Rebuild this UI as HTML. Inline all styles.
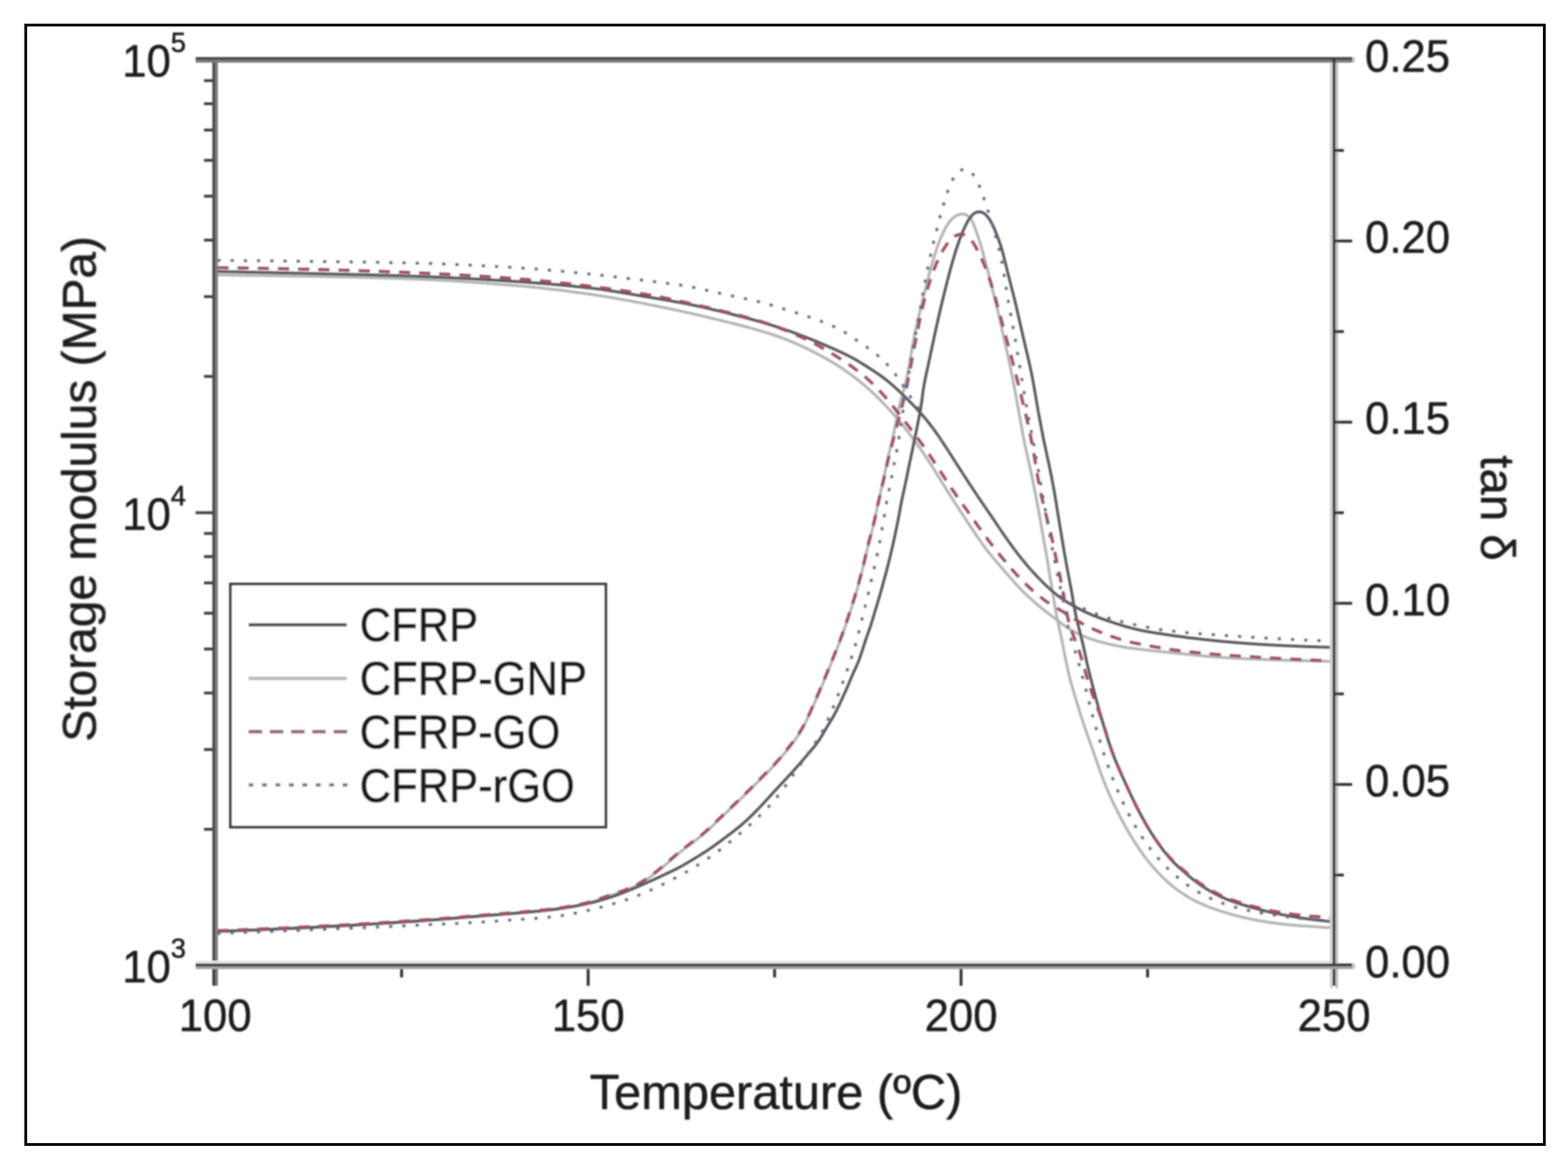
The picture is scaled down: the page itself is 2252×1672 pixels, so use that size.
<!DOCTYPE html>
<html><head><meta charset="utf-8"><title>DMA plot</title>
<style>html,body{margin:0;padding:0;background:#fff;overflow:hidden}svg{display:block}</style>
</head><body>
<svg width="2252" height="1672" viewBox="0 0 2252 1672">
<rect width="100%" height="100%" fill="#fff"/>
<rect x="37" y="36" width="2181" height="1608" fill="none" stroke="#000" stroke-width="4"/>
<defs><filter id="soft" x="0" y="0" width="100%" height="100%" filterUnits="userSpaceOnUse"><feGaussianBlur stdDeviation="0.8"/></filter></defs>
<g filter="url(#soft)">
<g fill="none" stroke-linejoin="round">
<path stroke="#b2b4b2" stroke-width="4" d="M312.2,395.0 L313.3,395.0 L314.6,395.0 L316.0,395.1 L317.7,395.1 L319.4,395.1 L321.2,395.1 L323.1,395.1 L325.1,395.1 L327.0,395.2 L329.0,395.2 L331.0,395.2 L333.0,395.2 L335.0,395.3 L337.0,395.3 L339.0,395.3 L341.0,395.3 L343.0,395.3 L345.0,395.4 L347.0,395.4 L349.0,395.4 L351.0,395.4 L353.0,395.5 L355.0,395.5 L357.0,395.5 L359.0,395.5 L361.0,395.6 L363.0,395.6 L365.0,395.6 L367.0,395.6 L369.0,395.7 L371.0,395.7 L373.0,395.7 L375.0,395.8 L377.0,395.8 L379.0,395.8 L381.0,395.8 L383.0,395.9 L385.0,395.9 L387.0,395.9 L389.0,396.0 L391.0,396.0 L393.0,396.0 L395.0,396.1 L397.0,396.1 L399.0,396.1 L401.0,396.2 L403.0,396.2 L405.0,396.2 L407.0,396.2 L409.0,396.3 L411.0,396.3 L413.0,396.3 L415.0,396.4 L417.0,396.4 L419.0,396.4 L421.0,396.5 L423.0,396.5 L425.0,396.6 L427.0,396.6 L429.0,396.6 L431.0,396.7 L433.0,396.7 L435.0,396.7 L437.0,396.8 L439.0,396.8 L441.0,396.8 L443.0,396.9 L445.0,396.9 L447.0,396.9 L449.0,397.0 L451.0,397.0 L453.0,397.1 L455.0,397.1 L457.0,397.1 L459.0,397.2 L461.0,397.2 L463.0,397.2 L465.0,397.3 L467.0,397.3 L469.0,397.4 L471.0,397.4 L473.0,397.4 L475.0,397.5 L477.0,397.5 L479.0,397.6 L481.0,397.6 L483.0,397.7 L485.0,397.7 L487.0,397.7 L489.0,397.8 L491.0,397.8 L493.0,397.9 L495.0,397.9 L497.0,398.0 L499.0,398.0 L501.0,398.0 L503.0,398.1 L505.0,398.1 L507.0,398.2 L509.0,398.2 L511.0,398.3 L513.0,398.3 L515.0,398.4 L517.0,398.4 L519.0,398.5 L521.0,398.5 L523.0,398.6 L525.0,398.6 L527.0,398.7 L529.0,398.7 L531.0,398.8 L533.0,398.8 L535.0,398.9 L537.0,399.0 L539.0,399.0 L541.0,399.1 L543.0,399.1 L545.0,399.2 L547.0,399.2 L549.0,399.3 L551.0,399.4 L553.0,399.4 L555.0,399.5 L557.0,399.5 L559.0,399.6 L561.0,399.7 L563.0,399.7 L565.0,399.8 L566.9,399.8 L568.9,399.9 L570.9,400.0 L572.9,400.0 L574.9,400.1 L576.9,400.2 L578.9,400.2 L580.9,400.3 L582.9,400.4 L584.9,400.5 L586.9,400.5 L588.9,400.6 L590.9,400.7 L592.9,400.7 L594.9,400.8 L596.9,400.9 L598.9,401.0 L600.9,401.0 L602.9,401.1 L604.9,401.2 L606.9,401.3 L608.9,401.4 L610.9,401.5 L612.9,401.5 L614.9,401.6 L616.9,401.7 L618.9,401.8 L620.9,401.9 L622.9,402.0 L624.9,402.1 L626.9,402.2 L628.9,402.3 L630.9,402.4 L632.9,402.5 L634.9,402.6 L636.9,402.7 L638.9,402.8 L640.9,403.0 L642.9,403.1 L644.9,403.2 L646.9,403.3 L648.9,403.4 L650.9,403.5 L652.9,403.7 L654.9,403.8 L656.9,403.9 L658.9,404.0 L660.8,404.1 L662.8,404.3 L664.8,404.4 L666.8,404.5 L668.8,404.7 L670.8,404.8 L672.8,404.9 L674.8,405.1 L676.8,405.2 L678.8,405.3 L680.8,405.5 L682.8,405.6 L684.8,405.8 L686.8,405.9 L688.8,406.1 L690.8,406.2 L692.8,406.4 L694.8,406.5 L696.8,406.7 L698.8,406.8 L700.7,407.0 L702.7,407.1 L704.7,407.3 L706.7,407.4 L708.7,407.6 L710.7,407.7 L712.7,407.9 L714.7,408.0 L716.7,408.2 L718.7,408.4 L720.7,408.5 L722.7,408.7 L724.7,408.9 L726.7,409.0 L728.7,409.2 L730.7,409.4 L732.6,409.5 L734.6,409.7 L736.6,409.9 L738.6,410.0 L740.6,410.2 L742.6,410.4 L744.6,410.5 L746.6,410.7 L748.6,410.9 L750.6,411.1 L752.6,411.2 L754.6,411.4 L756.6,411.6 L758.5,411.8 L760.5,412.0 L762.5,412.2 L764.5,412.4 L766.5,412.6 L768.5,412.8 L770.5,413.0 L772.5,413.2 L774.5,413.4 L776.5,413.6 L778.4,413.8 L780.4,414.0 L782.4,414.3 L784.4,414.5 L786.4,414.7 L788.4,414.9 L790.4,415.2 L792.4,415.4 L794.3,415.6 L796.3,415.9 L798.3,416.1 L800.3,416.3 L802.3,416.6 L804.3,416.8 L806.2,417.1 L808.2,417.3 L810.2,417.6 L812.2,417.8 L814.2,418.1 L816.2,418.4 L818.2,418.6 L820.1,418.9 L822.1,419.1 L824.1,419.4 L826.1,419.7 L828.1,419.9 L830.0,420.2 L832.0,420.5 L834.0,420.8 L836.0,421.0 L838.0,421.3 L839.9,421.6 L841.9,421.9 L843.9,422.1 L845.9,422.4 L847.9,422.7 L849.8,423.0 L851.8,423.3 L853.8,423.6 L855.8,423.9 L857.8,424.2 L859.7,424.5 L861.7,424.8 L863.7,425.1 L865.7,425.4 L867.6,425.7 L869.6,426.0 L871.6,426.4 L873.6,426.7 L875.5,427.0 L877.5,427.3 L879.5,427.7 L881.5,428.0 L883.4,428.4 L885.4,428.7 L887.4,429.0 L889.3,429.4 L891.3,429.7 L893.3,430.1 L895.2,430.5 L897.2,430.8 L899.2,431.2 L901.1,431.5 L903.1,431.9 L905.1,432.3 L907.0,432.6 L909.0,433.0 L911.0,433.4 L912.9,433.7 L914.9,434.1 L916.9,434.5 L918.8,434.9 L920.8,435.3 L922.8,435.6 L924.7,436.0 L926.7,436.4 L928.6,436.8 L930.6,437.2 L932.6,437.5 L934.5,437.9 L936.5,438.3 L938.5,438.7 L940.4,439.1 L942.4,439.5 L944.3,439.9 L946.3,440.3 L948.3,440.7 L950.2,441.1 L952.2,441.5 L954.1,441.9 L956.1,442.3 L958.1,442.7 L960.0,443.1 L962.0,443.5 L963.9,443.9 L965.9,444.3 L967.8,444.7 L969.8,445.1 L971.8,445.6 L973.7,446.0 L975.7,446.4 L977.6,446.8 L979.6,447.3 L981.5,447.7 L983.5,448.1 L985.4,448.6 L987.4,449.0 L989.3,449.4 L991.3,449.9 L993.2,450.3 L995.2,450.7 L997.1,451.2 L999.1,451.6 L1001.0,452.1 L1003.0,452.5 L1004.9,453.0 L1006.9,453.4 L1008.8,453.9 L1010.8,454.4 L1012.7,454.8 L1014.7,455.3 L1016.6,455.8 L1018.6,456.2 L1020.5,456.7 L1022.4,457.2 L1024.4,457.6 L1026.3,458.1 L1028.3,458.6 L1030.2,459.1 L1032.2,459.5 L1034.1,460.0 L1036.0,460.5 L1038.0,461.0 L1039.9,461.5 L1041.9,461.9 L1043.8,462.4 L1045.8,462.9 L1047.7,463.4 L1049.6,463.9 L1051.6,464.3 L1053.5,464.8 L1055.5,465.3 L1057.4,465.8 L1059.3,466.3 L1061.3,466.8 L1063.2,467.3 L1065.1,467.8 L1067.1,468.3 L1069.0,468.8 L1070.9,469.3 L1072.9,469.8 L1074.8,470.3 L1076.7,470.9 L1078.7,471.4 L1080.6,471.9 L1082.5,472.5 L1084.5,473.0 L1086.4,473.5 L1088.3,474.1 L1090.2,474.7 L1092.1,475.2 L1094.1,475.8 L1096.0,476.4 L1097.9,476.9 L1099.8,477.5 L1101.7,478.1 L1103.6,478.7 L1105.5,479.3 L1107.4,479.9 L1109.3,480.6 L1111.2,481.2 L1113.1,481.8 L1115.0,482.5 L1116.9,483.1 L1118.8,483.8 L1120.7,484.5 L1122.5,485.2 L1124.4,485.9 L1126.3,486.6 L1128.2,487.3 L1130.0,488.0 L1131.9,488.7 L1133.7,489.5 L1135.6,490.2 L1137.4,491.0 L1139.3,491.8 L1141.1,492.6 L1142.9,493.4 L1144.8,494.2 L1146.6,495.0 L1148.4,495.8 L1150.2,496.6 L1152.1,497.5 L1153.9,498.3 L1155.7,499.2 L1157.5,500.1 L1159.3,500.9 L1161.1,501.8 L1162.9,502.7 L1164.6,503.6 L1166.4,504.5 L1168.2,505.4 L1170.0,506.3 L1171.8,507.2 L1173.5,508.2 L1175.3,509.1 L1177.1,510.0 L1178.8,511.0 L1180.6,511.9 L1182.3,512.9 L1184.1,513.9 L1185.8,514.8 L1187.6,515.8 L1189.3,516.8 L1191.1,517.8 L1192.8,518.8 L1194.5,519.8 L1196.2,520.8 L1197.9,521.9 L1199.7,522.9 L1201.3,524.0 L1203.0,525.0 L1204.7,526.1 L1206.4,527.2 L1208.1,528.3 L1209.7,529.4 L1211.4,530.5 L1213.0,531.7 L1214.7,532.8 L1216.3,534.0 L1217.9,535.1 L1219.6,536.3 L1221.2,537.5 L1222.8,538.7 L1224.4,539.9 L1226.0,541.1 L1227.6,542.3 L1229.2,543.5 L1230.8,544.7 L1232.3,545.9 L1233.9,547.2 L1235.4,548.4 L1237.0,549.7 L1238.5,551.0 L1240.1,552.3 L1241.6,553.5 L1243.1,554.8 L1244.6,556.2 L1246.1,557.5 L1247.6,558.8 L1249.1,560.1 L1250.6,561.5 L1252.1,562.8 L1253.5,564.2 L1255.0,565.6 L1256.5,566.9 L1257.9,568.3 L1259.3,569.7 L1260.8,571.1 L1262.2,572.5 L1263.6,573.9 L1265.0,575.3 L1266.4,576.8 L1267.8,578.2 L1269.2,579.6 L1270.6,581.1 L1271.9,582.5 L1273.3,584.0 L1274.7,585.5 L1276.0,586.9 L1277.4,588.4 L1278.7,589.9 L1280.0,591.4 L1281.3,592.9 L1282.7,594.4 L1284.0,595.9 L1285.3,597.4 L1286.6,598.9 L1287.9,600.5 L1289.2,602.0 L1290.5,603.5 L1291.8,605.0 L1293.0,606.6 L1294.3,608.1 L1295.6,609.7 L1296.9,611.2 L1298.1,612.8 L1299.4,614.3 L1300.6,615.9 L1301.8,617.5 L1303.1,619.0 L1304.3,620.6 L1305.5,622.2 L1306.7,623.8 L1308.0,625.4 L1309.2,627.0 L1310.4,628.6 L1311.5,630.2 L1312.7,631.8 L1313.9,633.4 L1315.1,635.0 L1316.3,636.6 L1317.4,638.3 L1318.6,639.9 L1319.7,641.5 L1320.9,643.2 L1322.0,644.8 L1323.2,646.5 L1324.3,648.1 L1325.4,649.8 L1326.5,651.4 L1327.7,653.1 L1328.8,654.7 L1329.9,656.4 L1331.0,658.1 L1332.1,659.7 L1333.2,661.4 L1334.3,663.1 L1335.4,664.8 L1336.5,666.4 L1337.5,668.1 L1338.6,669.8 L1339.7,671.5 L1340.7,673.2 L1341.8,674.9 L1342.9,676.6 L1343.9,678.3 L1345.0,680.0 L1346.0,681.7 L1347.1,683.4 L1348.1,685.1 L1349.2,686.8 L1350.2,688.5 L1351.3,690.2 L1352.3,691.9 L1353.4,693.6 L1354.4,695.3 L1355.5,697.0 L1356.6,698.7 L1357.6,700.4 L1358.7,702.1 L1359.8,703.8 L1360.8,705.4 L1361.9,707.1 L1363.0,708.8 L1364.1,710.5 L1365.1,712.2 L1366.2,713.9 L1367.3,715.6 L1368.4,717.2 L1369.5,718.9 L1370.5,720.6 L1371.6,722.3 L1372.7,724.0 L1373.8,725.7 L1374.9,727.3 L1376.0,729.0 L1377.0,730.7 L1378.1,732.4 L1379.2,734.1 L1380.3,735.7 L1381.4,737.4 L1382.5,739.1 L1383.6,740.8 L1384.7,742.4 L1385.8,744.1 L1386.8,745.8 L1387.9,747.5 L1389.0,749.1 L1390.1,750.8 L1391.3,752.5 L1392.4,754.1 L1393.5,755.8 L1394.6,757.5 L1395.7,759.1 L1396.8,760.8 L1397.9,762.4 L1399.1,764.1 L1400.2,765.7 L1401.3,767.4 L1402.4,769.1 L1403.6,770.7 L1404.7,772.4 L1405.8,774.0 L1407.0,775.6 L1408.1,777.3 L1409.3,778.9 L1410.4,780.6 L1411.6,782.2 L1412.7,783.8 L1413.9,785.4 L1415.1,787.0 L1416.3,788.6 L1417.5,790.2 L1418.7,791.8 L1420.0,793.4 L1421.2,794.9 L1422.5,796.5 L1423.7,798.1 L1425.0,799.6 L1426.2,801.2 L1427.5,802.7 L1428.8,804.2 L1430.1,805.8 L1431.4,807.3 L1432.7,808.8 L1434.0,810.3 L1435.3,811.8 L1436.6,813.3 L1437.9,814.8 L1439.2,816.4 L1440.6,817.9 L1441.9,819.4 L1443.2,820.9 L1444.5,822.4 L1445.8,823.9 L1447.1,825.4 L1448.4,826.9 L1449.8,828.4 L1451.1,829.9 L1452.4,831.4 L1453.7,832.9 L1455.0,834.4 L1456.4,835.9 L1457.7,837.4 L1459.0,838.9 L1460.4,840.4 L1461.8,841.8 L1463.1,843.3 L1464.5,844.7 L1465.9,846.2 L1467.3,847.6 L1468.7,849.0 L1470.1,850.4 L1471.5,851.8 L1473.0,853.2 L1474.4,854.6 L1475.9,856.0 L1477.3,857.3 L1478.8,858.7 L1480.3,860.0 L1481.8,861.4 L1483.3,862.7 L1484.8,864.0 L1486.3,865.4 L1487.8,866.7 L1489.3,868.0 L1490.8,869.3 L1492.4,870.5 L1493.9,871.8 L1495.4,873.1 L1497.0,874.3 L1498.6,875.6 L1500.1,876.8 L1501.7,878.1 L1503.3,879.3 L1504.9,880.5 L1506.5,881.7 L1508.1,882.9 L1509.6,884.1 L1511.2,885.3 L1512.8,886.5 L1514.4,887.8 L1516.0,889.0 L1517.6,890.2 L1519.2,891.4 L1520.8,892.6 L1522.4,893.8 L1523.9,895.1 L1525.5,896.3 L1527.1,897.5 L1528.7,898.6 L1530.4,899.8 L1532.0,900.9 L1533.7,902.1 L1535.3,903.1 L1537.0,904.2 L1538.8,905.2 L1540.5,906.2 L1542.2,907.2 L1544.0,908.1 L1545.8,909.0 L1547.6,909.9 L1549.4,910.7 L1551.2,911.6 L1553.0,912.4 L1554.8,913.2 L1556.7,914.0 L1558.5,914.7 L1560.4,915.4 L1562.3,916.1 L1564.1,916.8 L1566.0,917.5 L1567.9,918.1 L1569.8,918.8 L1571.7,919.4 L1573.6,920.0 L1575.5,920.6 L1577.5,921.1 L1579.4,921.7 L1581.3,922.2 L1583.2,922.7 L1585.2,923.2 L1587.1,923.7 L1589.0,924.2 L1591.0,924.7 L1592.9,925.1 L1594.9,925.6 L1596.8,926.0 L1598.8,926.5 L1600.7,926.9 L1602.7,927.3 L1604.7,927.7 L1606.6,928.1 L1608.6,928.5 L1610.5,928.8 L1612.5,929.2 L1614.5,929.5 L1616.5,929.8 L1618.4,930.2 L1620.4,930.5 L1622.4,930.8 L1624.4,931.0 L1626.3,931.3 L1628.3,931.6 L1630.3,931.8 L1632.3,932.1 L1634.3,932.4 L1636.3,932.6 L1638.3,932.8 L1640.2,933.1 L1642.2,933.3 L1644.2,933.5 L1646.2,933.7 L1648.2,933.9 L1650.2,934.2 L1652.2,934.4 L1654.2,934.6 L1656.1,934.8 L1658.1,935.0 L1660.1,935.2 L1662.1,935.4 L1664.1,935.6 L1666.1,935.8 L1668.1,936.0 L1670.1,936.2 L1672.1,936.4 L1674.1,936.6 L1676.0,936.8 L1678.0,937.0 L1680.0,937.2 L1682.0,937.4 L1684.0,937.6 L1686.0,937.8 L1688.0,938.1 L1690.0,938.3 L1692.0,938.5 L1693.9,938.7 L1695.9,938.9 L1697.9,939.1 L1699.9,939.3 L1701.9,939.5 L1703.9,939.7 L1705.9,940.0 L1707.9,940.2 L1709.9,940.4 L1711.8,940.6 L1713.8,940.8 L1715.8,941.0 L1717.8,941.2 L1719.8,941.4 L1721.8,941.6 L1723.8,941.8 L1725.8,942.0 L1727.8,942.2 L1729.8,942.3 L1731.7,942.5 L1733.7,942.7 L1735.7,942.9 L1737.7,943.0 L1739.7,943.2 L1741.7,943.4 L1743.7,943.5 L1745.7,943.7 L1747.7,943.8 L1749.7,944.0 L1751.7,944.1 L1753.7,944.3 L1755.7,944.4 L1757.7,944.5 L1759.7,944.6 L1761.7,944.8 L1763.7,944.9 L1765.7,945.0 L1767.7,945.1 L1769.6,945.2 L1771.6,945.3 L1773.6,945.4 L1775.6,945.5 L1777.6,945.6 L1779.6,945.7 L1781.6,945.8 L1783.6,945.9 L1785.6,946.0 L1787.6,946.1 L1789.6,946.2 L1791.6,946.3 L1793.6,946.4 L1795.6,946.5 L1797.6,946.6 L1799.6,946.7 L1801.6,946.7 L1803.6,946.8 L1805.6,946.9 L1807.6,947.0 L1809.6,947.1 L1811.6,947.1 L1813.6,947.2 L1815.6,947.3 L1817.6,947.4 L1819.6,947.4 L1821.6,947.5 L1823.6,947.6 L1825.6,947.6 L1827.6,947.7 L1829.6,947.8 L1831.6,947.8 L1833.6,947.9 L1835.6,948.0 L1837.6,948.0 L1839.6,948.1 L1841.6,948.2 L1843.6,948.2 L1845.6,948.3 L1847.6,948.4 L1849.6,948.4 L1851.6,948.5 L1853.6,948.5 L1855.6,948.6 L1857.6,948.7 L1859.6,948.7 L1861.6,948.8 L1863.6,948.8 L1865.6,948.9 L1867.6,948.9 L1869.6,949.0 L1871.6,949.0 L1873.6,949.1 L1875.6,949.1 L1877.6,949.2 L1879.6,949.3 L1881.6,949.3 L1883.6,949.3 L1885.6,949.4 L1887.6,949.4 L1889.6,949.5 L1891.6,949.5 L1893.6,949.6 L1895.6,949.6 L1897.5,949.7 L1899.5,949.7 L1901.4,949.7 L1903.3,949.8 L1905.2,949.8 L1906.9,949.8 L1908.5,949.9 L1910.0,949.9 L1911.3,949.9 L1912.4,949.9"/>
<path stroke="#b2b4b2" stroke-width="4" d="M312.2,1337.9 L313.3,1337.9 L314.6,1337.8 L316.0,1337.8 L317.7,1337.7 L319.4,1337.6 L321.2,1337.6 L323.1,1337.5 L325.1,1337.4 L327.0,1337.4 L329.0,1337.3 L331.0,1337.2 L333.0,1337.1 L335.0,1337.1 L337.0,1337.0 L339.0,1336.9 L341.0,1336.8 L343.0,1336.8 L345.0,1336.7 L347.0,1336.6 L349.0,1336.5 L351.0,1336.4 L353.0,1336.4 L355.0,1336.3 L357.0,1336.2 L359.0,1336.1 L361.0,1336.0 L363.0,1336.0 L365.0,1335.9 L367.0,1335.8 L369.0,1335.7 L371.0,1335.6 L373.0,1335.5 L375.0,1335.5 L376.9,1335.4 L378.9,1335.3 L380.9,1335.2 L382.9,1335.1 L384.9,1335.0 L386.9,1334.9 L388.9,1334.9 L390.9,1334.8 L392.9,1334.7 L394.9,1334.6 L396.9,1334.5 L398.9,1334.4 L400.9,1334.3 L402.9,1334.2 L404.9,1334.1 L406.9,1334.1 L408.9,1334.0 L410.9,1333.9 L412.9,1333.8 L414.9,1333.7 L416.9,1333.6 L418.9,1333.5 L420.9,1333.4 L422.9,1333.3 L424.9,1333.2 L426.9,1333.1 L428.9,1333.0 L430.9,1332.9 L432.9,1332.8 L434.9,1332.7 L436.9,1332.6 L438.9,1332.5 L440.9,1332.4 L442.9,1332.3 L444.9,1332.3 L446.9,1332.2 L448.9,1332.1 L450.9,1332.0 L452.9,1331.9 L454.9,1331.8 L456.9,1331.7 L458.9,1331.5 L460.9,1331.4 L462.9,1331.3 L464.9,1331.2 L466.8,1331.1 L468.8,1331.0 L470.8,1330.9 L472.8,1330.8 L474.8,1330.7 L476.8,1330.6 L478.8,1330.5 L480.8,1330.4 L482.8,1330.3 L484.8,1330.2 L486.8,1330.1 L488.8,1330.0 L490.8,1329.8 L492.8,1329.7 L494.8,1329.6 L496.8,1329.5 L498.8,1329.4 L500.8,1329.3 L502.8,1329.2 L504.8,1329.1 L506.8,1328.9 L508.8,1328.8 L510.8,1328.7 L512.8,1328.6 L514.8,1328.5 L516.8,1328.4 L518.8,1328.2 L520.8,1328.1 L522.8,1328.0 L524.8,1327.9 L526.8,1327.8 L528.7,1327.6 L530.7,1327.5 L532.7,1327.4 L534.7,1327.3 L536.7,1327.1 L538.7,1327.0 L540.7,1326.9 L542.7,1326.8 L544.7,1326.6 L546.7,1326.5 L548.7,1326.4 L550.7,1326.3 L552.7,1326.1 L554.7,1326.0 L556.7,1325.9 L558.7,1325.8 L560.7,1325.6 L562.7,1325.5 L564.7,1325.4 L566.7,1325.2 L568.7,1325.1 L570.7,1325.0 L572.7,1324.8 L574.7,1324.7 L576.7,1324.6 L578.6,1324.4 L580.6,1324.3 L582.6,1324.2 L584.6,1324.0 L586.6,1323.9 L588.6,1323.8 L590.6,1323.6 L592.6,1323.5 L594.6,1323.4 L596.6,1323.2 L598.6,1323.1 L600.6,1323.0 L602.6,1322.8 L604.6,1322.7 L606.6,1322.5 L608.6,1322.4 L610.6,1322.2 L612.6,1322.1 L614.6,1321.9 L616.6,1321.8 L618.5,1321.6 L620.5,1321.5 L622.5,1321.3 L624.5,1321.2 L626.5,1321.0 L628.5,1320.9 L630.5,1320.7 L632.5,1320.6 L634.5,1320.4 L636.5,1320.3 L638.5,1320.1 L640.5,1319.9 L642.5,1319.8 L644.5,1319.6 L646.5,1319.5 L648.5,1319.3 L650.5,1319.1 L652.4,1319.0 L654.4,1318.8 L656.4,1318.6 L658.4,1318.5 L660.4,1318.3 L662.4,1318.1 L664.4,1318.0 L666.4,1317.8 L668.4,1317.6 L670.4,1317.5 L672.4,1317.3 L674.4,1317.1 L676.4,1317.0 L678.4,1316.8 L680.3,1316.6 L682.3,1316.5 L684.3,1316.3 L686.3,1316.1 L688.3,1316.0 L690.3,1315.8 L692.3,1315.6 L694.3,1315.5 L696.3,1315.3 L698.3,1315.1 L700.3,1315.0 L702.3,1314.8 L704.3,1314.7 L706.3,1314.5 L708.3,1314.3 L710.2,1314.2 L712.2,1314.0 L714.2,1313.9 L716.2,1313.7 L718.2,1313.5 L720.2,1313.4 L722.2,1313.2 L724.2,1313.1 L726.2,1312.9 L728.2,1312.7 L730.2,1312.6 L732.2,1312.4 L734.2,1312.3 L736.2,1312.1 L738.2,1311.9 L740.1,1311.8 L742.1,1311.6 L744.1,1311.4 L746.1,1311.3 L748.1,1311.1 L750.1,1310.9 L752.1,1310.8 L754.1,1310.6 L756.1,1310.4 L758.1,1310.2 L760.1,1310.1 L762.1,1309.9 L764.1,1309.7 L766.0,1309.5 L768.0,1309.3 L770.0,1309.1 L772.0,1308.9 L774.0,1308.7 L776.0,1308.5 L778.0,1308.3 L780.0,1308.1 L782.0,1307.9 L784.0,1307.6 L785.9,1307.4 L787.9,1307.2 L789.9,1306.9 L791.9,1306.7 L793.9,1306.5 L795.9,1306.2 L797.8,1305.9 L799.8,1305.7 L801.8,1305.4 L803.8,1305.1 L805.8,1304.8 L807.8,1304.6 L809.7,1304.3 L811.7,1304.0 L813.7,1303.6 L815.7,1303.3 L817.6,1303.0 L819.6,1302.7 L821.6,1302.3 L823.5,1302.0 L825.5,1301.6 L827.5,1301.2 L829.4,1300.8 L831.4,1300.4 L833.3,1300.0 L835.3,1299.5 L837.2,1299.1 L839.2,1298.6 L841.1,1298.2 L843.1,1297.7 L845.0,1297.1 L846.9,1296.6 L848.8,1296.1 L850.7,1295.5 L852.7,1294.9 L854.6,1294.3 L856.5,1293.7 L858.3,1293.0 L860.2,1292.4 L862.1,1291.7 L864.0,1291.0 L865.9,1290.3 L867.8,1289.7 L869.6,1289.0 L871.5,1288.3 L873.4,1287.7 L875.3,1287.0 L877.2,1286.4 L879.1,1285.7 L881.0,1285.1 L882.9,1284.5 L884.8,1283.9 L886.7,1283.2 L888.6,1282.6 L890.5,1282.0 L892.4,1281.3 L894.3,1280.7 L896.2,1280.0 L898.0,1279.3 L899.9,1278.6 L901.7,1277.8 L903.6,1277.1 L905.4,1276.2 L907.2,1275.4 L909.0,1274.6 L910.8,1273.7 L912.6,1272.8 L914.4,1271.8 L916.1,1270.9 L917.9,1269.9 L919.6,1268.9 L921.3,1267.9 L923.0,1266.8 L924.7,1265.8 L926.4,1264.7 L928.0,1263.6 L929.7,1262.5 L931.3,1261.3 L933.0,1260.2 L934.6,1259.0 L936.2,1257.8 L937.8,1256.6 L939.4,1255.4 L941.0,1254.2 L942.6,1253.0 L944.1,1251.7 L945.7,1250.5 L947.2,1249.2 L948.8,1248.0 L950.3,1246.7 L951.9,1245.4 L953.4,1244.1 L954.9,1242.8 L956.4,1241.5 L957.9,1240.2 L959.4,1238.9 L961.0,1237.6 L962.5,1236.3 L964.0,1235.0 L965.5,1233.7 L967.0,1232.3 L968.5,1231.0 L970.0,1229.7 L971.6,1228.4 L973.1,1227.1 L974.6,1225.9 L976.1,1224.6 L977.7,1223.3 L979.2,1222.0 L980.8,1220.8 L982.4,1219.5 L983.9,1218.3 L985.5,1217.1 L987.1,1215.9 L988.7,1214.7 L990.3,1213.5 L991.9,1212.3 L993.5,1211.1 L995.1,1209.9 L996.7,1208.7 L998.4,1207.5 L1000.0,1206.3 L1001.5,1205.1 L1003.1,1203.9 L1004.7,1202.7 L1006.3,1201.5 L1007.8,1200.2 L1009.4,1198.9 L1010.9,1197.6 L1012.4,1196.3 L1013.9,1195.0 L1015.4,1193.7 L1016.9,1192.3 L1018.4,1191.0 L1019.8,1189.6 L1021.3,1188.3 L1022.7,1186.9 L1024.2,1185.5 L1025.6,1184.1 L1027.1,1182.7 L1028.5,1181.3 L1029.9,1179.9 L1031.4,1178.5 L1032.8,1177.1 L1034.2,1175.8 L1035.7,1174.4 L1037.1,1173.0 L1038.5,1171.6 L1040.0,1170.2 L1041.4,1168.8 L1042.9,1167.5 L1044.3,1166.1 L1045.8,1164.7 L1047.3,1163.3 L1048.7,1162.0 L1050.2,1160.6 L1051.6,1159.2 L1053.1,1157.8 L1054.5,1156.5 L1056.0,1155.1 L1057.4,1153.7 L1058.9,1152.3 L1060.3,1151.0 L1061.8,1149.6 L1063.2,1148.2 L1064.7,1146.8 L1066.1,1145.4 L1067.5,1144.0 L1069.0,1142.6 L1070.4,1141.2 L1071.8,1139.8 L1073.2,1138.4 L1074.6,1137.0 L1076.1,1135.6 L1077.5,1134.2 L1078.9,1132.8 L1080.3,1131.3 L1081.7,1129.9 L1083.1,1128.5 L1084.5,1127.1 L1085.9,1125.7 L1087.3,1124.2 L1088.8,1122.8 L1090.2,1121.4 L1091.6,1120.0 L1093.0,1118.6 L1094.4,1117.2 L1095.8,1115.7 L1097.2,1114.3 L1098.6,1112.9 L1100.1,1111.5 L1101.5,1110.1 L1102.9,1108.7 L1104.3,1107.3 L1105.7,1105.8 L1107.1,1104.4 L1108.5,1103.0 L1109.9,1101.5 L1111.2,1100.1 L1112.6,1098.6 L1113.9,1097.1 L1115.3,1095.6 L1116.6,1094.1 L1117.9,1092.6 L1119.2,1091.1 L1120.5,1089.6 L1121.8,1088.0 L1123.1,1086.5 L1124.3,1085.0 L1125.6,1083.4 L1126.9,1081.9 L1128.1,1080.3 L1129.4,1078.8 L1130.6,1077.2 L1131.9,1075.6 L1133.1,1074.1 L1134.4,1072.5 L1135.6,1070.9 L1136.8,1069.4 L1138.1,1067.8 L1139.3,1066.2 L1140.5,1064.6 L1141.7,1063.0 L1142.8,1061.4 L1144.0,1059.7 L1145.1,1058.1 L1146.3,1056.4 L1147.4,1054.8 L1148.4,1053.1 L1149.5,1051.4 L1150.5,1049.7 L1151.5,1048.0 L1152.5,1046.2 L1153.5,1044.5 L1154.4,1042.7 L1155.4,1041.0 L1156.3,1039.2 L1157.2,1037.4 L1158.1,1035.6 L1158.9,1033.8 L1159.8,1032.0 L1160.7,1030.2 L1161.5,1028.4 L1162.3,1026.6 L1163.2,1024.7 L1164.0,1022.9 L1164.8,1021.1 L1165.6,1019.3 L1166.4,1017.4 L1167.2,1015.6 L1168.0,1013.8 L1168.9,1011.9 L1169.7,1010.1 L1170.5,1008.3 L1171.3,1006.5 L1172.1,1004.6 L1172.9,1002.8 L1173.7,1001.0 L1174.5,999.1 L1175.3,997.3 L1176.1,995.5 L1176.9,993.6 L1177.6,991.8 L1178.4,989.9 L1179.2,988.1 L1180.0,986.3 L1180.8,984.4 L1181.5,982.6 L1182.3,980.7 L1183.1,978.9 L1183.8,977.0 L1184.6,975.2 L1185.3,973.3 L1186.1,971.5 L1186.9,969.6 L1187.6,967.8 L1188.4,965.9 L1189.1,964.1 L1189.9,962.2 L1190.6,960.4 L1191.4,958.5 L1192.1,956.7 L1192.9,954.8 L1193.6,952.9 L1194.4,951.1 L1195.2,949.2 L1195.9,947.4 L1196.7,945.5 L1197.4,943.7 L1198.2,941.8 L1198.9,940.0 L1199.6,938.1 L1200.4,936.3 L1201.1,934.4 L1201.9,932.5 L1202.6,930.7 L1203.3,928.8 L1204.0,926.9 L1204.8,925.1 L1205.5,923.2 L1206.2,921.3 L1206.9,919.5 L1207.6,917.6 L1208.3,915.7 L1209.0,913.8 L1209.7,912.0 L1210.3,910.1 L1211.0,908.2 L1211.7,906.3 L1212.3,904.4 L1213.0,902.5 L1213.7,900.7 L1214.3,898.8 L1215.0,896.9 L1215.6,895.0 L1216.3,893.1 L1216.9,891.2 L1217.5,889.3 L1218.2,887.4 L1218.8,885.5 L1219.4,883.6 L1220.1,881.7 L1220.7,879.8 L1221.3,877.9 L1222.0,876.0 L1222.6,874.1 L1223.2,872.2 L1223.8,870.3 L1224.4,868.4 L1225.0,866.5 L1225.6,864.6 L1226.2,862.7 L1226.8,860.8 L1227.4,858.9 L1228.0,857.0 L1228.6,855.0 L1229.1,853.1 L1229.7,851.2 L1230.3,849.3 L1230.8,847.4 L1231.4,845.4 L1231.9,843.5 L1232.5,841.6 L1233.0,839.7 L1233.5,837.7 L1234.1,835.8 L1234.6,833.9 L1235.1,831.9 L1235.6,830.0 L1236.1,828.1 L1236.6,826.1 L1237.1,824.2 L1237.6,822.3 L1238.1,820.3 L1238.6,818.4 L1239.1,816.5 L1239.6,814.5 L1240.1,812.6 L1240.5,810.6 L1241.0,808.7 L1241.5,806.7 L1241.9,804.8 L1242.4,802.8 L1242.8,800.9 L1243.3,798.9 L1243.7,797.0 L1244.2,795.1 L1244.6,793.1 L1245.1,791.2 L1245.6,789.2 L1246.0,787.3 L1246.5,785.3 L1246.9,783.4 L1247.4,781.4 L1247.9,779.5 L1248.4,777.5 L1248.9,775.6 L1249.4,773.7 L1249.9,771.7 L1250.4,769.8 L1250.9,767.9 L1251.4,765.9 L1251.9,764.0 L1252.4,762.1 L1252.9,760.1 L1253.4,758.2 L1253.9,756.3 L1254.4,754.3 L1254.9,752.4 L1255.3,750.4 L1255.8,748.5 L1256.2,746.5 L1256.6,744.6 L1257.1,742.6 L1257.5,740.7 L1257.9,738.7 L1258.3,736.7 L1258.7,734.8 L1259.1,732.8 L1259.5,730.9 L1259.9,728.9 L1260.3,727.0 L1260.7,725.0 L1261.2,723.0 L1261.6,721.1 L1262.0,719.1 L1262.4,717.2 L1262.9,715.2 L1263.3,713.3 L1263.7,711.3 L1264.2,709.4 L1264.6,707.4 L1265.1,705.5 L1265.5,703.5 L1265.9,701.6 L1266.4,699.6 L1266.8,697.7 L1267.2,695.7 L1267.7,693.8 L1268.1,691.8 L1268.5,689.9 L1269.0,687.9 L1269.4,686.0 L1269.8,684.0 L1270.3,682.0 L1270.7,680.1 L1271.1,678.1 L1271.5,676.2 L1272.0,674.2 L1272.4,672.3 L1272.8,670.3 L1273.2,668.4 L1273.6,666.4 L1274.1,664.4 L1274.5,662.5 L1274.9,660.5 L1275.3,658.6 L1275.8,656.6 L1276.2,654.7 L1276.6,652.7 L1277.1,650.8 L1277.5,648.8 L1278.0,646.9 L1278.5,644.9 L1278.9,643.0 L1279.4,641.1 L1279.9,639.1 L1280.4,637.2 L1280.8,635.2 L1281.3,633.3 L1281.7,631.3 L1282.2,629.4 L1282.6,627.4 L1283.0,625.5 L1283.4,623.5 L1283.8,621.6 L1284.2,619.6 L1284.6,617.6 L1285.0,615.7 L1285.4,613.7 L1285.8,611.7 L1286.1,609.8 L1286.5,607.8 L1286.9,605.9 L1287.3,603.9 L1287.7,601.9 L1288.0,600.0 L1288.4,598.0 L1288.8,596.0 L1289.2,594.1 L1289.7,592.1 L1290.1,590.2 L1290.5,588.2 L1291.0,586.3 L1291.5,584.3 L1292.0,582.4 L1292.4,580.5 L1293.0,578.5 L1293.5,576.6 L1294.0,574.7 L1294.5,572.7 L1295.0,570.8 L1295.6,568.9 L1296.1,566.9 L1296.6,565.0 L1297.1,563.1 L1297.7,561.2 L1298.2,559.2 L1298.7,557.3 L1299.2,555.4 L1299.7,553.4 L1300.2,551.5 L1300.7,549.5 L1301.1,547.6 L1301.6,545.7 L1302.0,543.7 L1302.5,541.8 L1302.9,539.8 L1303.3,537.8 L1303.7,535.9 L1304.1,533.9 L1304.4,532.0 L1304.8,530.0 L1305.1,528.0 L1305.5,526.0 L1305.8,524.1 L1306.2,522.1 L1306.5,520.1 L1306.8,518.2 L1307.2,516.2 L1307.5,514.2 L1307.9,512.3 L1308.2,510.3 L1308.6,508.3 L1308.9,506.3 L1309.3,504.4 L1309.6,502.4 L1310.0,500.4 L1310.3,498.5 L1310.7,496.5 L1311.0,494.5 L1311.4,492.6 L1311.8,490.6 L1312.1,488.6 L1312.5,486.7 L1312.9,484.7 L1313.2,482.7 L1313.6,480.8 L1314.0,478.8 L1314.4,476.9 L1314.8,474.9 L1315.2,472.9 L1315.6,471.0 L1316.1,469.0 L1316.5,467.1 L1316.9,465.1 L1317.4,463.2 L1317.8,461.2 L1318.3,459.3 L1318.8,457.3 L1319.2,455.4 L1319.7,453.4 L1320.2,451.5 L1320.6,449.6 L1321.1,447.6 L1321.6,445.7 L1322.1,443.7 L1322.5,441.8 L1323.0,439.8 L1323.5,437.9 L1324.0,436.0 L1324.5,434.0 L1324.9,432.1 L1325.4,430.1 L1325.9,428.2 L1326.4,426.3 L1326.9,424.3 L1327.3,422.4 L1327.8,420.4 L1328.3,418.5 L1328.8,416.6 L1329.3,414.6 L1329.8,412.7 L1330.2,410.7 L1330.7,408.8 L1331.2,406.9 L1331.7,404.9 L1332.2,403.0 L1332.7,401.0 L1333.2,399.1 L1333.7,397.2 L1334.2,395.2 L1334.7,393.3 L1335.3,391.4 L1335.8,389.4 L1336.3,387.5 L1336.8,385.6 L1337.4,383.7 L1337.9,381.7 L1338.5,379.8 L1339.0,377.9 L1339.6,376.0 L1340.1,374.0 L1340.7,372.1 L1341.2,370.2 L1341.8,368.3 L1342.4,366.4 L1343.0,364.5 L1343.6,362.6 L1344.2,360.6 L1344.8,358.7 L1345.4,356.9 L1346.1,355.0 L1346.8,353.1 L1347.4,351.2 L1348.1,349.3 L1348.8,347.5 L1349.6,345.6 L1350.3,343.7 L1351.1,341.9 L1351.9,340.1 L1352.7,338.2 L1353.5,336.4 L1354.3,334.6 L1355.2,332.8 L1356.1,331.0 L1357.0,329.2 L1358.0,327.5 L1358.9,325.7 L1360.0,324.0 L1361.0,322.4 L1362.1,320.7 L1363.3,319.1 L1364.5,317.6 L1365.8,316.1 L1367.1,314.7 L1368.5,313.3 L1370.0,312.1 L1371.5,311.0 L1373.1,310.0 L1374.8,309.1 L1376.5,308.4 L1378.3,307.9 L1380.0,307.6 L1381.8,307.5 L1383.6,307.6 L1385.3,307.9 L1387.0,308.4 L1388.6,309.2 L1390.1,310.1 L1391.5,311.2 L1392.8,312.5 L1393.9,313.9 L1395.0,315.4 L1395.9,317.1 L1396.8,318.8 L1397.6,320.6 L1398.4,322.4 L1399.1,324.3 L1399.8,326.1 L1400.5,328.0 L1401.2,329.9 L1401.9,331.7 L1402.6,333.6 L1403.2,335.5 L1403.9,337.4 L1404.5,339.3 L1405.2,341.2 L1405.8,343.1 L1406.4,345.0 L1407.0,346.9 L1407.6,348.8 L1408.2,350.7 L1408.7,352.6 L1409.3,354.5 L1409.8,356.5 L1410.4,358.4 L1410.9,360.3 L1411.5,362.2 L1412.0,364.2 L1412.5,366.1 L1413.1,368.0 L1413.6,370.0 L1414.1,371.9 L1414.7,373.8 L1415.2,375.7 L1415.7,377.7 L1416.2,379.6 L1416.7,381.5 L1417.2,383.5 L1417.8,385.4 L1418.3,387.3 L1418.8,389.3 L1419.3,391.2 L1419.8,393.1 L1420.3,395.1 L1420.8,397.0 L1421.3,399.0 L1421.8,400.9 L1422.2,402.8 L1422.7,404.8 L1423.2,406.7 L1423.7,408.7 L1424.2,410.6 L1424.7,412.5 L1425.2,414.5 L1425.6,416.4 L1426.1,418.4 L1426.6,420.3 L1427.1,422.2 L1427.6,424.2 L1428.0,426.1 L1428.5,428.1 L1429.0,430.0 L1429.5,431.9 L1430.0,433.9 L1430.5,435.8 L1431.0,437.8 L1431.4,439.7 L1431.9,441.6 L1432.4,443.6 L1432.9,445.5 L1433.3,447.5 L1433.8,449.4 L1434.3,451.4 L1434.7,453.3 L1435.2,455.3 L1435.6,457.2 L1436.0,459.2 L1436.5,461.1 L1436.9,463.1 L1437.3,465.0 L1437.8,467.0 L1438.2,468.9 L1438.6,470.9 L1439.0,472.8 L1439.4,474.8 L1439.9,476.8 L1440.3,478.7 L1440.7,480.7 L1441.1,482.6 L1441.6,484.6 L1442.0,486.5 L1442.4,488.5 L1442.9,490.4 L1443.3,492.4 L1443.7,494.3 L1444.2,496.3 L1444.6,498.2 L1445.1,500.2 L1445.5,502.1 L1446.0,504.1 L1446.4,506.0 L1446.9,508.0 L1447.3,509.9 L1447.7,511.9 L1448.2,513.8 L1448.6,515.8 L1449.0,517.7 L1449.5,519.7 L1449.9,521.6 L1450.3,523.6 L1450.7,525.6 L1451.1,527.5 L1451.5,529.5 L1451.9,531.4 L1452.3,533.4 L1452.7,535.4 L1453.1,537.3 L1453.5,539.3 L1453.9,541.2 L1454.3,543.2 L1454.7,545.2 L1455.0,547.1 L1455.4,549.1 L1455.8,551.1 L1456.2,553.0 L1456.6,555.0 L1456.9,557.0 L1457.3,558.9 L1457.7,560.9 L1458.0,562.8 L1458.4,564.8 L1458.8,566.8 L1459.1,568.7 L1459.5,570.7 L1459.8,572.7 L1460.2,574.7 L1460.6,576.6 L1460.9,578.6 L1461.3,580.6 L1461.6,582.5 L1462.0,584.5 L1462.4,586.5 L1462.7,588.4 L1463.1,590.4 L1463.4,592.4 L1463.8,594.3 L1464.1,596.3 L1464.5,598.3 L1464.8,600.2 L1465.2,602.2 L1465.5,604.2 L1465.9,606.1 L1466.2,608.1 L1466.6,610.1 L1466.9,612.0 L1467.3,614.0 L1467.7,616.0 L1468.0,618.0 L1468.4,619.9 L1468.7,621.9 L1469.1,623.9 L1469.5,625.8 L1469.8,627.8 L1470.2,629.7 L1470.6,631.7 L1471.0,633.7 L1471.4,635.6 L1471.8,637.6 L1472.2,639.5 L1472.6,641.5 L1473.0,643.5 L1473.5,645.4 L1473.9,647.4 L1474.3,649.3 L1474.8,651.3 L1475.2,653.2 L1475.7,655.2 L1476.1,657.1 L1476.6,659.1 L1477.0,661.0 L1477.4,663.0 L1477.9,664.9 L1478.3,666.9 L1478.8,668.8 L1479.2,670.8 L1479.6,672.7 L1480.0,674.7 L1480.4,676.6 L1480.9,678.6 L1481.3,680.6 L1481.7,682.5 L1482.1,684.5 L1482.5,686.4 L1482.9,688.4 L1483.3,690.4 L1483.7,692.3 L1484.1,694.3 L1484.5,696.2 L1484.8,698.2 L1485.2,700.2 L1485.6,702.1 L1486.0,704.1 L1486.4,706.0 L1486.8,708.0 L1487.2,710.0 L1487.6,711.9 L1488.0,713.9 L1488.3,715.9 L1488.7,717.8 L1489.1,719.8 L1489.5,721.7 L1489.9,723.7 L1490.2,725.7 L1490.6,727.6 L1491.0,729.6 L1491.3,731.6 L1491.7,733.5 L1492.1,735.5 L1492.4,737.5 L1492.8,739.4 L1493.1,741.4 L1493.5,743.4 L1493.8,745.4 L1494.1,747.3 L1494.5,749.3 L1494.8,751.3 L1495.1,753.2 L1495.5,755.2 L1495.8,757.2 L1496.2,759.1 L1496.5,761.1 L1496.8,763.1 L1497.2,765.1 L1497.5,767.0 L1497.9,769.0 L1498.2,771.0 L1498.6,772.9 L1498.9,774.9 L1499.3,776.9 L1499.7,778.8 L1500.0,780.8 L1500.4,782.8 L1500.7,784.7 L1501.1,786.7 L1501.4,788.7 L1501.8,790.7 L1502.1,792.6 L1502.5,794.6 L1502.8,796.6 L1503.2,798.5 L1503.5,800.5 L1503.8,802.5 L1504.2,804.4 L1504.5,806.4 L1504.8,808.4 L1505.1,810.4 L1505.4,812.3 L1505.8,814.3 L1506.1,816.3 L1506.4,818.3 L1506.7,820.2 L1507.0,822.2 L1507.4,824.2 L1507.7,826.2 L1508.0,828.1 L1508.3,830.1 L1508.6,832.1 L1509.0,834.1 L1509.3,836.0 L1509.6,838.0 L1510.0,840.0 L1510.3,841.9 L1510.6,843.9 L1511.0,845.9 L1511.3,847.9 L1511.6,849.8 L1512.0,851.8 L1512.3,853.8 L1512.6,855.8 L1512.9,857.7 L1513.3,859.7 L1513.6,861.7 L1513.9,863.6 L1514.3,865.6 L1514.6,867.6 L1514.9,869.6 L1515.3,871.5 L1515.6,873.5 L1516.0,875.5 L1516.3,877.4 L1516.7,879.4 L1517.0,881.4 L1517.4,883.3 L1517.8,885.3 L1518.2,887.3 L1518.6,889.2 L1519.0,891.2 L1519.4,893.1 L1519.8,895.1 L1520.2,897.1 L1520.7,899.0 L1521.1,901.0 L1521.5,902.9 L1521.9,904.9 L1522.4,906.8 L1522.8,908.8 L1523.2,910.7 L1523.6,912.7 L1524.0,914.6 L1524.4,916.6 L1524.8,918.6 L1525.2,920.5 L1525.6,922.5 L1526.0,924.4 L1526.4,926.4 L1526.8,928.4 L1527.2,930.3 L1527.5,932.3 L1527.9,934.3 L1528.3,936.2 L1528.7,938.2 L1529.1,940.1 L1529.5,942.1 L1529.9,944.1 L1530.3,946.0 L1530.7,948.0 L1531.1,949.9 L1531.5,951.9 L1531.9,953.9 L1532.3,955.8 L1532.7,957.8 L1533.1,959.7 L1533.5,961.7 L1534.0,963.6 L1534.4,965.6 L1534.9,967.5 L1535.3,969.5 L1535.8,971.4 L1536.3,973.4 L1536.8,975.3 L1537.3,977.2 L1537.8,979.2 L1538.4,981.1 L1538.9,983.0 L1539.5,984.9 L1540.0,986.9 L1540.6,988.8 L1541.1,990.7 L1541.7,992.6 L1542.3,994.5 L1542.8,996.5 L1543.4,998.4 L1544.0,1000.3 L1544.5,1002.2 L1545.1,1004.1 L1545.7,1006.0 L1546.3,1008.0 L1546.8,1009.9 L1547.4,1011.8 L1548.0,1013.7 L1548.6,1015.6 L1549.2,1017.5 L1549.8,1019.4 L1550.3,1021.3 L1550.9,1023.3 L1551.5,1025.2 L1552.1,1027.1 L1552.8,1029.0 L1553.4,1030.9 L1554.0,1032.8 L1554.6,1034.7 L1555.2,1036.6 L1555.9,1038.5 L1556.5,1040.4 L1557.1,1042.3 L1557.8,1044.2 L1558.4,1046.1 L1559.1,1047.9 L1559.7,1049.8 L1560.4,1051.7 L1561.0,1053.6 L1561.7,1055.5 L1562.4,1057.4 L1563.0,1059.3 L1563.7,1061.2 L1564.4,1063.0 L1565.0,1064.9 L1565.7,1066.8 L1566.4,1068.7 L1567.1,1070.6 L1567.7,1072.5 L1568.4,1074.3 L1569.1,1076.2 L1569.7,1078.1 L1570.4,1080.0 L1571.0,1081.9 L1571.7,1083.8 L1572.4,1085.7 L1573.0,1087.6 L1573.7,1089.5 L1574.3,1091.3 L1575.0,1093.2 L1575.6,1095.1 L1576.3,1097.0 L1576.9,1098.9 L1577.6,1100.8 L1578.3,1102.7 L1578.9,1104.6 L1579.6,1106.5 L1580.2,1108.3 L1580.9,1110.2 L1581.6,1112.1 L1582.3,1114.0 L1583.0,1115.9 L1583.7,1117.7 L1584.4,1119.6 L1585.1,1121.5 L1585.8,1123.3 L1586.6,1125.2 L1587.3,1127.0 L1588.1,1128.9 L1588.8,1130.7 L1589.6,1132.6 L1590.4,1134.4 L1591.2,1136.3 L1592.0,1138.1 L1592.8,1139.9 L1593.6,1141.8 L1594.4,1143.6 L1595.2,1145.4 L1596.1,1147.2 L1596.9,1149.0 L1597.8,1150.8 L1598.6,1152.7 L1599.5,1154.5 L1600.3,1156.3 L1601.2,1158.1 L1602.1,1159.9 L1603.0,1161.7 L1603.9,1163.4 L1604.8,1165.2 L1605.7,1167.0 L1606.6,1168.8 L1607.5,1170.6 L1608.4,1172.4 L1609.3,1174.1 L1610.2,1175.9 L1611.2,1177.7 L1612.1,1179.4 L1613.1,1181.2 L1614.0,1183.0 L1615.0,1184.7 L1615.9,1186.5 L1616.9,1188.2 L1617.9,1190.0 L1618.9,1191.7 L1619.9,1193.4 L1620.9,1195.2 L1621.9,1196.9 L1622.9,1198.6 L1623.9,1200.3 L1625.0,1202.0 L1626.0,1203.7 L1627.1,1205.4 L1628.1,1207.1 L1629.2,1208.8 L1630.3,1210.5 L1631.4,1212.2 L1632.5,1213.9 L1633.6,1215.5 L1634.7,1217.2 L1635.8,1218.9 L1636.9,1220.5 L1638.0,1222.2 L1639.2,1223.8 L1640.3,1225.4 L1641.5,1227.1 L1642.7,1228.7 L1643.8,1230.3 L1645.0,1231.9 L1646.3,1233.5 L1647.5,1235.1 L1648.7,1236.6 L1650.0,1238.2 L1651.2,1239.7 L1652.5,1241.3 L1653.8,1242.8 L1655.1,1244.3 L1656.4,1245.8 L1657.7,1247.3 L1659.1,1248.8 L1660.4,1250.3 L1661.8,1251.8 L1663.1,1253.2 L1664.5,1254.7 L1665.9,1256.1 L1667.3,1257.5 L1668.7,1259.0 L1670.1,1260.4 L1671.6,1261.8 L1673.0,1263.1 L1674.5,1264.5 L1675.9,1265.9 L1677.4,1267.2 L1678.9,1268.5 L1680.4,1269.8 L1682.0,1271.1 L1683.5,1272.4 L1685.1,1273.6 L1686.6,1274.8 L1688.2,1276.1 L1689.8,1277.3 L1691.4,1278.5 L1693.0,1279.6 L1694.7,1280.8 L1696.3,1281.9 L1698.0,1283.1 L1699.6,1284.2 L1701.3,1285.3 L1703.0,1286.3 L1704.7,1287.4 L1706.4,1288.4 L1708.1,1289.4 L1709.8,1290.4 L1711.6,1291.4 L1713.3,1292.4 L1715.1,1293.3 L1716.9,1294.2 L1718.7,1295.1 L1720.5,1296.0 L1722.3,1296.9 L1724.1,1297.7 L1725.9,1298.5 L1727.7,1299.3 L1729.6,1300.1 L1731.4,1300.9 L1733.3,1301.6 L1735.1,1302.3 L1737.0,1303.1 L1738.9,1303.8 L1740.7,1304.5 L1742.6,1305.1 L1744.5,1305.8 L1746.4,1306.5 L1748.3,1307.1 L1750.2,1307.7 L1752.1,1308.4 L1754.0,1309.0 L1755.9,1309.6 L1757.8,1310.2 L1759.7,1310.8 L1761.6,1311.3 L1763.5,1311.9 L1765.5,1312.5 L1767.4,1313.0 L1769.3,1313.6 L1771.2,1314.1 L1773.2,1314.6 L1775.1,1315.1 L1777.0,1315.6 L1779.0,1316.1 L1780.9,1316.6 L1782.9,1317.1 L1784.8,1317.6 L1786.7,1318.0 L1788.7,1318.5 L1790.6,1318.9 L1792.6,1319.3 L1794.6,1319.7 L1796.5,1320.2 L1798.5,1320.6 L1800.4,1320.9 L1802.4,1321.3 L1804.4,1321.7 L1806.3,1322.1 L1808.3,1322.4 L1810.3,1322.8 L1812.2,1323.1 L1814.2,1323.4 L1816.2,1323.7 L1818.2,1324.1 L1820.1,1324.4 L1822.1,1324.7 L1824.1,1325.0 L1826.1,1325.3 L1828.0,1325.5 L1830.0,1325.8 L1832.0,1326.1 L1834.0,1326.4 L1836.0,1326.6 L1838.0,1326.9 L1839.9,1327.1 L1841.9,1327.4 L1843.9,1327.6 L1845.9,1327.8 L1847.9,1328.0 L1849.9,1328.2 L1851.9,1328.4 L1853.9,1328.6 L1855.8,1328.8 L1857.8,1329.0 L1859.8,1329.2 L1861.8,1329.3 L1863.8,1329.5 L1865.8,1329.6 L1867.8,1329.8 L1869.8,1329.9 L1871.8,1330.1 L1873.8,1330.2 L1875.8,1330.3 L1877.8,1330.5 L1879.8,1330.6 L1881.8,1330.7 L1883.8,1330.9 L1885.8,1331.0 L1887.8,1331.1 L1889.8,1331.3 L1891.8,1331.4 L1893.7,1331.5 L1895.7,1331.7 L1897.7,1331.8 L1899.7,1331.9 L1901.6,1332.1 L1903.5,1332.2 L1905.3,1332.3 L1907.1,1332.4 L1908.7,1332.5 L1910.1,1332.6 L1911.4,1332.7 L1912.5,1332.8"/>
<path stroke="#56565c" stroke-width="4" d="M312.2,390.1 L313.3,390.1 L314.6,390.1 L316.0,390.1 L317.7,390.2 L319.4,390.2 L321.2,390.2 L323.1,390.3 L325.1,390.3 L327.0,390.3 L329.0,390.4 L331.0,390.4 L333.0,390.5 L335.0,390.5 L337.0,390.5 L339.0,390.6 L341.0,390.6 L343.0,390.7 L345.0,390.7 L347.0,390.7 L349.0,390.8 L351.0,390.8 L353.0,390.9 L355.0,390.9 L357.0,390.9 L359.0,391.0 L361.0,391.0 L363.0,391.1 L365.0,391.1 L367.0,391.1 L369.0,391.2 L371.0,391.2 L373.0,391.3 L375.0,391.3 L377.0,391.4 L379.0,391.4 L381.0,391.4 L383.0,391.5 L385.0,391.5 L387.0,391.6 L389.0,391.6 L391.0,391.7 L393.0,391.7 L395.0,391.7 L397.0,391.8 L399.0,391.8 L401.0,391.9 L403.0,391.9 L405.0,392.0 L407.0,392.0 L409.0,392.1 L411.0,392.1 L413.0,392.1 L415.0,392.2 L417.0,392.2 L419.0,392.3 L421.0,392.3 L423.0,392.4 L425.0,392.4 L427.0,392.5 L429.0,392.5 L431.0,392.6 L433.0,392.6 L435.0,392.6 L437.0,392.7 L439.0,392.7 L441.0,392.8 L443.0,392.8 L445.0,392.9 L447.0,392.9 L449.0,393.0 L451.0,393.0 L453.0,393.1 L455.0,393.1 L457.0,393.2 L459.0,393.2 L461.0,393.3 L463.0,393.3 L465.0,393.3 L467.0,393.4 L469.0,393.4 L471.0,393.5 L473.0,393.5 L475.0,393.6 L477.0,393.6 L479.0,393.7 L481.0,393.7 L483.0,393.8 L485.0,393.8 L487.0,393.9 L489.0,393.9 L491.0,394.0 L493.0,394.0 L495.0,394.0 L497.0,394.1 L499.0,394.1 L501.0,394.2 L503.0,394.2 L505.0,394.3 L507.0,394.3 L509.0,394.4 L511.0,394.4 L513.0,394.5 L514.9,394.5 L516.9,394.6 L518.9,394.6 L520.9,394.7 L522.9,394.7 L524.9,394.8 L526.9,394.8 L528.9,394.9 L530.9,394.9 L532.9,395.0 L534.9,395.0 L536.9,395.1 L538.9,395.1 L540.9,395.2 L542.9,395.2 L544.9,395.3 L546.9,395.4 L548.9,395.4 L550.9,395.5 L552.9,395.5 L554.9,395.6 L556.9,395.6 L558.9,395.7 L560.9,395.7 L562.9,395.8 L564.9,395.9 L566.9,395.9 L568.9,396.0 L570.9,396.0 L572.9,396.1 L574.9,396.2 L576.9,396.2 L578.9,396.3 L580.9,396.4 L582.9,396.4 L584.9,396.5 L586.9,396.6 L588.9,396.6 L590.9,396.7 L592.9,396.8 L594.9,396.8 L596.9,396.9 L598.9,397.0 L600.9,397.0 L602.9,397.1 L604.9,397.2 L606.9,397.3 L608.9,397.3 L610.9,397.4 L612.9,397.5 L614.9,397.6 L616.9,397.6 L618.9,397.7 L620.9,397.8 L622.9,397.9 L624.9,398.0 L626.9,398.1 L628.9,398.1 L630.9,398.2 L632.9,398.3 L634.9,398.4 L636.9,398.5 L638.9,398.6 L640.9,398.7 L642.9,398.8 L644.9,398.9 L646.9,399.0 L648.9,399.1 L650.9,399.2 L652.9,399.3 L654.9,399.4 L656.9,399.5 L658.9,399.6 L660.9,399.7 L662.9,399.8 L664.8,399.9 L666.8,400.0 L668.8,400.1 L670.8,400.2 L672.8,400.3 L674.8,400.4 L676.8,400.5 L678.8,400.6 L680.8,400.7 L682.8,400.8 L684.8,400.9 L686.8,401.0 L688.8,401.2 L690.8,401.3 L692.8,401.4 L694.8,401.5 L696.8,401.6 L698.8,401.7 L700.8,401.9 L702.8,402.0 L704.8,402.1 L706.8,402.2 L708.8,402.3 L710.8,402.5 L712.8,402.6 L714.8,402.7 L716.8,402.8 L718.8,403.0 L720.8,403.1 L722.8,403.2 L724.7,403.3 L726.7,403.5 L728.7,403.6 L730.7,403.7 L732.7,403.9 L734.7,404.0 L736.7,404.1 L738.7,404.2 L740.7,404.4 L742.7,404.5 L744.7,404.6 L746.7,404.8 L748.7,404.9 L750.7,405.1 L752.7,405.2 L754.7,405.3 L756.7,405.5 L758.7,405.6 L760.7,405.8 L762.7,405.9 L764.7,406.1 L766.7,406.2 L768.6,406.3 L770.6,406.5 L772.6,406.7 L774.6,406.8 L776.6,407.0 L778.6,407.1 L780.6,407.3 L782.6,407.4 L784.6,407.6 L786.6,407.8 L788.6,407.9 L790.6,408.1 L792.6,408.3 L794.6,408.4 L796.6,408.6 L798.5,408.8 L800.5,409.0 L802.5,409.2 L804.5,409.3 L806.5,409.5 L808.5,409.7 L810.5,409.9 L812.5,410.1 L814.5,410.3 L816.5,410.5 L818.5,410.7 L820.4,410.8 L822.4,411.0 L824.4,411.2 L826.4,411.5 L828.4,411.7 L830.4,411.9 L832.4,412.1 L834.4,412.3 L836.4,412.5 L838.4,412.7 L840.3,412.9 L842.3,413.2 L844.3,413.4 L846.3,413.6 L848.3,413.8 L850.3,414.1 L852.3,414.3 L854.2,414.6 L856.2,414.8 L858.2,415.1 L860.2,415.3 L862.2,415.6 L864.2,415.8 L866.1,416.1 L868.1,416.4 L870.1,416.7 L872.1,417.0 L874.1,417.3 L876.0,417.6 L878.0,417.9 L880.0,418.2 L882.0,418.5 L883.9,418.8 L885.9,419.1 L887.9,419.4 L889.9,419.7 L891.8,420.1 L893.8,420.4 L895.8,420.7 L897.8,421.1 L899.7,421.4 L901.7,421.7 L903.7,422.0 L905.6,422.4 L907.6,422.7 L909.6,423.0 L911.6,423.4 L913.5,423.7 L915.5,424.1 L917.5,424.4 L919.4,424.7 L921.4,425.1 L923.4,425.4 L925.4,425.7 L927.3,426.1 L929.3,426.4 L931.3,426.7 L933.3,427.0 L935.2,427.4 L937.2,427.7 L939.2,428.0 L941.1,428.4 L943.1,428.7 L945.1,429.0 L947.1,429.4 L949.0,429.7 L951.0,430.1 L953.0,430.4 L954.9,430.7 L956.9,431.1 L958.9,431.4 L960.9,431.8 L962.8,432.1 L964.8,432.5 L966.8,432.8 L968.7,433.2 L970.7,433.5 L972.7,433.9 L974.6,434.3 L976.6,434.6 L978.6,435.0 L980.5,435.4 L982.5,435.8 L984.5,436.1 L986.4,436.5 L988.4,436.9 L990.3,437.3 L992.3,437.7 L994.3,438.1 L996.2,438.5 L998.2,438.9 L1000.1,439.3 L1002.1,439.7 L1004.0,440.1 L1006.0,440.6 L1008.0,441.0 L1009.9,441.4 L1011.9,441.9 L1013.8,442.3 L1015.8,442.7 L1017.7,443.2 L1019.7,443.6 L1021.6,444.1 L1023.6,444.6 L1025.5,445.0 L1027.4,445.5 L1029.4,445.9 L1031.3,446.4 L1033.3,446.9 L1035.2,447.4 L1037.2,447.8 L1039.1,448.3 L1041.0,448.8 L1043.0,449.3 L1044.9,449.7 L1046.9,450.2 L1048.8,450.7 L1050.8,451.2 L1052.7,451.7 L1054.6,452.2 L1056.6,452.7 L1058.5,453.2 L1060.4,453.7 L1062.4,454.2 L1064.3,454.7 L1066.3,455.2 L1068.2,455.7 L1070.1,456.2 L1072.1,456.7 L1074.0,457.2 L1075.9,457.7 L1077.8,458.2 L1079.8,458.8 L1081.7,459.3 L1083.6,459.8 L1085.6,460.4 L1087.5,460.9 L1089.4,461.5 L1091.3,462.0 L1093.3,462.6 L1095.2,463.1 L1097.1,463.7 L1099.0,464.2 L1100.9,464.8 L1102.8,465.4 L1104.8,466.0 L1106.7,466.6 L1108.6,467.2 L1110.5,467.8 L1112.4,468.4 L1114.3,469.0 L1116.2,469.6 L1118.1,470.2 L1120.0,470.8 L1121.9,471.5 L1123.8,472.1 L1125.7,472.8 L1127.6,473.4 L1129.5,474.1 L1131.3,474.7 L1133.2,475.4 L1135.1,476.1 L1137.0,476.7 L1138.9,477.4 L1140.8,478.1 L1142.6,478.8 L1144.5,479.5 L1146.4,480.2 L1148.3,480.9 L1150.1,481.6 L1152.0,482.3 L1153.9,483.0 L1155.7,483.7 L1157.6,484.5 L1159.5,485.2 L1161.3,485.9 L1163.2,486.7 L1165.0,487.4 L1166.9,488.2 L1168.7,488.9 L1170.6,489.7 L1172.4,490.4 L1174.3,491.2 L1176.1,492.0 L1178.0,492.7 L1179.8,493.5 L1181.7,494.3 L1183.5,495.1 L1185.3,495.9 L1187.2,496.7 L1189.0,497.5 L1190.8,498.3 L1192.7,499.1 L1194.5,499.9 L1196.3,500.7 L1198.2,501.5 L1200.0,502.3 L1201.8,503.1 L1203.6,504.0 L1205.4,504.8 L1207.3,505.6 L1209.1,506.5 L1210.9,507.3 L1212.7,508.2 L1214.5,509.1 L1216.3,510.0 L1218.1,510.9 L1219.8,511.8 L1221.6,512.7 L1223.4,513.6 L1225.1,514.6 L1226.9,515.6 L1228.6,516.5 L1230.4,517.5 L1232.1,518.5 L1233.8,519.6 L1235.5,520.6 L1237.2,521.6 L1238.9,522.7 L1240.6,523.7 L1242.3,524.8 L1244.0,525.9 L1245.7,527.0 L1247.4,528.0 L1249.1,529.1 L1250.7,530.2 L1252.4,531.3 L1254.1,532.4 L1255.8,533.5 L1257.4,534.6 L1259.1,535.7 L1260.7,536.9 L1262.4,538.0 L1264.0,539.1 L1265.6,540.3 L1267.2,541.5 L1268.9,542.7 L1270.5,543.9 L1272.0,545.1 L1273.6,546.3 L1275.2,547.6 L1276.7,548.8 L1278.2,550.1 L1279.8,551.4 L1281.3,552.7 L1282.8,554.0 L1284.3,555.4 L1285.8,556.7 L1287.2,558.1 L1288.7,559.4 L1290.2,560.8 L1291.6,562.1 L1293.1,563.5 L1294.5,564.9 L1296.0,566.3 L1297.4,567.7 L1298.8,569.1 L1300.3,570.5 L1301.7,571.9 L1303.1,573.3 L1304.5,574.7 L1305.9,576.1 L1307.3,577.6 L1308.7,579.0 L1310.1,580.4 L1311.5,581.9 L1312.9,583.3 L1314.2,584.8 L1315.6,586.2 L1317.0,587.7 L1318.3,589.2 L1319.7,590.6 L1321.0,592.1 L1322.3,593.6 L1323.7,595.1 L1325.0,596.6 L1326.3,598.1 L1327.6,599.7 L1328.9,601.2 L1330.2,602.7 L1331.4,604.3 L1332.7,605.8 L1333.9,607.4 L1335.2,608.9 L1336.4,610.5 L1337.6,612.1 L1338.8,613.7 L1340.0,615.3 L1341.2,616.9 L1342.4,618.5 L1343.6,620.1 L1344.7,621.8 L1345.9,623.4 L1347.0,625.1 L1348.1,626.7 L1349.3,628.4 L1350.4,630.0 L1351.5,631.7 L1352.6,633.3 L1353.7,635.0 L1354.8,636.7 L1355.9,638.4 L1357.0,640.0 L1358.1,641.7 L1359.2,643.4 L1360.3,645.1 L1361.4,646.7 L1362.4,648.4 L1363.5,650.1 L1364.6,651.8 L1365.7,653.5 L1366.8,655.2 L1367.8,656.8 L1368.9,658.5 L1370.0,660.2 L1371.1,661.9 L1372.1,663.6 L1373.2,665.3 L1374.3,667.0 L1375.4,668.6 L1376.5,670.3 L1377.5,672.0 L1378.6,673.7 L1379.7,675.4 L1380.8,677.0 L1381.9,678.7 L1383.0,680.4 L1384.0,682.1 L1385.1,683.8 L1386.2,685.4 L1387.3,687.1 L1388.4,688.8 L1389.5,690.5 L1390.6,692.1 L1391.7,693.8 L1392.8,695.5 L1393.9,697.2 L1395.0,698.8 L1396.1,700.5 L1397.2,702.2 L1398.3,703.8 L1399.4,705.5 L1400.5,707.2 L1401.6,708.8 L1402.7,710.5 L1403.8,712.2 L1404.9,713.8 L1406.1,715.5 L1407.2,717.1 L1408.3,718.8 L1409.4,720.4 L1410.6,722.1 L1411.7,723.7 L1412.8,725.4 L1413.9,727.0 L1415.1,728.7 L1416.2,730.3 L1417.3,732.0 L1418.5,733.6 L1419.6,735.3 L1420.7,736.9 L1421.9,738.6 L1423.0,740.2 L1424.1,741.9 L1425.2,743.6 L1426.3,745.2 L1427.5,746.9 L1428.6,748.5 L1429.7,750.2 L1430.8,751.8 L1431.9,753.5 L1433.0,755.2 L1434.2,756.8 L1435.3,758.5 L1436.4,760.1 L1437.5,761.8 L1438.6,763.5 L1439.8,765.1 L1440.9,766.8 L1442.0,768.4 L1443.2,770.1 L1444.3,771.7 L1445.5,773.3 L1446.6,775.0 L1447.8,776.6 L1448.9,778.2 L1450.1,779.8 L1451.3,781.5 L1452.5,783.1 L1453.6,784.7 L1454.8,786.3 L1456.0,787.9 L1457.2,789.5 L1458.4,791.1 L1459.6,792.7 L1460.8,794.3 L1462.0,795.9 L1463.3,797.5 L1464.5,799.1 L1465.7,800.6 L1467.0,802.2 L1468.2,803.7 L1469.5,805.3 L1470.8,806.8 L1472.0,808.4 L1473.3,809.9 L1474.6,811.4 L1475.9,813.0 L1477.2,814.5 L1478.5,816.0 L1479.8,817.5 L1481.2,819.0 L1482.5,820.5 L1483.8,822.0 L1485.2,823.4 L1486.6,824.9 L1487.9,826.4 L1489.3,827.8 L1490.7,829.3 L1492.1,830.7 L1493.5,832.1 L1494.9,833.6 L1496.3,835.0 L1497.7,836.4 L1499.1,837.8 L1500.5,839.2 L1502.0,840.6 L1503.4,842.0 L1504.9,843.4 L1506.3,844.7 L1507.8,846.1 L1509.3,847.4 L1510.8,848.7 L1512.3,850.0 L1513.8,851.3 L1515.3,852.6 L1516.9,853.8 L1518.5,855.1 L1520.1,856.3 L1521.7,857.5 L1523.3,858.6 L1525.0,859.8 L1526.6,860.9 L1528.3,862.0 L1529.9,863.1 L1531.6,864.1 L1533.3,865.2 L1535.0,866.2 L1536.8,867.3 L1538.5,868.3 L1540.2,869.3 L1541.9,870.3 L1543.7,871.2 L1545.4,872.2 L1547.2,873.2 L1549.0,874.1 L1550.7,875.0 L1552.5,876.0 L1554.3,876.9 L1556.1,877.7 L1557.9,878.6 L1559.7,879.5 L1561.5,880.3 L1563.3,881.1 L1565.1,881.9 L1567.0,882.7 L1568.8,883.5 L1570.7,884.3 L1572.5,885.0 L1574.4,885.7 L1576.3,886.4 L1578.1,887.1 L1580.0,887.8 L1581.9,888.5 L1583.8,889.2 L1585.7,889.8 L1587.6,890.5 L1589.4,891.1 L1591.3,891.8 L1593.2,892.4 L1595.1,893.1 L1597.0,893.7 L1598.9,894.4 L1600.8,895.0 L1602.7,895.6 L1604.6,896.2 L1606.5,896.8 L1608.4,897.4 L1610.3,898.0 L1612.3,898.6 L1614.2,899.2 L1616.1,899.7 L1618.0,900.3 L1619.9,900.8 L1621.9,901.3 L1623.8,901.9 L1625.7,902.4 L1627.7,902.9 L1629.6,903.4 L1631.6,903.8 L1633.5,904.3 L1635.4,904.7 L1637.4,905.1 L1639.4,905.6 L1641.3,906.0 L1643.3,906.4 L1645.2,906.7 L1647.2,907.1 L1649.2,907.4 L1651.1,907.8 L1653.1,908.1 L1655.1,908.5 L1657.1,908.8 L1659.0,909.1 L1661.0,909.4 L1663.0,909.7 L1665.0,910.0 L1666.9,910.3 L1668.9,910.6 L1670.9,910.9 L1672.9,911.2 L1674.8,911.5 L1676.8,911.8 L1678.8,912.1 L1680.8,912.4 L1682.8,912.7 L1684.7,913.0 L1686.7,913.2 L1688.7,913.5 L1690.7,913.8 L1692.7,914.1 L1694.6,914.3 L1696.6,914.6 L1698.6,914.9 L1700.6,915.1 L1702.6,915.4 L1704.6,915.7 L1706.5,915.9 L1708.5,916.2 L1710.5,916.4 L1712.5,916.6 L1714.5,916.9 L1716.5,917.1 L1718.5,917.3 L1720.4,917.6 L1722.4,917.8 L1724.4,918.0 L1726.4,918.3 L1728.4,918.5 L1730.4,918.7 L1732.4,918.9 L1734.4,919.1 L1736.3,919.3 L1738.3,919.6 L1740.3,919.8 L1742.3,920.0 L1744.3,920.2 L1746.3,920.4 L1748.3,920.6 L1750.3,920.8 L1752.3,921.0 L1754.3,921.2 L1756.2,921.4 L1758.2,921.6 L1760.2,921.7 L1762.2,921.9 L1764.2,922.1 L1766.2,922.3 L1768.2,922.5 L1770.2,922.6 L1772.2,922.8 L1774.2,923.0 L1776.2,923.1 L1778.2,923.3 L1780.2,923.4 L1782.2,923.6 L1784.1,923.7 L1786.1,923.9 L1788.1,924.0 L1790.1,924.2 L1792.1,924.3 L1794.1,924.5 L1796.1,924.6 L1798.1,924.7 L1800.1,924.9 L1802.1,925.0 L1804.1,925.1 L1806.1,925.3 L1808.1,925.4 L1810.1,925.5 L1812.1,925.7 L1814.1,925.8 L1816.1,925.9 L1818.1,926.0 L1820.1,926.1 L1822.1,926.3 L1824.1,926.4 L1826.1,926.5 L1828.1,926.6 L1830.0,926.7 L1832.0,926.8 L1834.0,926.9 L1836.0,927.0 L1838.0,927.1 L1840.0,927.2 L1842.0,927.3 L1844.0,927.4 L1846.0,927.5 L1848.0,927.6 L1850.0,927.7 L1852.0,927.7 L1854.0,927.8 L1856.0,927.9 L1858.0,928.0 L1860.0,928.1 L1862.0,928.2 L1864.0,928.3 L1866.0,928.3 L1868.0,928.4 L1870.0,928.5 L1872.0,928.6 L1874.0,928.7 L1876.0,928.7 L1878.0,928.8 L1880.0,928.9 L1882.0,929.0 L1884.0,929.0 L1886.0,929.1 L1888.0,929.2 L1890.0,929.3 L1892.0,929.3 L1894.0,929.4 L1896.0,929.4 L1898.0,929.5 L1899.9,929.6 L1901.9,929.6 L1903.8,929.7 L1905.6,929.7 L1907.3,929.8 L1908.9,929.8 L1910.4,929.9 L1911.7,929.9 L1912.8,929.9"/>
<path stroke="#56565c" stroke-width="4" d="M312.2,1337.9 L313.3,1337.9 L314.6,1337.8 L316.0,1337.8 L317.7,1337.7 L319.4,1337.6 L321.2,1337.6 L323.1,1337.5 L325.1,1337.4 L327.0,1337.4 L329.0,1337.3 L331.0,1337.2 L333.0,1337.1 L335.0,1337.1 L337.0,1337.0 L339.0,1336.9 L341.0,1336.8 L343.0,1336.8 L345.0,1336.7 L347.0,1336.6 L349.0,1336.5 L351.0,1336.4 L353.0,1336.4 L355.0,1336.3 L357.0,1336.2 L359.0,1336.1 L361.0,1336.0 L363.0,1336.0 L365.0,1335.9 L367.0,1335.8 L369.0,1335.7 L371.0,1335.6 L373.0,1335.5 L375.0,1335.5 L376.9,1335.4 L378.9,1335.3 L380.9,1335.2 L382.9,1335.1 L384.9,1335.0 L386.9,1334.9 L388.9,1334.9 L390.9,1334.8 L392.9,1334.7 L394.9,1334.6 L396.9,1334.5 L398.9,1334.4 L400.9,1334.3 L402.9,1334.2 L404.9,1334.1 L406.9,1334.1 L408.9,1334.0 L410.9,1333.9 L412.9,1333.8 L414.9,1333.7 L416.9,1333.6 L418.9,1333.5 L420.9,1333.4 L422.9,1333.3 L424.9,1333.2 L426.9,1333.1 L428.9,1333.0 L430.9,1332.9 L432.9,1332.8 L434.9,1332.7 L436.9,1332.6 L438.9,1332.5 L440.9,1332.4 L442.9,1332.3 L444.9,1332.3 L446.9,1332.2 L448.9,1332.1 L450.9,1332.0 L452.9,1331.9 L454.9,1331.8 L456.9,1331.7 L458.9,1331.5 L460.9,1331.4 L462.9,1331.3 L464.9,1331.2 L466.8,1331.1 L468.8,1331.0 L470.8,1330.9 L472.8,1330.8 L474.8,1330.7 L476.8,1330.6 L478.8,1330.5 L480.8,1330.4 L482.8,1330.3 L484.8,1330.2 L486.8,1330.1 L488.8,1330.0 L490.8,1329.8 L492.8,1329.7 L494.8,1329.6 L496.8,1329.5 L498.8,1329.4 L500.8,1329.3 L502.8,1329.2 L504.8,1329.1 L506.8,1328.9 L508.8,1328.8 L510.8,1328.7 L512.8,1328.6 L514.8,1328.5 L516.8,1328.4 L518.8,1328.2 L520.8,1328.1 L522.8,1328.0 L524.8,1327.9 L526.8,1327.8 L528.7,1327.6 L530.7,1327.5 L532.7,1327.4 L534.7,1327.3 L536.7,1327.1 L538.7,1327.0 L540.7,1326.9 L542.7,1326.8 L544.7,1326.6 L546.7,1326.5 L548.7,1326.4 L550.7,1326.3 L552.7,1326.1 L554.7,1326.0 L556.7,1325.9 L558.7,1325.8 L560.7,1325.6 L562.7,1325.5 L564.7,1325.4 L566.7,1325.2 L568.7,1325.1 L570.7,1325.0 L572.7,1324.8 L574.7,1324.7 L576.7,1324.6 L578.6,1324.4 L580.6,1324.3 L582.6,1324.2 L584.6,1324.0 L586.6,1323.9 L588.6,1323.8 L590.6,1323.6 L592.6,1323.5 L594.6,1323.4 L596.6,1323.2 L598.6,1323.1 L600.6,1323.0 L602.6,1322.8 L604.6,1322.7 L606.6,1322.5 L608.6,1322.4 L610.6,1322.2 L612.6,1322.1 L614.6,1321.9 L616.6,1321.8 L618.5,1321.6 L620.5,1321.5 L622.5,1321.3 L624.5,1321.2 L626.5,1321.0 L628.5,1320.9 L630.5,1320.7 L632.5,1320.6 L634.5,1320.4 L636.5,1320.3 L638.5,1320.1 L640.5,1319.9 L642.5,1319.8 L644.5,1319.6 L646.5,1319.5 L648.5,1319.3 L650.5,1319.1 L652.4,1319.0 L654.4,1318.8 L656.4,1318.6 L658.4,1318.5 L660.4,1318.3 L662.4,1318.1 L664.4,1318.0 L666.4,1317.8 L668.4,1317.6 L670.4,1317.5 L672.4,1317.3 L674.4,1317.1 L676.4,1317.0 L678.4,1316.8 L680.3,1316.6 L682.3,1316.5 L684.3,1316.3 L686.3,1316.1 L688.3,1316.0 L690.3,1315.8 L692.3,1315.6 L694.3,1315.5 L696.3,1315.3 L698.3,1315.1 L700.3,1315.0 L702.3,1314.8 L704.3,1314.7 L706.3,1314.5 L708.3,1314.3 L710.2,1314.2 L712.2,1314.0 L714.2,1313.9 L716.2,1313.7 L718.2,1313.5 L720.2,1313.4 L722.2,1313.2 L724.2,1313.1 L726.2,1312.9 L728.2,1312.7 L730.2,1312.6 L732.2,1312.4 L734.2,1312.3 L736.2,1312.1 L738.2,1311.9 L740.1,1311.8 L742.1,1311.6 L744.1,1311.4 L746.1,1311.3 L748.1,1311.1 L750.1,1310.9 L752.1,1310.8 L754.1,1310.6 L756.1,1310.4 L758.1,1310.2 L760.1,1310.1 L762.1,1309.9 L764.1,1309.7 L766.0,1309.5 L768.0,1309.3 L770.0,1309.1 L772.0,1308.9 L774.0,1308.7 L776.0,1308.5 L778.0,1308.3 L780.0,1308.1 L782.0,1307.9 L784.0,1307.6 L785.9,1307.4 L787.9,1307.2 L789.9,1306.9 L791.9,1306.7 L793.9,1306.4 L795.9,1306.2 L797.8,1305.9 L799.8,1305.7 L801.8,1305.4 L803.8,1305.1 L805.8,1304.8 L807.7,1304.5 L809.7,1304.2 L811.7,1303.9 L813.7,1303.6 L815.7,1303.3 L817.6,1303.0 L819.6,1302.7 L821.6,1302.3 L823.5,1302.0 L825.5,1301.6 L827.5,1301.3 L829.4,1300.9 L831.4,1300.5 L833.4,1300.1 L835.3,1299.7 L837.3,1299.3 L839.2,1298.9 L841.2,1298.5 L843.1,1298.0 L845.1,1297.6 L847.0,1297.1 L849.0,1296.7 L850.9,1296.2 L852.9,1295.7 L854.8,1295.2 L856.7,1294.7 L858.7,1294.2 L860.6,1293.7 L862.5,1293.1 L864.5,1292.6 L866.4,1292.0 L868.3,1291.5 L870.2,1290.9 L872.1,1290.3 L874.0,1289.7 L875.9,1289.1 L877.8,1288.5 L879.7,1287.8 L881.6,1287.2 L883.5,1286.5 L885.4,1285.8 L887.3,1285.1 L889.1,1284.5 L891.0,1283.7 L892.9,1283.0 L894.7,1282.3 L896.6,1281.6 L898.5,1280.9 L900.3,1280.1 L902.2,1279.4 L904.0,1278.6 L905.9,1277.9 L907.7,1277.1 L909.6,1276.3 L911.4,1275.5 L913.2,1274.8 L915.1,1274.0 L916.9,1273.2 L918.8,1272.4 L920.6,1271.6 L922.4,1270.8 L924.3,1270.0 L926.1,1269.2 L927.9,1268.4 L929.7,1267.6 L931.6,1266.8 L933.4,1265.9 L935.2,1265.1 L937.0,1264.3 L938.9,1263.5 L940.7,1262.6 L942.5,1261.8 L944.3,1261.0 L946.1,1260.1 L947.9,1259.3 L949.8,1258.4 L951.6,1257.6 L953.4,1256.7 L955.2,1255.9 L957.0,1255.1 L958.8,1254.2 L960.6,1253.4 L962.4,1252.5 L964.2,1251.6 L966.0,1250.8 L967.8,1249.9 L969.6,1249.0 L971.4,1248.1 L973.2,1247.2 L975.0,1246.3 L976.7,1245.3 L978.5,1244.4 L980.2,1243.4 L982.0,1242.4 L983.7,1241.4 L985.4,1240.4 L987.2,1239.4 L988.9,1238.4 L990.6,1237.4 L992.3,1236.3 L994.0,1235.3 L995.7,1234.3 L997.4,1233.2 L999.1,1232.2 L1000.8,1231.1 L1002.5,1230.1 L1004.2,1229.0 L1005.9,1227.9 L1007.6,1226.9 L1009.3,1225.8 L1011.0,1224.7 L1012.7,1223.7 L1014.4,1222.6 L1016.0,1221.5 L1017.7,1220.4 L1019.4,1219.2 L1021.0,1218.1 L1022.6,1217.0 L1024.3,1215.8 L1025.9,1214.6 L1027.5,1213.5 L1029.1,1212.3 L1030.8,1211.1 L1032.4,1209.9 L1034.0,1208.8 L1035.6,1207.6 L1037.2,1206.4 L1038.8,1205.2 L1040.4,1204.0 L1042.0,1202.8 L1043.6,1201.6 L1045.2,1200.4 L1046.8,1199.2 L1048.4,1198.0 L1050.0,1196.7 L1051.6,1195.5 L1053.1,1194.3 L1054.7,1193.1 L1056.3,1191.9 L1057.9,1190.6 L1059.4,1189.4 L1061.0,1188.1 L1062.5,1186.8 L1064.1,1185.6 L1065.6,1184.3 L1067.1,1183.0 L1068.6,1181.6 L1070.1,1180.3 L1071.6,1179.0 L1073.0,1177.6 L1074.5,1176.2 L1075.9,1174.8 L1077.4,1173.5 L1078.8,1172.1 L1080.2,1170.7 L1081.7,1169.3 L1083.1,1167.9 L1084.5,1166.4 L1085.9,1165.0 L1087.3,1163.6 L1088.7,1162.2 L1090.1,1160.7 L1091.5,1159.3 L1092.8,1157.8 L1094.2,1156.4 L1095.6,1154.9 L1096.9,1153.4 L1098.3,1152.0 L1099.6,1150.5 L1101.0,1149.0 L1102.3,1147.5 L1103.7,1146.0 L1105.0,1144.6 L1106.4,1143.1 L1107.7,1141.6 L1109.0,1140.1 L1110.4,1138.7 L1111.8,1137.2 L1113.1,1135.7 L1114.5,1134.2 L1115.8,1132.8 L1117.2,1131.3 L1118.5,1129.8 L1119.9,1128.4 L1121.3,1126.9 L1122.6,1125.4 L1124.0,1124.0 L1125.4,1122.5 L1126.7,1121.1 L1128.1,1119.6 L1129.4,1118.1 L1130.8,1116.7 L1132.2,1115.2 L1133.5,1113.7 L1134.9,1112.2 L1136.2,1110.8 L1137.6,1109.3 L1138.9,1107.8 L1140.3,1106.3 L1141.6,1104.9 L1142.9,1103.4 L1144.3,1101.9 L1145.6,1100.4 L1146.9,1098.9 L1148.2,1097.4 L1149.6,1095.9 L1150.9,1094.4 L1152.2,1092.9 L1153.5,1091.3 L1154.8,1089.8 L1156.1,1088.3 L1157.4,1086.8 L1158.7,1085.2 L1160.0,1083.7 L1161.3,1082.2 L1162.5,1080.7 L1163.8,1079.1 L1165.1,1077.6 L1166.4,1076.1 L1167.7,1074.6 L1169.0,1073.0 L1170.3,1071.5 L1171.5,1069.9 L1172.7,1068.3 L1173.9,1066.7 L1175.0,1065.1 L1176.1,1063.4 L1177.2,1061.8 L1178.3,1060.1 L1179.3,1058.4 L1180.3,1056.7 L1181.4,1055.0 L1182.4,1053.2 L1183.4,1051.5 L1184.4,1049.8 L1185.4,1048.1 L1186.5,1046.3 L1187.5,1044.6 L1188.5,1042.9 L1189.6,1041.2 L1190.6,1039.5 L1191.6,1037.8 L1192.7,1036.1 L1193.7,1034.4 L1194.8,1032.7 L1195.8,1031.0 L1196.8,1029.2 L1197.8,1027.5 L1198.7,1025.7 L1199.6,1024.0 L1200.6,1022.2 L1201.5,1020.4 L1202.4,1018.6 L1203.2,1016.8 L1204.1,1015.0 L1205.0,1013.2 L1205.8,1011.4 L1206.7,1009.6 L1207.5,1007.8 L1208.4,1006.0 L1209.2,1004.2 L1210.0,1002.4 L1210.9,1000.5 L1211.7,998.7 L1212.5,996.9 L1213.4,995.1 L1214.2,993.3 L1215.0,991.4 L1215.8,989.6 L1216.6,987.8 L1217.4,985.9 L1218.2,984.1 L1219.0,982.2 L1219.7,980.4 L1220.5,978.6 L1221.3,976.7 L1222.0,974.9 L1222.8,973.0 L1223.6,971.2 L1224.4,969.3 L1225.2,967.5 L1226.0,965.7 L1226.8,963.9 L1227.7,962.1 L1228.5,960.3 L1229.4,958.5 L1230.2,956.7 L1231.0,954.8 L1231.8,953.0 L1232.5,951.1 L1233.3,949.3 L1234.0,947.4 L1234.6,945.5 L1235.3,943.7 L1236.0,941.8 L1236.6,939.9 L1237.2,938.0 L1237.8,936.1 L1238.5,934.2 L1239.1,932.3 L1239.7,930.4 L1240.3,928.5 L1240.9,926.5 L1241.5,924.6 L1242.1,922.7 L1242.8,920.8 L1243.4,918.9 L1244.0,917.1 L1244.7,915.2 L1245.3,913.3 L1246.0,911.4 L1246.7,909.5 L1247.3,907.6 L1248.0,905.7 L1248.7,903.8 L1249.3,902.0 L1250.0,900.1 L1250.6,898.2 L1251.2,896.3 L1251.8,894.4 L1252.4,892.5 L1253.0,890.5 L1253.6,888.6 L1254.2,886.7 L1254.7,884.8 L1255.3,882.9 L1255.9,881.0 L1256.4,879.0 L1257.0,877.1 L1257.6,875.2 L1258.2,873.3 L1258.7,871.4 L1259.3,869.5 L1259.9,867.5 L1260.5,865.6 L1261.0,863.7 L1261.6,861.8 L1262.2,859.9 L1262.7,858.0 L1263.3,856.1 L1263.9,854.1 L1264.4,852.2 L1265.0,850.3 L1265.5,848.4 L1266.1,846.4 L1266.6,844.5 L1267.1,842.6 L1267.7,840.7 L1268.2,838.7 L1268.7,836.8 L1269.2,834.9 L1269.8,832.9 L1270.3,831.0 L1270.8,829.1 L1271.3,827.1 L1271.9,825.2 L1272.4,823.3 L1272.9,821.4 L1273.4,819.4 L1273.9,817.5 L1274.4,815.5 L1274.9,813.6 L1275.4,811.7 L1275.9,809.7 L1276.4,807.8 L1276.9,805.9 L1277.3,803.9 L1277.8,802.0 L1278.3,800.0 L1278.7,798.1 L1279.2,796.1 L1279.7,794.2 L1280.1,792.2 L1280.6,790.3 L1281.0,788.3 L1281.5,786.4 L1281.9,784.4 L1282.4,782.5 L1282.8,780.5 L1283.3,778.6 L1283.7,776.6 L1284.1,774.7 L1284.5,772.7 L1285.0,770.8 L1285.4,768.8 L1285.8,766.9 L1286.2,764.9 L1286.6,762.9 L1287.0,761.0 L1287.4,759.0 L1287.8,757.1 L1288.2,755.1 L1288.6,753.1 L1289.0,751.2 L1289.4,749.2 L1289.8,747.3 L1290.1,745.3 L1290.5,743.3 L1290.9,741.4 L1291.3,739.4 L1291.6,737.4 L1292.0,735.5 L1292.3,733.5 L1292.7,731.5 L1293.1,729.6 L1293.4,727.6 L1293.8,725.6 L1294.2,723.7 L1294.6,721.7 L1294.9,719.7 L1295.3,717.8 L1295.7,715.8 L1296.2,713.9 L1296.6,711.9 L1297.0,710.0 L1297.4,708.0 L1297.9,706.1 L1298.3,704.1 L1298.7,702.2 L1299.1,700.2 L1299.6,698.2 L1300.0,696.3 L1300.4,694.3 L1300.8,692.4 L1301.2,690.4 L1301.6,688.5 L1302.0,686.5 L1302.5,684.5 L1302.9,682.6 L1303.3,680.6 L1303.7,678.7 L1304.1,676.7 L1304.4,674.7 L1304.8,672.8 L1305.2,670.8 L1305.6,668.9 L1306.0,666.9 L1306.4,664.9 L1306.8,663.0 L1307.3,661.0 L1307.7,659.1 L1308.1,657.1 L1308.5,655.2 L1308.9,653.2 L1309.3,651.2 L1309.8,649.3 L1310.2,647.3 L1310.6,645.4 L1311.0,643.4 L1311.4,641.5 L1311.8,639.5 L1312.2,637.6 L1312.6,635.6 L1313.0,633.6 L1313.4,631.7 L1313.8,629.7 L1314.2,627.8 L1314.6,625.8 L1315.0,623.8 L1315.4,621.9 L1315.8,619.9 L1316.2,618.0 L1316.6,616.0 L1317.0,614.0 L1317.4,612.1 L1317.8,610.1 L1318.2,608.1 L1318.6,606.2 L1319.0,604.2 L1319.4,602.3 L1319.7,600.3 L1320.1,598.3 L1320.5,596.4 L1320.9,594.4 L1321.2,592.4 L1321.6,590.5 L1322.0,588.5 L1322.3,586.5 L1322.6,584.6 L1322.9,582.6 L1323.2,580.6 L1323.5,578.6 L1323.8,576.7 L1324.0,574.7 L1324.3,572.7 L1324.6,570.7 L1324.8,568.7 L1325.1,566.7 L1325.4,564.8 L1325.6,562.8 L1325.9,560.8 L1326.2,558.8 L1326.5,556.9 L1326.9,554.9 L1327.2,552.9 L1327.5,550.9 L1327.9,549.0 L1328.3,547.0 L1328.7,545.1 L1329.1,543.1 L1329.5,541.1 L1329.9,539.2 L1330.3,537.2 L1330.7,535.3 L1331.2,533.3 L1331.6,531.4 L1332.0,529.4 L1332.4,527.5 L1332.9,525.5 L1333.3,523.5 L1333.7,521.6 L1334.1,519.6 L1334.5,517.7 L1335.0,515.7 L1335.4,513.8 L1335.8,511.8 L1336.2,509.8 L1336.6,507.9 L1337.0,505.9 L1337.4,504.0 L1337.9,502.0 L1338.3,500.1 L1338.7,498.1 L1339.1,496.2 L1339.5,494.2 L1340.0,492.2 L1340.4,490.3 L1340.8,488.3 L1341.2,486.4 L1341.6,484.4 L1342.1,482.5 L1342.5,480.5 L1342.9,478.6 L1343.3,476.6 L1343.8,474.7 L1344.2,472.7 L1344.6,470.7 L1345.1,468.8 L1345.5,466.8 L1345.9,464.9 L1346.4,462.9 L1346.8,461.0 L1347.2,459.0 L1347.7,457.1 L1348.1,455.1 L1348.6,453.2 L1349.0,451.2 L1349.5,449.3 L1349.9,447.3 L1350.4,445.4 L1350.8,443.4 L1351.3,441.5 L1351.7,439.5 L1352.2,437.6 L1352.7,435.7 L1353.1,433.7 L1353.6,431.8 L1354.1,429.8 L1354.5,427.9 L1355.0,425.9 L1355.5,424.0 L1356.0,422.0 L1356.4,420.1 L1356.9,418.2 L1357.4,416.2 L1357.9,414.3 L1358.4,412.3 L1358.9,410.4 L1359.4,408.5 L1359.9,406.5 L1360.3,404.6 L1360.8,402.7 L1361.4,400.7 L1361.9,398.8 L1362.4,396.8 L1362.9,394.9 L1363.4,393.0 L1363.9,391.0 L1364.4,389.1 L1364.9,387.2 L1365.5,385.3 L1366.0,383.3 L1366.5,381.4 L1367.1,379.5 L1367.6,377.5 L1368.1,375.6 L1368.7,373.7 L1369.3,371.8 L1369.8,369.9 L1370.4,367.9 L1371.0,366.0 L1371.5,364.1 L1372.1,362.2 L1372.7,360.3 L1373.3,358.4 L1373.9,356.5 L1374.6,354.6 L1375.2,352.7 L1375.8,350.8 L1376.5,348.9 L1377.2,347.0 L1377.8,345.1 L1378.5,343.3 L1379.2,341.4 L1379.9,339.5 L1380.7,337.7 L1381.4,335.8 L1382.2,334.0 L1383.0,332.1 L1383.8,330.3 L1384.6,328.5 L1385.4,326.7 L1386.3,324.9 L1387.2,323.1 L1388.1,321.3 L1389.0,319.5 L1390.0,317.8 L1391.0,316.1 L1392.1,314.5 L1393.2,312.8 L1394.4,311.3 L1395.6,309.8 L1396.9,308.5 L1398.3,307.3 L1399.7,306.2 L1401.3,305.4 L1402.8,304.8 L1404.5,304.4 L1406.1,304.2 L1407.8,304.4 L1409.4,304.7 L1411.1,305.3 L1412.6,306.1 L1414.1,307.1 L1415.5,308.3 L1416.9,309.6 L1418.1,311.0 L1419.3,312.5 L1420.5,314.1 L1421.5,315.8 L1422.6,317.5 L1423.5,319.2 L1424.5,321.0 L1425.4,322.7 L1426.2,324.5 L1427.1,326.3 L1427.9,328.2 L1428.7,330.0 L1429.5,331.8 L1430.2,333.7 L1431.0,335.5 L1431.7,337.4 L1432.4,339.3 L1433.1,341.1 L1433.8,343.0 L1434.5,344.9 L1435.2,346.8 L1435.8,348.7 L1436.4,350.6 L1437.1,352.5 L1437.7,354.4 L1438.3,356.3 L1438.8,358.2 L1439.4,360.1 L1439.9,362.0 L1440.4,364.0 L1441.0,365.9 L1441.5,367.8 L1441.9,369.8 L1442.4,371.7 L1442.9,373.7 L1443.4,375.6 L1443.9,377.5 L1444.4,379.5 L1444.8,381.4 L1445.3,383.4 L1445.8,385.3 L1446.3,387.3 L1446.7,389.2 L1447.2,391.1 L1447.7,393.1 L1448.2,395.0 L1448.7,397.0 L1449.2,398.9 L1449.7,400.8 L1450.2,402.8 L1450.7,404.7 L1451.2,406.6 L1451.7,408.6 L1452.2,410.5 L1452.7,412.4 L1453.2,414.4 L1453.7,416.3 L1454.2,418.3 L1454.7,420.2 L1455.2,422.1 L1455.7,424.1 L1456.1,426.0 L1456.6,428.0 L1457.1,429.9 L1457.6,431.8 L1458.0,433.8 L1458.5,435.7 L1458.9,437.7 L1459.4,439.6 L1459.9,441.6 L1460.3,443.5 L1460.8,445.5 L1461.2,447.4 L1461.7,449.4 L1462.1,451.3 L1462.6,453.3 L1463.0,455.2 L1463.5,457.2 L1463.9,459.1 L1464.3,461.1 L1464.8,463.0 L1465.2,465.0 L1465.7,466.9 L1466.1,468.9 L1466.6,470.8 L1467.0,472.8 L1467.4,474.7 L1467.9,476.7 L1468.3,478.6 L1468.8,480.6 L1469.2,482.5 L1469.7,484.5 L1470.1,486.4 L1470.6,488.4 L1471.0,490.3 L1471.5,492.3 L1471.9,494.2 L1472.4,496.2 L1472.8,498.1 L1473.3,500.1 L1473.8,502.0 L1474.2,503.9 L1474.7,505.9 L1475.1,507.8 L1475.6,509.8 L1476.1,511.7 L1476.5,513.7 L1477.0,515.6 L1477.4,517.6 L1477.9,519.5 L1478.3,521.5 L1478.7,523.4 L1479.2,525.4 L1479.6,527.3 L1480.0,529.3 L1480.4,531.2 L1480.9,533.2 L1481.3,535.2 L1481.7,537.1 L1482.1,539.1 L1482.4,541.0 L1482.8,543.0 L1483.2,545.0 L1483.6,546.9 L1483.9,548.9 L1484.3,550.9 L1484.6,552.8 L1485.0,554.8 L1485.3,556.8 L1485.7,558.7 L1486.0,560.7 L1486.3,562.7 L1486.7,564.7 L1487.0,566.6 L1487.3,568.6 L1487.7,570.6 L1488.0,572.6 L1488.3,574.5 L1488.7,576.5 L1489.0,578.5 L1489.3,580.4 L1489.7,582.4 L1490.0,584.4 L1490.4,586.3 L1490.7,588.3 L1491.1,590.3 L1491.4,592.3 L1491.8,594.2 L1492.1,596.2 L1492.5,598.2 L1492.9,600.1 L1493.2,602.1 L1493.6,604.1 L1494.0,606.0 L1494.3,608.0 L1494.7,610.0 L1495.1,611.9 L1495.5,613.9 L1495.8,615.8 L1496.2,617.8 L1496.6,619.8 L1497.0,621.7 L1497.4,623.7 L1497.7,625.7 L1498.1,627.6 L1498.5,629.6 L1498.9,631.5 L1499.3,633.5 L1499.7,635.5 L1500.1,637.4 L1500.5,639.4 L1500.9,641.3 L1501.4,643.3 L1501.8,645.3 L1502.2,647.2 L1502.6,649.2 L1503.0,651.1 L1503.5,653.1 L1503.9,655.0 L1504.3,657.0 L1504.8,658.9 L1505.2,660.9 L1505.6,662.8 L1506.0,664.8 L1506.5,666.7 L1506.9,668.7 L1507.3,670.7 L1507.7,672.6 L1508.1,674.6 L1508.5,676.5 L1508.9,678.5 L1509.3,680.5 L1509.7,682.4 L1510.1,684.4 L1510.5,686.3 L1510.8,688.3 L1511.2,690.3 L1511.6,692.2 L1512.0,694.2 L1512.3,696.2 L1512.7,698.1 L1513.1,700.1 L1513.4,702.1 L1513.8,704.0 L1514.1,706.0 L1514.5,708.0 L1514.8,709.9 L1515.1,711.9 L1515.5,713.9 L1515.8,715.9 L1516.1,717.8 L1516.5,719.8 L1516.8,721.8 L1517.1,723.8 L1517.4,725.7 L1517.7,727.7 L1518.0,729.7 L1518.4,731.7 L1518.7,733.6 L1519.0,735.6 L1519.3,737.6 L1519.6,739.5 L1520.0,741.5 L1520.3,743.5 L1520.6,745.5 L1520.9,747.4 L1521.3,749.4 L1521.6,751.4 L1521.9,753.4 L1522.2,755.3 L1522.6,757.3 L1522.9,759.3 L1523.2,761.3 L1523.5,763.2 L1523.9,765.2 L1524.2,767.2 L1524.5,769.2 L1524.8,771.1 L1525.2,773.1 L1525.5,775.1 L1525.8,777.0 L1526.1,779.0 L1526.5,781.0 L1526.8,783.0 L1527.1,784.9 L1527.5,786.9 L1527.8,788.9 L1528.1,790.9 L1528.5,792.8 L1528.8,794.8 L1529.2,796.8 L1529.5,798.7 L1529.9,800.7 L1530.2,802.7 L1530.6,804.6 L1530.9,806.6 L1531.3,808.6 L1531.7,810.5 L1532.0,812.5 L1532.4,814.5 L1532.7,816.4 L1533.1,818.4 L1533.5,820.4 L1533.9,822.3 L1534.2,824.3 L1534.6,826.3 L1535.0,828.2 L1535.4,830.2 L1535.7,832.2 L1536.1,834.1 L1536.5,836.1 L1536.8,838.1 L1537.2,840.0 L1537.6,842.0 L1537.9,844.0 L1538.3,845.9 L1538.7,847.9 L1539.0,849.9 L1539.4,851.8 L1539.7,853.8 L1540.1,855.8 L1540.4,857.7 L1540.7,859.7 L1541.1,861.7 L1541.4,863.6 L1541.8,865.6 L1542.1,867.6 L1542.5,869.6 L1542.8,871.5 L1543.2,873.5 L1543.6,875.5 L1543.9,877.4 L1544.3,879.4 L1544.7,881.3 L1545.1,883.3 L1545.5,885.3 L1545.9,887.2 L1546.4,889.2 L1546.8,891.1 L1547.3,893.1 L1547.7,895.0 L1548.2,896.9 L1548.7,898.9 L1549.2,900.8 L1549.7,902.8 L1550.2,904.7 L1550.7,906.6 L1551.2,908.6 L1551.7,910.5 L1552.1,912.5 L1552.6,914.4 L1553.1,916.3 L1553.6,918.3 L1554.1,920.2 L1554.6,922.2 L1555.1,924.1 L1555.5,926.0 L1556.0,928.0 L1556.4,929.9 L1556.8,931.9 L1557.2,933.8 L1557.7,935.8 L1558.1,937.8 L1558.5,939.7 L1558.9,941.7 L1559.3,943.6 L1559.7,945.6 L1560.1,947.6 L1560.5,949.5 L1560.9,951.5 L1561.4,953.4 L1561.8,955.4 L1562.3,957.3 L1562.8,959.3 L1563.2,961.2 L1563.7,963.1 L1564.2,965.1 L1564.7,967.0 L1565.2,969.0 L1565.7,970.9 L1566.2,972.8 L1566.6,974.8 L1567.1,976.7 L1567.6,978.6 L1568.1,980.6 L1568.6,982.5 L1569.1,984.5 L1569.6,986.4 L1570.1,988.3 L1570.6,990.3 L1571.1,992.2 L1571.7,994.1 L1572.2,996.1 L1572.7,998.0 L1573.2,999.9 L1573.7,1001.9 L1574.2,1003.8 L1574.7,1005.7 L1575.3,1007.7 L1575.8,1009.6 L1576.3,1011.5 L1576.8,1013.4 L1577.4,1015.4 L1577.9,1017.3 L1578.4,1019.2 L1579.0,1021.2 L1579.5,1023.1 L1580.1,1025.0 L1580.6,1026.9 L1581.2,1028.8 L1581.7,1030.8 L1582.3,1032.7 L1582.9,1034.6 L1583.4,1036.5 L1584.0,1038.4 L1584.6,1040.4 L1585.1,1042.3 L1585.7,1044.2 L1586.3,1046.1 L1586.9,1048.0 L1587.5,1049.9 L1588.0,1051.8 L1588.6,1053.8 L1589.2,1055.7 L1589.8,1057.6 L1590.4,1059.5 L1591.0,1061.4 L1591.6,1063.3 L1592.3,1065.2 L1592.9,1067.1 L1593.5,1069.0 L1594.2,1070.9 L1594.8,1072.8 L1595.5,1074.7 L1596.1,1076.6 L1596.8,1078.4 L1597.5,1080.3 L1598.2,1082.2 L1598.9,1084.1 L1599.6,1085.9 L1600.3,1087.8 L1601.0,1089.7 L1601.8,1091.5 L1602.5,1093.4 L1603.3,1095.2 L1604.1,1097.1 L1604.8,1098.9 L1605.6,1100.8 L1606.4,1102.6 L1607.2,1104.4 L1608.0,1106.3 L1608.8,1108.1 L1609.6,1109.9 L1610.4,1111.7 L1611.2,1113.6 L1612.1,1115.4 L1612.9,1117.2 L1613.7,1119.0 L1614.5,1120.9 L1615.4,1122.7 L1616.2,1124.5 L1617.0,1126.3 L1617.8,1128.1 L1618.7,1130.0 L1619.5,1131.8 L1620.3,1133.6 L1621.2,1135.4 L1622.0,1137.2 L1622.8,1139.0 L1623.7,1140.9 L1624.5,1142.7 L1625.4,1144.5 L1626.3,1146.3 L1627.1,1148.1 L1628.0,1149.9 L1628.9,1151.7 L1629.7,1153.5 L1630.6,1155.3 L1631.5,1157.1 L1632.4,1158.9 L1633.3,1160.6 L1634.2,1162.4 L1635.2,1164.2 L1636.1,1166.0 L1637.0,1167.7 L1638.0,1169.5 L1638.9,1171.2 L1639.9,1173.0 L1640.8,1174.8 L1641.8,1176.5 L1642.8,1178.3 L1643.8,1180.0 L1644.7,1181.7 L1645.7,1183.5 L1646.7,1185.2 L1647.7,1186.9 L1648.8,1188.7 L1649.8,1190.4 L1650.8,1192.1 L1651.9,1193.8 L1652.9,1195.5 L1654.0,1197.2 L1655.1,1198.9 L1656.2,1200.5 L1657.2,1202.2 L1658.3,1203.9 L1659.5,1205.5 L1660.6,1207.2 L1661.7,1208.9 L1662.8,1210.5 L1664.0,1212.1 L1665.2,1213.8 L1666.3,1215.4 L1667.5,1217.0 L1668.7,1218.6 L1669.9,1220.2 L1671.1,1221.8 L1672.3,1223.4 L1673.6,1225.0 L1674.8,1226.5 L1676.1,1228.0 L1677.4,1229.6 L1678.7,1231.1 L1680.0,1232.6 L1681.3,1234.1 L1682.7,1235.5 L1684.1,1237.0 L1685.5,1238.4 L1686.9,1239.8 L1688.3,1241.2 L1689.7,1242.6 L1691.2,1244.0 L1692.6,1245.4 L1694.1,1246.7 L1695.6,1248.1 L1697.1,1249.4 L1698.6,1250.7 L1700.1,1252.0 L1701.6,1253.3 L1703.1,1254.6 L1704.6,1255.9 L1706.2,1257.2 L1707.7,1258.5 L1709.2,1259.8 L1710.8,1261.1 L1712.3,1262.3 L1713.9,1263.6 L1715.5,1264.8 L1717.0,1266.0 L1718.6,1267.2 L1720.2,1268.4 L1721.9,1269.6 L1723.5,1270.8 L1725.1,1271.9 L1726.8,1273.0 L1728.5,1274.1 L1730.1,1275.2 L1731.8,1276.3 L1733.5,1277.3 L1735.2,1278.3 L1737.0,1279.4 L1738.7,1280.4 L1740.4,1281.3 L1742.2,1282.3 L1743.9,1283.3 L1745.7,1284.2 L1747.5,1285.1 L1749.3,1286.0 L1751.0,1286.9 L1752.8,1287.8 L1754.7,1288.6 L1756.5,1289.4 L1758.3,1290.2 L1760.2,1291.0 L1762.0,1291.8 L1763.9,1292.5 L1765.7,1293.2 L1767.6,1293.9 L1769.5,1294.6 L1771.4,1295.3 L1773.3,1295.9 L1775.1,1296.5 L1777.1,1297.2 L1779.0,1297.8 L1780.9,1298.4 L1782.8,1299.0 L1784.7,1299.6 L1786.6,1300.1 L1788.5,1300.7 L1790.4,1301.3 L1792.3,1301.8 L1794.3,1302.4 L1796.2,1303.0 L1798.1,1303.5 L1800.0,1304.0 L1802.0,1304.6 L1803.9,1305.1 L1805.8,1305.6 L1807.8,1306.1 L1809.7,1306.7 L1811.6,1307.2 L1813.6,1307.7 L1815.5,1308.2 L1817.4,1308.6 L1819.4,1309.1 L1821.3,1309.6 L1823.3,1310.0 L1825.2,1310.5 L1827.2,1310.9 L1829.1,1311.3 L1831.1,1311.7 L1833.0,1312.1 L1835.0,1312.5 L1837.0,1312.9 L1838.9,1313.3 L1840.9,1313.7 L1842.9,1314.0 L1844.8,1314.4 L1846.8,1314.8 L1848.8,1315.1 L1850.7,1315.5 L1852.7,1315.8 L1854.7,1316.2 L1856.6,1316.5 L1858.6,1316.9 L1860.6,1317.2 L1862.6,1317.5 L1864.5,1317.9 L1866.5,1318.2 L1868.5,1318.5 L1870.5,1318.8 L1872.4,1319.1 L1874.4,1319.4 L1876.4,1319.6 L1878.4,1319.9 L1880.4,1320.2 L1882.3,1320.4 L1884.3,1320.7 L1886.3,1320.9 L1888.3,1321.2 L1890.3,1321.4 L1892.3,1321.6 L1894.2,1321.9 L1896.2,1322.1 L1898.2,1322.3 L1900.1,1322.5 L1902.0,1322.7 L1903.9,1322.9 L1905.7,1323.1 L1907.3,1323.2 L1908.9,1323.4 L1910.3,1323.5 L1911.5,1323.6"/>
<path stroke="#9e5060" stroke-width="4.4" stroke-dasharray="16 13" d="M312.2,384.5 L313.3,384.5 L314.6,384.6 L316.0,384.6 L317.7,384.6 L319.4,384.6 L321.2,384.6 L323.1,384.7 L325.1,384.7 L327.0,384.7 L329.0,384.7 L331.0,384.8 L333.0,384.8 L335.0,384.8 L337.0,384.8 L339.0,384.9 L341.0,384.9 L343.0,384.9 L345.0,385.0 L347.0,385.0 L349.0,385.0 L351.0,385.0 L353.0,385.1 L355.0,385.1 L357.0,385.1 L359.0,385.2 L361.0,385.2 L363.0,385.2 L365.0,385.3 L367.0,385.3 L369.0,385.3 L371.0,385.4 L373.0,385.4 L375.0,385.4 L377.0,385.5 L379.0,385.5 L381.0,385.6 L383.0,385.6 L385.0,385.6 L387.0,385.7 L389.0,385.7 L391.0,385.7 L393.0,385.8 L395.0,385.8 L397.0,385.9 L399.0,385.9 L401.0,385.9 L403.0,386.0 L405.0,386.0 L407.0,386.1 L409.0,386.1 L411.0,386.1 L413.0,386.2 L415.0,386.2 L417.0,386.3 L419.0,386.3 L421.0,386.4 L423.0,386.4 L425.0,386.4 L427.0,386.5 L429.0,386.5 L431.0,386.6 L433.0,386.6 L435.0,386.7 L437.0,386.7 L439.0,386.8 L441.0,386.8 L443.0,386.8 L445.0,386.9 L447.0,386.9 L449.0,387.0 L451.0,387.0 L453.0,387.1 L455.0,387.1 L457.0,387.2 L459.0,387.2 L461.0,387.3 L463.0,387.3 L465.0,387.4 L467.0,387.4 L469.0,387.5 L471.0,387.5 L473.0,387.6 L475.0,387.6 L477.0,387.7 L479.0,387.7 L481.0,387.8 L483.0,387.8 L485.0,387.9 L487.0,388.0 L489.0,388.0 L491.0,388.1 L493.0,388.1 L495.0,388.2 L497.0,388.2 L499.0,388.3 L501.0,388.4 L503.0,388.4 L505.0,388.5 L507.0,388.6 L509.0,388.6 L511.0,388.7 L513.0,388.7 L515.0,388.8 L517.0,388.9 L518.9,388.9 L520.9,389.0 L522.9,389.1 L524.9,389.1 L526.9,389.2 L528.9,389.3 L530.9,389.3 L532.9,389.4 L534.9,389.5 L536.9,389.5 L538.9,389.6 L540.9,389.7 L542.9,389.8 L544.9,389.8 L546.9,389.9 L548.9,390.0 L550.9,390.0 L552.9,390.1 L554.9,390.2 L556.9,390.3 L558.9,390.3 L560.9,390.4 L562.9,390.5 L564.9,390.6 L566.9,390.7 L568.9,390.7 L570.9,390.8 L572.9,390.9 L574.9,391.0 L576.9,391.0 L578.9,391.1 L580.9,391.2 L582.9,391.3 L584.9,391.4 L586.9,391.5 L588.9,391.5 L590.9,391.6 L592.9,391.7 L594.9,391.8 L596.9,391.9 L598.9,392.0 L600.9,392.0 L602.9,392.1 L604.9,392.2 L606.9,392.3 L608.9,392.4 L610.9,392.5 L612.9,392.6 L614.9,392.7 L616.9,392.8 L618.9,392.9 L620.9,392.9 L622.9,393.0 L624.9,393.1 L626.9,393.2 L628.9,393.3 L630.9,393.4 L632.9,393.5 L634.9,393.6 L636.9,393.7 L638.8,393.8 L640.8,393.9 L642.8,394.0 L644.8,394.1 L646.8,394.3 L648.8,394.4 L650.8,394.5 L652.8,394.6 L654.8,394.7 L656.8,394.8 L658.8,394.9 L660.8,395.0 L662.8,395.1 L664.8,395.2 L666.8,395.4 L668.8,395.5 L670.8,395.6 L672.8,395.7 L674.8,395.8 L676.8,395.9 L678.8,396.1 L680.8,396.2 L682.8,396.3 L684.8,396.4 L686.8,396.6 L688.8,396.7 L690.8,396.8 L692.8,396.9 L694.8,397.1 L696.7,397.2 L698.7,397.3 L700.7,397.5 L702.7,397.6 L704.7,397.7 L706.7,397.9 L708.7,398.0 L710.7,398.1 L712.7,398.3 L714.7,398.4 L716.7,398.5 L718.7,398.7 L720.7,398.8 L722.7,399.0 L724.7,399.1 L726.7,399.3 L728.7,399.4 L730.7,399.5 L732.7,399.7 L734.7,399.8 L736.7,400.0 L738.6,400.1 L740.6,400.3 L742.6,400.4 L744.6,400.6 L746.6,400.7 L748.6,400.9 L750.6,401.1 L752.6,401.2 L754.6,401.4 L756.6,401.5 L758.6,401.7 L760.6,401.9 L762.6,402.1 L764.6,402.2 L766.6,402.4 L768.5,402.6 L770.5,402.8 L772.5,402.9 L774.5,403.1 L776.5,403.3 L778.5,403.5 L780.5,403.7 L782.5,403.9 L784.5,404.1 L786.5,404.3 L788.5,404.5 L790.4,404.7 L792.4,404.9 L794.4,405.1 L796.4,405.3 L798.4,405.5 L800.4,405.7 L802.4,405.9 L804.4,406.1 L806.4,406.4 L808.3,406.6 L810.3,406.8 L812.3,407.0 L814.3,407.2 L816.3,407.5 L818.3,407.7 L820.3,407.9 L822.3,408.1 L824.2,408.4 L826.2,408.6 L828.2,408.8 L830.2,409.1 L832.2,409.3 L834.2,409.6 L836.2,409.8 L838.1,410.0 L840.1,410.3 L842.1,410.5 L844.1,410.8 L846.1,411.0 L848.1,411.3 L850.1,411.5 L852.0,411.8 L854.0,412.0 L856.0,412.3 L858.0,412.5 L860.0,412.8 L862.0,413.0 L863.9,413.3 L865.9,413.6 L867.9,413.8 L869.9,414.1 L871.9,414.3 L873.9,414.6 L875.8,414.9 L877.8,415.1 L879.8,415.4 L881.8,415.7 L883.8,415.9 L885.7,416.2 L887.7,416.5 L889.7,416.8 L891.7,417.1 L893.7,417.4 L895.6,417.7 L897.6,417.9 L899.6,418.2 L901.6,418.5 L903.5,418.9 L905.5,419.2 L907.5,419.5 L909.5,419.8 L911.5,420.1 L913.4,420.4 L915.4,420.7 L917.4,421.1 L919.3,421.4 L921.3,421.7 L923.3,422.1 L925.3,422.4 L927.2,422.7 L929.2,423.1 L931.2,423.4 L933.1,423.8 L935.1,424.1 L937.1,424.5 L939.0,424.9 L941.0,425.2 L943.0,425.6 L944.9,426.0 L946.9,426.3 L948.9,426.7 L950.8,427.1 L952.8,427.5 L954.8,427.9 L956.7,428.3 L958.7,428.7 L960.6,429.1 L962.6,429.5 L964.5,429.9 L966.5,430.3 L968.5,430.8 L970.4,431.2 L972.4,431.6 L974.3,432.0 L976.3,432.5 L978.2,432.9 L980.2,433.4 L982.1,433.8 L984.1,434.2 L986.0,434.7 L988.0,435.1 L989.9,435.6 L991.9,436.0 L993.8,436.5 L995.8,436.9 L997.7,437.4 L999.7,437.8 L1001.6,438.3 L1003.6,438.8 L1005.5,439.2 L1007.4,439.7 L1009.4,440.1 L1011.3,440.6 L1013.3,441.0 L1015.2,441.5 L1017.2,442.0 L1019.1,442.4 L1021.1,442.9 L1023.0,443.4 L1025.0,443.8 L1026.9,444.3 L1028.9,444.7 L1030.8,445.2 L1032.7,445.7 L1034.7,446.2 L1036.6,446.6 L1038.6,447.1 L1040.5,447.6 L1042.5,448.1 L1044.4,448.5 L1046.3,449.0 L1048.3,449.5 L1050.2,450.0 L1052.2,450.5 L1054.1,451.0 L1056.0,451.5 L1058.0,452.0 L1059.9,452.5 L1061.8,453.0 L1063.8,453.5 L1065.7,454.0 L1067.6,454.6 L1069.6,455.1 L1071.5,455.6 L1073.4,456.2 L1075.3,456.7 L1077.3,457.3 L1079.2,457.8 L1081.1,458.4 L1083.0,458.9 L1084.9,459.5 L1086.9,460.1 L1088.8,460.7 L1090.7,461.2 L1092.6,461.8 L1094.5,462.4 L1096.4,463.1 L1098.3,463.7 L1100.2,464.3 L1102.1,464.9 L1104.0,465.6 L1105.9,466.2 L1107.8,466.9 L1109.7,467.5 L1111.5,468.2 L1113.4,468.9 L1115.3,469.6 L1117.2,470.3 L1119.1,471.0 L1120.9,471.7 L1122.8,472.4 L1124.7,473.1 L1126.5,473.8 L1128.4,474.6 L1130.2,475.3 L1132.1,476.1 L1133.9,476.9 L1135.8,477.6 L1137.6,478.4 L1139.4,479.2 L1141.3,480.0 L1143.1,480.8 L1144.9,481.6 L1146.8,482.4 L1148.6,483.2 L1150.4,484.1 L1152.2,484.9 L1154.0,485.7 L1155.9,486.6 L1157.7,487.4 L1159.5,488.3 L1161.3,489.2 L1163.1,490.1 L1164.8,491.0 L1166.6,491.9 L1168.4,492.8 L1170.2,493.7 L1171.9,494.7 L1173.7,495.6 L1175.5,496.6 L1177.2,497.5 L1178.9,498.5 L1180.7,499.5 L1182.4,500.5 L1184.2,501.5 L1185.9,502.5 L1187.6,503.5 L1189.3,504.5 L1191.0,505.6 L1192.8,506.6 L1194.5,507.6 L1196.2,508.7 L1197.9,509.7 L1199.6,510.8 L1201.3,511.9 L1202.9,512.9 L1204.6,514.0 L1206.3,515.1 L1208.0,516.2 L1209.7,517.2 L1211.4,518.3 L1213.0,519.4 L1214.7,520.5 L1216.4,521.7 L1218.0,522.8 L1219.7,523.9 L1221.3,525.0 L1222.9,526.2 L1224.6,527.3 L1226.2,528.5 L1227.8,529.7 L1229.4,530.9 L1231.0,532.1 L1232.6,533.3 L1234.2,534.5 L1235.8,535.7 L1237.3,537.0 L1238.9,538.3 L1240.4,539.5 L1241.9,540.8 L1243.4,542.1 L1245.0,543.4 L1246.4,544.8 L1247.9,546.1 L1249.4,547.5 L1250.9,548.8 L1252.3,550.2 L1253.7,551.6 L1255.2,553.0 L1256.6,554.4 L1258.0,555.8 L1259.4,557.3 L1260.8,558.7 L1262.2,560.1 L1263.5,561.6 L1264.9,563.1 L1266.3,564.5 L1267.6,566.0 L1268.9,567.5 L1270.3,569.0 L1271.6,570.5 L1272.9,572.0 L1274.2,573.5 L1275.5,575.1 L1276.7,576.6 L1278.0,578.1 L1279.3,579.7 L1280.5,581.2 L1281.8,582.8 L1283.1,584.4 L1284.3,585.9 L1285.6,587.5 L1286.8,589.0 L1288.1,590.6 L1289.3,592.2 L1290.6,593.7 L1291.8,595.3 L1293.0,596.9 L1294.3,598.4 L1295.5,600.0 L1296.7,601.6 L1297.9,603.2 L1299.2,604.8 L1300.4,606.4 L1301.6,607.9 L1302.8,609.5 L1304.0,611.1 L1305.2,612.7 L1306.4,614.3 L1307.7,615.9 L1308.9,617.5 L1310.1,619.1 L1311.3,620.7 L1312.5,622.3 L1313.7,623.9 L1314.9,625.5 L1316.1,627.1 L1317.3,628.7 L1318.5,630.3 L1319.7,631.9 L1320.9,633.5 L1322.1,635.1 L1323.2,636.7 L1324.4,638.3 L1325.6,639.9 L1326.8,641.6 L1327.9,643.2 L1329.1,644.8 L1330.2,646.5 L1331.4,648.1 L1332.5,649.7 L1333.6,651.4 L1334.8,653.1 L1335.9,654.7 L1337.0,656.4 L1338.1,658.0 L1339.2,659.7 L1340.3,661.4 L1341.4,663.1 L1342.5,664.7 L1343.6,666.4 L1344.7,668.1 L1345.8,669.8 L1346.9,671.4 L1348.0,673.1 L1349.0,674.8 L1350.1,676.4 L1351.2,678.1 L1352.3,679.8 L1353.4,681.5 L1354.5,683.1 L1355.6,684.8 L1356.7,686.5 L1357.8,688.2 L1358.9,689.8 L1360.0,691.5 L1361.1,693.2 L1362.2,694.8 L1363.3,696.5 L1364.4,698.2 L1365.5,699.8 L1366.6,701.5 L1367.8,703.2 L1368.9,704.8 L1370.0,706.5 L1371.1,708.1 L1372.3,709.8 L1373.4,711.4 L1374.5,713.1 L1375.7,714.7 L1376.8,716.3 L1378.0,718.0 L1379.1,719.6 L1380.3,721.2 L1381.5,722.9 L1382.6,724.5 L1383.8,726.1 L1384.9,727.7 L1386.1,729.4 L1387.3,731.0 L1388.4,732.6 L1389.6,734.3 L1390.8,735.9 L1391.9,737.5 L1393.1,739.1 L1394.2,740.8 L1395.4,742.4 L1396.5,744.0 L1397.7,745.7 L1398.8,747.3 L1400.0,749.0 L1401.1,750.6 L1402.3,752.2 L1403.4,753.9 L1404.6,755.5 L1405.8,757.1 L1406.9,758.8 L1408.1,760.4 L1409.2,762.0 L1410.4,763.6 L1411.6,765.3 L1412.8,766.9 L1413.9,768.5 L1415.1,770.1 L1416.3,771.7 L1417.5,773.3 L1418.7,774.9 L1419.9,776.5 L1421.1,778.1 L1422.3,779.7 L1423.6,781.3 L1424.8,782.8 L1426.0,784.4 L1427.2,786.0 L1428.5,787.6 L1429.7,789.2 L1430.9,790.7 L1432.2,792.3 L1433.4,793.9 L1434.7,795.4 L1435.9,797.0 L1437.2,798.5 L1438.5,800.1 L1439.7,801.6 L1441.0,803.2 L1442.3,804.7 L1443.6,806.2 L1444.8,807.8 L1446.1,809.3 L1447.4,810.8 L1448.7,812.4 L1450.0,813.9 L1451.3,815.4 L1452.6,816.9 L1453.9,818.4 L1455.2,819.9 L1456.6,821.4 L1457.9,822.9 L1459.2,824.4 L1460.6,825.9 L1462.0,827.3 L1463.3,828.8 L1464.7,830.2 L1466.1,831.7 L1467.5,833.1 L1468.9,834.5 L1470.3,836.0 L1471.7,837.4 L1473.1,838.8 L1474.6,840.2 L1476.0,841.6 L1477.5,842.9 L1478.9,844.3 L1480.4,845.7 L1481.9,847.0 L1483.3,848.3 L1484.8,849.7 L1486.3,851.0 L1487.9,852.3 L1489.4,853.6 L1490.9,854.8 L1492.5,856.1 L1494.1,857.4 L1495.6,858.6 L1497.2,859.8 L1498.8,861.0 L1500.4,862.2 L1502.0,863.4 L1503.7,864.5 L1505.3,865.7 L1507.0,866.8 L1508.6,867.9 L1510.3,869.0 L1512.0,870.0 L1513.7,871.1 L1515.4,872.1 L1517.1,873.2 L1518.8,874.2 L1520.6,875.2 L1522.3,876.2 L1524.0,877.2 L1525.7,878.2 L1527.5,879.2 L1529.2,880.3 L1530.9,881.3 L1532.6,882.3 L1534.3,883.4 L1536.0,884.5 L1537.7,885.5 L1539.3,886.6 L1541.0,887.7 L1542.7,888.7 L1544.4,889.8 L1546.1,890.9 L1547.8,891.9 L1549.5,892.9 L1551.3,894.0 L1553.0,894.9 L1554.7,895.9 L1556.5,896.9 L1558.3,897.8 L1560.0,898.7 L1561.8,899.6 L1563.6,900.5 L1565.4,901.4 L1567.2,902.3 L1569.0,903.1 L1570.8,903.9 L1572.7,904.7 L1574.5,905.5 L1576.3,906.3 L1578.2,907.1 L1580.0,907.9 L1581.9,908.6 L1583.7,909.4 L1585.6,910.1 L1587.5,910.8 L1589.3,911.5 L1591.2,912.2 L1593.1,912.9 L1595.0,913.6 L1596.8,914.3 L1598.7,914.9 L1600.6,915.6 L1602.5,916.2 L1604.4,916.8 L1606.3,917.4 L1608.2,918.0 L1610.1,918.6 L1612.1,919.2 L1614.0,919.7 L1615.9,920.3 L1617.8,920.8 L1619.8,921.3 L1621.7,921.8 L1623.6,922.3 L1625.6,922.7 L1627.5,923.2 L1629.5,923.6 L1631.4,924.0 L1633.4,924.4 L1635.4,924.8 L1637.3,925.2 L1639.3,925.6 L1641.3,926.0 L1643.2,926.3 L1645.2,926.7 L1647.2,927.1 L1649.1,927.4 L1651.1,927.8 L1653.1,928.1 L1655.0,928.5 L1657.0,928.8 L1659.0,929.2 L1660.9,929.5 L1662.9,929.9 L1664.9,930.2 L1666.8,930.6 L1668.8,930.9 L1670.8,931.3 L1672.8,931.6 L1674.7,931.9 L1676.7,932.2 L1678.7,932.6 L1680.7,932.9 L1682.6,933.2 L1684.6,933.5 L1686.6,933.7 L1688.6,934.0 L1690.6,934.3 L1692.5,934.5 L1694.5,934.8 L1696.5,935.0 L1698.5,935.3 L1700.5,935.5 L1702.5,935.7 L1704.4,935.9 L1706.4,936.2 L1708.4,936.4 L1710.4,936.6 L1712.4,936.8 L1714.4,937.0 L1716.4,937.2 L1718.4,937.4 L1720.4,937.6 L1722.4,937.8 L1724.3,938.0 L1726.3,938.2 L1728.3,938.4 L1730.3,938.6 L1732.3,938.7 L1734.3,938.9 L1736.3,939.1 L1738.3,939.3 L1740.3,939.4 L1742.3,939.6 L1744.3,939.8 L1746.3,939.9 L1748.3,940.1 L1750.2,940.2 L1752.2,940.4 L1754.2,940.6 L1756.2,940.7 L1758.2,940.9 L1760.2,941.0 L1762.2,941.2 L1764.2,941.3 L1766.2,941.4 L1768.2,941.6 L1770.2,941.7 L1772.2,941.9 L1774.2,942.0 L1776.2,942.1 L1778.2,942.3 L1780.2,942.4 L1782.2,942.5 L1784.2,942.7 L1786.2,942.8 L1788.2,942.9 L1790.1,943.0 L1792.1,943.2 L1794.1,943.3 L1796.1,943.4 L1798.1,943.5 L1800.1,943.6 L1802.1,943.8 L1804.1,943.9 L1806.1,944.0 L1808.1,944.1 L1810.1,944.2 L1812.1,944.4 L1814.1,944.5 L1816.1,944.6 L1818.1,944.7 L1820.1,944.8 L1822.1,944.9 L1824.1,945.0 L1826.1,945.1 L1828.1,945.3 L1830.1,945.4 L1832.1,945.5 L1834.1,945.6 L1836.1,945.7 L1838.1,945.8 L1840.1,945.9 L1842.1,946.0 L1844.1,946.1 L1846.1,946.2 L1848.1,946.3 L1850.1,946.5 L1852.0,946.6 L1854.0,946.7 L1856.0,946.8 L1858.0,946.9 L1860.0,947.0 L1862.0,947.1 L1864.0,947.2 L1866.0,947.3 L1868.0,947.4 L1870.0,947.5 L1872.0,947.6 L1874.0,947.7 L1876.0,947.8 L1878.0,947.9 L1880.0,947.9 L1882.0,948.0 L1884.0,948.1 L1886.0,948.2 L1888.0,948.3 L1890.0,948.4 L1892.0,948.5 L1894.0,948.6 L1896.0,948.7 L1898.0,948.8 L1899.9,948.8 L1901.9,948.9 L1903.8,949.0 L1905.6,949.1 L1907.3,949.2 L1908.9,949.2 L1910.4,949.3 L1911.7,949.3 L1912.8,949.4"/>
<path stroke="#9e5060" stroke-width="4.4" stroke-dasharray="16 13" d="M312.2,1336.9 L313.3,1336.9 L314.6,1336.8 L316.0,1336.8 L317.7,1336.7 L319.4,1336.6 L321.2,1336.6 L323.1,1336.5 L325.1,1336.4 L327.0,1336.4 L329.0,1336.3 L331.0,1336.2 L333.0,1336.1 L335.0,1336.1 L337.0,1336.0 L339.0,1335.9 L341.0,1335.8 L343.0,1335.8 L345.0,1335.7 L347.0,1335.6 L349.0,1335.5 L351.0,1335.4 L353.0,1335.4 L355.0,1335.3 L357.0,1335.2 L359.0,1335.1 L361.0,1335.0 L363.0,1335.0 L365.0,1334.9 L367.0,1334.8 L369.0,1334.7 L371.0,1334.6 L373.0,1334.5 L375.0,1334.5 L376.9,1334.4 L378.9,1334.3 L380.9,1334.2 L382.9,1334.1 L384.9,1334.0 L386.9,1333.9 L388.9,1333.9 L390.9,1333.8 L392.9,1333.7 L394.9,1333.6 L396.9,1333.5 L398.9,1333.4 L400.9,1333.3 L402.9,1333.2 L404.9,1333.1 L406.9,1333.1 L408.9,1333.0 L410.9,1332.9 L412.9,1332.8 L414.9,1332.7 L416.9,1332.6 L418.9,1332.5 L420.9,1332.4 L422.9,1332.3 L424.9,1332.2 L426.9,1332.1 L428.9,1332.0 L430.9,1331.9 L432.9,1331.8 L434.9,1331.7 L436.9,1331.6 L438.9,1331.5 L440.9,1331.4 L442.9,1331.3 L444.9,1331.3 L446.9,1331.2 L448.9,1331.1 L450.9,1331.0 L452.9,1330.9 L454.9,1330.8 L456.9,1330.7 L458.9,1330.5 L460.9,1330.4 L462.9,1330.3 L464.9,1330.2 L466.8,1330.1 L468.8,1330.0 L470.8,1329.9 L472.8,1329.8 L474.8,1329.7 L476.8,1329.6 L478.8,1329.5 L480.8,1329.4 L482.8,1329.3 L484.8,1329.2 L486.8,1329.1 L488.8,1329.0 L490.8,1328.8 L492.8,1328.7 L494.8,1328.6 L496.8,1328.5 L498.8,1328.4 L500.8,1328.3 L502.8,1328.2 L504.8,1328.1 L506.8,1327.9 L508.8,1327.8 L510.8,1327.7 L512.8,1327.6 L514.8,1327.5 L516.8,1327.4 L518.8,1327.2 L520.8,1327.1 L522.8,1327.0 L524.8,1326.9 L526.8,1326.8 L528.7,1326.6 L530.7,1326.5 L532.7,1326.4 L534.7,1326.3 L536.7,1326.1 L538.7,1326.0 L540.7,1325.9 L542.7,1325.8 L544.7,1325.6 L546.7,1325.5 L548.7,1325.4 L550.7,1325.3 L552.7,1325.1 L554.7,1325.0 L556.7,1324.9 L558.7,1324.8 L560.7,1324.6 L562.7,1324.5 L564.7,1324.4 L566.7,1324.2 L568.7,1324.1 L570.7,1324.0 L572.7,1323.8 L574.7,1323.7 L576.7,1323.6 L578.6,1323.4 L580.6,1323.3 L582.6,1323.2 L584.6,1323.0 L586.6,1322.9 L588.6,1322.8 L590.6,1322.6 L592.6,1322.5 L594.6,1322.4 L596.6,1322.2 L598.6,1322.1 L600.6,1322.0 L602.6,1321.8 L604.6,1321.7 L606.6,1321.5 L608.6,1321.4 L610.6,1321.2 L612.6,1321.1 L614.6,1320.9 L616.6,1320.8 L618.5,1320.6 L620.5,1320.5 L622.5,1320.3 L624.5,1320.2 L626.5,1320.0 L628.5,1319.9 L630.5,1319.7 L632.5,1319.6 L634.5,1319.4 L636.5,1319.3 L638.5,1319.1 L640.5,1318.9 L642.5,1318.8 L644.5,1318.6 L646.5,1318.5 L648.5,1318.3 L650.5,1318.1 L652.4,1318.0 L654.4,1317.8 L656.4,1317.6 L658.4,1317.5 L660.4,1317.3 L662.4,1317.1 L664.4,1317.0 L666.4,1316.8 L668.4,1316.6 L670.4,1316.5 L672.4,1316.3 L674.4,1316.1 L676.4,1316.0 L678.4,1315.8 L680.3,1315.6 L682.3,1315.5 L684.3,1315.3 L686.3,1315.1 L688.3,1315.0 L690.3,1314.8 L692.3,1314.6 L694.3,1314.5 L696.3,1314.3 L698.3,1314.1 L700.3,1314.0 L702.3,1313.8 L704.3,1313.7 L706.3,1313.5 L708.3,1313.3 L710.2,1313.2 L712.2,1313.0 L714.2,1312.9 L716.2,1312.7 L718.2,1312.5 L720.2,1312.4 L722.2,1312.2 L724.2,1312.1 L726.2,1311.9 L728.2,1311.7 L730.2,1311.6 L732.2,1311.4 L734.2,1311.3 L736.2,1311.1 L738.2,1310.9 L740.1,1310.8 L742.1,1310.6 L744.1,1310.4 L746.1,1310.3 L748.1,1310.1 L750.1,1309.9 L752.1,1309.8 L754.1,1309.6 L756.1,1309.4 L758.1,1309.2 L760.1,1309.1 L762.1,1308.9 L764.1,1308.7 L766.0,1308.5 L768.0,1308.3 L770.0,1308.1 L772.0,1307.9 L774.0,1307.7 L776.0,1307.5 L778.0,1307.3 L780.0,1307.1 L782.0,1306.9 L784.0,1306.6 L785.9,1306.4 L787.9,1306.2 L789.9,1305.9 L791.9,1305.7 L793.9,1305.5 L795.9,1305.2 L797.8,1304.9 L799.8,1304.7 L801.8,1304.4 L803.8,1304.1 L805.8,1303.8 L807.8,1303.6 L809.7,1303.3 L811.7,1303.0 L813.7,1302.6 L815.7,1302.3 L817.6,1302.0 L819.6,1301.7 L821.6,1301.3 L823.5,1301.0 L825.5,1300.6 L827.5,1300.2 L829.4,1299.8 L831.4,1299.4 L833.3,1299.0 L835.3,1298.5 L837.2,1298.1 L839.2,1297.6 L841.1,1297.2 L843.1,1296.7 L845.0,1296.1 L846.9,1295.6 L848.8,1295.1 L850.7,1294.5 L852.7,1293.9 L854.6,1293.3 L856.5,1292.7 L858.3,1292.0 L860.2,1291.4 L862.1,1290.7 L864.0,1290.0 L865.9,1289.3 L867.8,1288.7 L869.6,1288.0 L871.5,1287.3 L873.4,1286.7 L875.3,1286.0 L877.2,1285.4 L879.1,1284.7 L881.0,1284.1 L882.9,1283.5 L884.8,1282.9 L886.7,1282.2 L888.6,1281.6 L890.5,1281.0 L892.4,1280.3 L894.3,1279.7 L896.2,1279.0 L898.0,1278.3 L899.9,1277.6 L901.7,1276.8 L903.6,1276.1 L905.4,1275.2 L907.2,1274.4 L909.0,1273.6 L910.8,1272.7 L912.6,1271.8 L914.4,1270.8 L916.1,1269.9 L917.9,1268.9 L919.6,1267.9 L921.3,1266.9 L923.0,1265.8 L924.7,1264.8 L926.4,1263.7 L928.0,1262.6 L929.7,1261.5 L931.3,1260.3 L933.0,1259.2 L934.6,1258.0 L936.2,1256.8 L937.8,1255.6 L939.4,1254.4 L941.0,1253.2 L942.6,1252.0 L944.1,1250.7 L945.7,1249.5 L947.2,1248.2 L948.8,1247.0 L950.3,1245.7 L951.9,1244.4 L953.4,1243.1 L954.9,1241.8 L956.4,1240.5 L957.9,1239.2 L959.4,1237.9 L961.0,1236.6 L962.5,1235.3 L964.0,1234.0 L965.5,1232.7 L967.0,1231.3 L968.5,1230.0 L970.0,1228.7 L971.6,1227.4 L973.1,1226.1 L974.6,1224.9 L976.1,1223.6 L977.7,1222.3 L979.2,1221.0 L980.8,1219.8 L982.4,1218.5 L983.9,1217.3 L985.5,1216.1 L987.1,1214.9 L988.7,1213.7 L990.3,1212.5 L991.9,1211.3 L993.5,1210.1 L995.1,1208.9 L996.7,1207.7 L998.4,1206.5 L1000.0,1205.3 L1001.5,1204.1 L1003.1,1202.9 L1004.7,1201.7 L1006.3,1200.5 L1007.8,1199.2 L1009.4,1197.9 L1010.9,1196.6 L1012.4,1195.3 L1013.9,1194.0 L1015.4,1192.7 L1016.9,1191.3 L1018.4,1190.0 L1019.8,1188.6 L1021.3,1187.3 L1022.7,1185.9 L1024.2,1184.5 L1025.6,1183.1 L1027.1,1181.7 L1028.5,1180.3 L1029.9,1178.9 L1031.4,1177.5 L1032.8,1176.1 L1034.2,1174.8 L1035.7,1173.4 L1037.1,1172.0 L1038.5,1170.6 L1040.0,1169.2 L1041.4,1167.8 L1042.9,1166.5 L1044.3,1165.1 L1045.8,1163.7 L1047.3,1162.3 L1048.7,1161.0 L1050.2,1159.6 L1051.6,1158.2 L1053.1,1156.8 L1054.5,1155.5 L1056.0,1154.1 L1057.4,1152.7 L1058.9,1151.3 L1060.3,1150.0 L1061.8,1148.6 L1063.2,1147.2 L1064.7,1145.8 L1066.1,1144.4 L1067.5,1143.0 L1069.0,1141.6 L1070.4,1140.2 L1071.8,1138.8 L1073.2,1137.4 L1074.6,1136.0 L1076.1,1134.6 L1077.5,1133.2 L1078.9,1131.8 L1080.3,1130.3 L1081.7,1128.9 L1083.1,1127.5 L1084.5,1126.1 L1085.9,1124.7 L1087.3,1123.2 L1088.8,1121.8 L1090.2,1120.4 L1091.6,1119.0 L1093.0,1117.6 L1094.4,1116.2 L1095.8,1114.7 L1097.2,1113.3 L1098.6,1111.9 L1100.1,1110.5 L1101.5,1109.1 L1102.9,1107.7 L1104.3,1106.3 L1105.7,1104.8 L1107.1,1103.4 L1108.5,1102.0 L1109.9,1100.5 L1111.2,1099.1 L1112.6,1097.6 L1113.9,1096.1 L1115.3,1094.6 L1116.6,1093.1 L1117.9,1091.6 L1119.2,1090.1 L1120.5,1088.6 L1121.8,1087.0 L1123.1,1085.5 L1124.3,1084.0 L1125.6,1082.4 L1126.9,1080.9 L1128.1,1079.3 L1129.4,1077.8 L1130.6,1076.2 L1131.9,1074.6 L1133.1,1073.1 L1134.4,1071.5 L1135.6,1069.9 L1136.8,1068.4 L1138.1,1066.8 L1139.3,1065.2 L1140.5,1063.6 L1141.7,1062.0 L1142.8,1060.4 L1144.0,1058.7 L1145.1,1057.1 L1146.3,1055.4 L1147.4,1053.8 L1148.4,1052.1 L1149.5,1050.4 L1150.5,1048.7 L1151.5,1047.0 L1152.5,1045.2 L1153.5,1043.5 L1154.4,1041.7 L1155.4,1040.0 L1156.3,1038.2 L1157.2,1036.4 L1158.1,1034.6 L1158.9,1032.8 L1159.8,1031.0 L1160.7,1029.2 L1161.5,1027.4 L1162.3,1025.6 L1163.2,1023.7 L1164.0,1021.9 L1164.8,1020.1 L1165.6,1018.3 L1166.4,1016.4 L1167.2,1014.6 L1168.0,1012.8 L1168.9,1010.9 L1169.7,1009.1 L1170.5,1007.3 L1171.3,1005.5 L1172.1,1003.6 L1172.9,1001.8 L1173.7,1000.0 L1174.5,998.1 L1175.3,996.3 L1176.1,994.5 L1176.9,992.6 L1177.6,990.8 L1178.4,988.9 L1179.2,987.1 L1180.0,985.3 L1180.8,983.4 L1181.5,981.6 L1182.3,979.7 L1183.1,977.9 L1183.8,976.0 L1184.6,974.2 L1185.3,972.3 L1186.1,970.5 L1186.9,968.6 L1187.6,966.8 L1188.4,964.9 L1189.1,963.1 L1189.9,961.2 L1190.6,959.4 L1191.4,957.5 L1192.1,955.7 L1192.9,953.8 L1193.6,951.9 L1194.4,950.1 L1195.2,948.2 L1195.9,946.4 L1196.7,944.5 L1197.4,942.7 L1198.2,940.8 L1198.9,939.0 L1199.6,937.1 L1200.4,935.3 L1201.1,933.4 L1201.9,931.5 L1202.6,929.7 L1203.3,927.8 L1204.0,925.9 L1204.8,924.1 L1205.5,922.2 L1206.2,920.3 L1206.9,918.5 L1207.6,916.6 L1208.3,914.7 L1209.0,912.8 L1209.7,911.0 L1210.3,909.1 L1211.0,907.2 L1211.7,905.3 L1212.3,903.4 L1213.0,901.5 L1213.7,899.7 L1214.3,897.8 L1215.0,895.9 L1215.6,894.0 L1216.3,892.1 L1216.9,890.2 L1217.5,888.3 L1218.2,886.4 L1218.8,884.5 L1219.4,882.6 L1220.1,880.7 L1220.7,878.8 L1221.3,876.9 L1222.0,875.0 L1222.6,873.1 L1223.2,871.2 L1223.8,869.3 L1224.4,867.4 L1225.0,865.5 L1225.6,863.6 L1226.2,861.7 L1226.8,859.8 L1227.4,857.9 L1228.0,856.0 L1228.6,854.0 L1229.1,852.1 L1229.7,850.2 L1230.3,848.3 L1230.8,846.4 L1231.4,844.4 L1231.9,842.5 L1232.5,840.6 L1233.0,838.7 L1233.5,836.7 L1234.1,834.8 L1234.6,832.9 L1235.1,830.9 L1235.6,829.0 L1236.1,827.1 L1236.6,825.1 L1237.1,823.2 L1237.6,821.3 L1238.1,819.3 L1238.6,817.4 L1239.1,815.5 L1239.6,813.5 L1240.1,811.6 L1240.5,809.6 L1241.0,807.7 L1241.5,805.7 L1241.9,803.8 L1242.4,801.8 L1242.8,799.9 L1243.3,797.9 L1243.7,796.0 L1244.2,794.1 L1244.6,792.1 L1245.1,790.2 L1245.5,788.2 L1246.0,786.3 L1246.5,784.3 L1246.9,782.4 L1247.4,780.4 L1247.9,778.5 L1248.4,776.6 L1248.9,774.6 L1249.4,772.7 L1249.9,770.7 L1250.4,768.8 L1250.9,766.9 L1251.4,764.9 L1252.0,763.0 L1252.5,761.1 L1253.0,759.2 L1253.5,757.2 L1254.0,755.3 L1254.5,753.3 L1255.0,751.4 L1255.4,749.5 L1255.9,747.5 L1256.3,745.6 L1256.8,743.6 L1257.2,741.7 L1257.6,739.7 L1258.0,737.7 L1258.4,735.8 L1258.8,733.8 L1259.3,731.9 L1259.7,729.9 L1260.1,728.0 L1260.5,726.0 L1260.9,724.1 L1261.4,722.1 L1261.8,720.1 L1262.3,718.2 L1262.7,716.2 L1263.2,714.3 L1263.6,712.4 L1264.1,710.4 L1264.5,708.5 L1265.0,706.5 L1265.4,704.6 L1265.9,702.6 L1266.4,700.7 L1266.8,698.7 L1267.3,696.8 L1267.7,694.8 L1268.2,692.9 L1268.6,690.9 L1269.1,689.0 L1269.5,687.0 L1270.0,685.1 L1270.4,683.1 L1270.8,681.2 L1271.3,679.2 L1271.7,677.3 L1272.2,675.3 L1272.6,673.4 L1273.0,671.4 L1273.5,669.5 L1273.9,667.5 L1274.3,665.6 L1274.8,663.6 L1275.2,661.7 L1275.7,659.7 L1276.1,657.8 L1276.6,655.8 L1277.1,653.9 L1277.6,651.9 L1278.0,650.0 L1278.5,648.1 L1279.1,646.1 L1279.6,644.2 L1280.1,642.3 L1280.6,640.3 L1281.1,638.4 L1281.6,636.5 L1282.1,634.5 L1282.7,632.6 L1283.2,630.7 L1283.7,628.7 L1284.2,626.8 L1284.7,624.9 L1285.2,622.9 L1285.7,621.0 L1286.2,619.1 L1286.7,617.1 L1287.2,615.2 L1287.7,613.3 L1288.2,611.3 L1288.7,609.4 L1289.2,607.5 L1289.7,605.5 L1290.3,603.6 L1290.8,601.7 L1291.3,599.7 L1291.8,597.8 L1292.3,595.9 L1292.8,593.9 L1293.3,592.0 L1293.8,590.1 L1294.3,588.1 L1294.8,586.2 L1295.3,584.2 L1295.8,582.3 L1296.3,580.4 L1296.8,578.4 L1297.3,576.5 L1297.8,574.5 L1298.2,572.6 L1298.7,570.7 L1299.2,568.7 L1299.6,566.8 L1300.1,564.8 L1300.5,562.9 L1301.0,560.9 L1301.4,559.0 L1301.9,557.0 L1302.3,555.1 L1302.7,553.1 L1303.1,551.1 L1303.5,549.2 L1303.9,547.2 L1304.3,545.3 L1304.7,543.3 L1305.1,541.3 L1305.5,539.4 L1305.9,537.4 L1306.2,535.5 L1306.6,533.5 L1307.0,531.5 L1307.3,529.6 L1307.7,527.6 L1308.1,525.6 L1308.4,523.7 L1308.8,521.7 L1309.2,519.7 L1309.5,517.8 L1309.9,515.8 L1310.3,513.8 L1310.6,511.9 L1311.0,509.9 L1311.4,507.9 L1311.8,506.0 L1312.1,504.0 L1312.5,502.0 L1312.9,500.1 L1313.3,498.1 L1313.6,496.1 L1314.0,494.2 L1314.4,492.2 L1314.8,490.3 L1315.2,488.3 L1315.5,486.3 L1315.9,484.4 L1316.3,482.4 L1316.7,480.4 L1317.1,478.5 L1317.5,476.5 L1317.9,474.6 L1318.3,472.6 L1318.7,470.6 L1319.1,468.7 L1319.5,466.7 L1319.9,464.8 L1320.3,462.8 L1320.7,460.9 L1321.1,458.9 L1321.6,456.9 L1322.0,455.0 L1322.4,453.0 L1322.8,451.1 L1323.3,449.1 L1323.7,447.2 L1324.1,445.2 L1324.6,443.3 L1325.0,441.3 L1325.5,439.4 L1326.0,437.4 L1326.4,435.5 L1326.9,433.6 L1327.4,431.6 L1327.9,429.7 L1328.4,427.7 L1329.0,425.8 L1329.5,423.9 L1330.0,422.0 L1330.5,420.0 L1331.1,418.1 L1331.7,416.2 L1332.2,414.3 L1332.8,412.4 L1333.4,410.4 L1334.0,408.5 L1334.6,406.6 L1335.2,404.7 L1335.8,402.8 L1336.4,400.9 L1337.1,399.0 L1337.7,397.1 L1338.4,395.2 L1339.0,393.4 L1339.7,391.5 L1340.4,389.6 L1341.1,387.7 L1341.9,385.9 L1342.6,384.0 L1343.4,382.2 L1344.1,380.3 L1344.9,378.5 L1345.7,376.7 L1346.6,374.8 L1347.4,373.0 L1348.2,371.2 L1349.1,369.4 L1350.0,367.6 L1350.9,365.9 L1351.8,364.1 L1352.8,362.3 L1353.8,360.6 L1354.7,358.8 L1355.8,357.1 L1356.8,355.4 L1357.9,353.8 L1359.0,352.1 L1360.2,350.5 L1361.4,348.9 L1362.6,347.4 L1363.9,345.9 L1365.2,344.4 L1366.6,343.0 L1368.1,341.7 L1369.6,340.6 L1371.1,339.5 L1372.7,338.5 L1374.4,337.7 L1376.1,337.1 L1377.9,336.7 L1379.6,336.5 L1381.4,336.6 L1383.1,336.8 L1384.9,337.3 L1386.5,337.9 L1388.1,338.8 L1389.7,339.8 L1391.1,340.9 L1392.5,342.2 L1393.8,343.6 L1395.1,345.1 L1396.2,346.7 L1397.4,348.3 L1398.5,350.0 L1399.5,351.7 L1400.5,353.4 L1401.5,355.1 L1402.5,356.9 L1403.4,358.6 L1404.3,360.4 L1405.2,362.2 L1406.1,364.0 L1407.0,365.8 L1407.8,367.6 L1408.7,369.4 L1409.5,371.2 L1410.4,373.0 L1411.2,374.8 L1412.0,376.7 L1412.8,378.5 L1413.6,380.3 L1414.4,382.2 L1415.1,384.0 L1415.9,385.9 L1416.6,387.8 L1417.3,389.6 L1418.0,391.5 L1418.7,393.4 L1419.3,395.3 L1420.0,397.1 L1420.6,399.0 L1421.3,400.9 L1421.9,402.8 L1422.5,404.7 L1423.1,406.7 L1423.7,408.6 L1424.3,410.5 L1424.9,412.4 L1425.4,414.3 L1426.0,416.2 L1426.6,418.1 L1427.1,420.1 L1427.7,422.0 L1428.3,423.9 L1428.8,425.8 L1429.4,427.7 L1429.9,429.7 L1430.4,431.6 L1431.0,433.5 L1431.5,435.5 L1432.0,437.4 L1432.5,439.3 L1433.1,441.2 L1433.6,443.2 L1434.1,445.1 L1434.6,447.0 L1435.2,449.0 L1435.7,450.9 L1436.2,452.8 L1436.7,454.7 L1437.3,456.7 L1437.8,458.6 L1438.3,460.5 L1438.8,462.5 L1439.4,464.4 L1439.9,466.3 L1440.4,468.3 L1440.9,470.2 L1441.5,472.1 L1442.0,474.1 L1442.5,476.0 L1443.0,477.9 L1443.6,479.8 L1444.1,481.8 L1444.6,483.7 L1445.1,485.6 L1445.7,487.6 L1446.2,489.5 L1446.7,491.4 L1447.2,493.3 L1447.8,495.3 L1448.3,497.2 L1448.8,499.1 L1449.4,501.1 L1449.9,503.0 L1450.4,504.9 L1450.9,506.9 L1451.4,508.8 L1452.0,510.7 L1452.5,512.6 L1453.0,514.6 L1453.5,516.5 L1454.0,518.5 L1454.5,520.4 L1455.0,522.3 L1455.5,524.3 L1456.0,526.2 L1456.5,528.1 L1457.0,530.1 L1457.5,532.0 L1458.0,534.0 L1458.5,535.9 L1458.9,537.8 L1459.4,539.8 L1459.9,541.7 L1460.4,543.6 L1460.9,545.6 L1461.4,547.5 L1461.9,549.5 L1462.4,551.4 L1462.9,553.3 L1463.4,555.3 L1463.8,557.2 L1464.3,559.2 L1464.8,561.1 L1465.3,563.0 L1465.8,565.0 L1466.3,566.9 L1466.8,568.9 L1467.2,570.8 L1467.7,572.7 L1468.2,574.7 L1468.7,576.6 L1469.2,578.6 L1469.6,580.5 L1470.1,582.5 L1470.6,584.4 L1471.1,586.3 L1471.5,588.3 L1472.0,590.2 L1472.5,592.2 L1472.9,594.1 L1473.4,596.1 L1473.9,598.0 L1474.3,600.0 L1474.8,601.9 L1475.2,603.8 L1475.7,605.8 L1476.1,607.7 L1476.6,609.7 L1477.0,611.7 L1477.4,613.6 L1477.9,615.6 L1478.3,617.5 L1478.7,619.5 L1479.1,621.4 L1479.5,623.4 L1479.9,625.4 L1480.3,627.3 L1480.7,629.3 L1481.0,631.2 L1481.4,633.2 L1481.8,635.2 L1482.2,637.1 L1482.5,639.1 L1482.9,641.1 L1483.3,643.0 L1483.6,645.0 L1484.0,647.0 L1484.3,648.9 L1484.7,650.9 L1485.0,652.9 L1485.4,654.8 L1485.7,656.8 L1486.1,658.8 L1486.4,660.8 L1486.7,662.7 L1487.1,664.7 L1487.4,666.7 L1487.7,668.6 L1488.0,670.6 L1488.4,672.6 L1488.7,674.6 L1489.0,676.5 L1489.4,678.5 L1489.7,680.5 L1490.0,682.5 L1490.3,684.4 L1490.7,686.4 L1491.0,688.4 L1491.4,690.3 L1491.7,692.3 L1492.1,694.3 L1492.5,696.2 L1492.8,698.2 L1493.2,700.2 L1493.6,702.1 L1494.0,704.1 L1494.4,706.0 L1494.8,708.0 L1495.2,710.0 L1495.7,711.9 L1496.1,713.9 L1496.6,715.8 L1497.0,717.8 L1497.5,719.7 L1497.9,721.7 L1498.4,723.6 L1498.9,725.5 L1499.3,727.5 L1499.8,729.4 L1500.3,731.4 L1500.8,733.3 L1501.3,735.3 L1501.7,737.2 L1502.2,739.1 L1502.7,741.1 L1503.2,743.0 L1503.7,744.9 L1504.2,746.9 L1504.7,748.8 L1505.2,750.8 L1505.7,752.7 L1506.2,754.6 L1506.7,756.6 L1507.2,758.5 L1507.7,760.4 L1508.2,762.4 L1508.7,764.3 L1509.1,766.3 L1509.6,768.2 L1510.1,770.2 L1510.5,772.1 L1511.0,774.0 L1511.4,776.0 L1511.8,778.0 L1512.2,779.9 L1512.7,781.9 L1513.1,783.8 L1513.5,785.8 L1513.9,787.7 L1514.3,789.7 L1514.6,791.7 L1515.0,793.6 L1515.4,795.6 L1515.8,797.6 L1516.2,799.5 L1516.6,801.5 L1517.0,803.4 L1517.4,805.4 L1517.8,807.3 L1518.3,809.3 L1518.7,811.3 L1519.1,813.2 L1519.5,815.2 L1519.9,817.1 L1520.4,819.1 L1520.8,821.0 L1521.2,823.0 L1521.6,824.9 L1522.1,826.9 L1522.5,828.8 L1522.9,830.8 L1523.3,832.8 L1523.7,834.7 L1524.1,836.7 L1524.5,838.6 L1524.9,840.6 L1525.3,842.6 L1525.7,844.5 L1526.1,846.5 L1526.4,848.5 L1526.8,850.4 L1527.2,852.4 L1527.5,854.3 L1527.9,856.3 L1528.3,858.3 L1528.6,860.2 L1529.0,862.2 L1529.3,864.2 L1529.7,866.2 L1530.0,868.1 L1530.4,870.1 L1530.7,872.1 L1531.1,874.0 L1531.4,876.0 L1531.8,878.0 L1532.1,879.9 L1532.5,881.9 L1532.9,883.9 L1533.3,885.8 L1533.7,887.8 L1534.2,889.7 L1534.6,891.7 L1535.1,893.6 L1535.7,895.5 L1536.2,897.4 L1536.8,899.4 L1537.4,901.3 L1538.0,903.2 L1538.6,905.1 L1539.3,906.9 L1540.0,908.8 L1540.7,910.7 L1541.4,912.6 L1542.1,914.4 L1542.8,916.3 L1543.5,918.2 L1544.3,920.0 L1545.0,921.9 L1545.7,923.7 L1546.5,925.6 L1547.2,927.5 L1547.9,929.3 L1548.6,931.2 L1549.2,933.1 L1549.9,935.0 L1550.5,936.9 L1551.1,938.8 L1551.7,940.7 L1552.3,942.6 L1552.9,944.5 L1553.4,946.4 L1554.0,948.4 L1554.6,950.3 L1555.1,952.2 L1555.7,954.1 L1556.3,956.0 L1556.8,958.0 L1557.4,959.9 L1557.9,961.8 L1558.5,963.7 L1559.1,965.6 L1559.6,967.6 L1560.2,969.5 L1560.8,971.4 L1561.3,973.3 L1561.9,975.2 L1562.5,977.1 L1563.1,979.1 L1563.6,981.0 L1564.2,982.9 L1564.8,984.8 L1565.4,986.7 L1566.1,988.6 L1566.7,990.5 L1567.3,992.4 L1568.0,994.3 L1568.6,996.2 L1569.3,998.0 L1570.0,999.9 L1570.7,1001.8 L1571.3,1003.7 L1572.0,1005.6 L1572.7,1007.4 L1573.4,1009.3 L1574.2,1011.2 L1574.9,1013.1 L1575.6,1014.9 L1576.3,1016.8 L1577.0,1018.7 L1577.7,1020.5 L1578.4,1022.4 L1579.1,1024.3 L1579.8,1026.2 L1580.4,1028.0 L1581.1,1029.9 L1581.8,1031.8 L1582.4,1033.7 L1583.1,1035.6 L1583.7,1037.5 L1584.4,1039.4 L1585.0,1041.3 L1585.6,1043.2 L1586.2,1045.1 L1586.8,1047.0 L1587.4,1048.9 L1588.0,1050.8 L1588.6,1052.7 L1589.2,1054.6 L1589.8,1056.6 L1590.3,1058.5 L1590.9,1060.4 L1591.5,1062.3 L1592.1,1064.2 L1592.7,1066.1 L1593.3,1068.0 L1594.0,1069.9 L1594.6,1071.8 L1595.2,1073.7 L1595.9,1075.6 L1596.5,1077.5 L1597.2,1079.4 L1597.8,1081.3 L1598.5,1083.1 L1599.2,1085.0 L1600.0,1086.9 L1600.7,1088.7 L1601.4,1090.6 L1602.2,1092.5 L1602.9,1094.3 L1603.7,1096.2 L1604.4,1098.0 L1605.2,1099.8 L1606.0,1101.7 L1606.8,1103.5 L1607.6,1105.3 L1608.4,1107.2 L1609.2,1109.0 L1610.0,1110.8 L1610.8,1112.7 L1611.7,1114.5 L1612.5,1116.3 L1613.3,1118.1 L1614.1,1120.0 L1614.9,1121.8 L1615.8,1123.6 L1616.6,1125.4 L1617.4,1127.2 L1618.3,1129.1 L1619.1,1130.9 L1619.9,1132.7 L1620.8,1134.5 L1621.6,1136.3 L1622.4,1138.1 L1623.3,1140.0 L1624.1,1141.8 L1625.0,1143.6 L1625.8,1145.4 L1626.7,1147.2 L1627.6,1149.0 L1628.4,1150.8 L1629.3,1152.6 L1630.2,1154.4 L1631.1,1156.2 L1632.0,1158.0 L1632.9,1159.8 L1633.8,1161.5 L1634.7,1163.3 L1635.6,1165.1 L1636.6,1166.9 L1637.5,1168.6 L1638.4,1170.4 L1639.4,1172.1 L1640.3,1173.9 L1641.3,1175.7 L1642.3,1177.4 L1643.2,1179.2 L1644.2,1180.9 L1645.2,1182.6 L1646.2,1184.4 L1647.2,1186.1 L1648.2,1187.8 L1649.3,1189.5 L1650.3,1191.2 L1651.3,1193.0 L1652.4,1194.7 L1653.4,1196.3 L1654.5,1198.0 L1655.6,1199.7 L1656.7,1201.4 L1657.8,1203.0 L1658.9,1204.7 L1660.1,1206.3 L1661.2,1208.0 L1662.4,1209.6 L1663.5,1211.2 L1664.7,1212.9 L1665.9,1214.5 L1667.1,1216.1 L1668.3,1217.7 L1669.5,1219.2 L1670.8,1220.8 L1672.0,1222.4 L1673.3,1223.9 L1674.5,1225.5 L1675.8,1227.0 L1677.2,1228.5 L1678.5,1230.0 L1679.8,1231.4 L1681.2,1232.9 L1682.6,1234.3 L1684.0,1235.8 L1685.4,1237.2 L1686.9,1238.6 L1688.3,1239.9 L1689.8,1241.3 L1691.3,1242.6 L1692.7,1244.0 L1694.3,1245.3 L1695.8,1246.6 L1697.3,1247.9 L1698.8,1249.2 L1700.3,1250.5 L1701.9,1251.7 L1703.4,1253.0 L1704.9,1254.3 L1706.5,1255.6 L1708.0,1256.8 L1709.6,1258.1 L1711.1,1259.4 L1712.7,1260.6 L1714.3,1261.9 L1715.8,1263.1 L1717.4,1264.3 L1719.0,1265.5 L1720.6,1266.7 L1722.2,1267.9 L1723.9,1269.0 L1725.5,1270.2 L1727.2,1271.3 L1728.9,1272.4 L1730.5,1273.4 L1732.2,1274.5 L1733.9,1275.6 L1735.6,1276.6 L1737.4,1277.6 L1739.1,1278.6 L1740.8,1279.6 L1742.6,1280.5 L1744.3,1281.5 L1746.1,1282.4 L1747.9,1283.3 L1749.7,1284.2 L1751.5,1285.1 L1753.3,1286.0 L1755.1,1286.8 L1756.9,1287.6 L1758.7,1288.4 L1760.6,1289.2 L1762.4,1290.0 L1764.3,1290.7 L1766.2,1291.4 L1768.0,1292.1 L1769.9,1292.8 L1771.8,1293.4 L1773.7,1294.1 L1775.6,1294.7 L1777.5,1295.3 L1779.4,1295.9 L1781.3,1296.5 L1783.2,1297.1 L1785.1,1297.7 L1787.0,1298.3 L1789.0,1298.9 L1790.9,1299.4 L1792.8,1300.0 L1794.7,1300.5 L1796.6,1301.1 L1798.6,1301.6 L1800.5,1302.2 L1802.4,1302.7 L1804.4,1303.2 L1806.3,1303.7 L1808.2,1304.2 L1810.2,1304.7 L1812.1,1305.2 L1814.0,1305.7 L1816.0,1306.1 L1817.9,1306.6 L1819.9,1307.0 L1821.8,1307.4 L1823.8,1307.8 L1825.8,1308.2 L1827.7,1308.6 L1829.7,1309.0 L1831.7,1309.3 L1833.6,1309.7 L1835.6,1310.0 L1837.6,1310.3 L1839.5,1310.7 L1841.5,1311.0 L1843.5,1311.3 L1845.5,1311.6 L1847.4,1311.9 L1849.4,1312.2 L1851.4,1312.5 L1853.4,1312.7 L1855.4,1313.0 L1857.3,1313.3 L1859.3,1313.6 L1861.3,1313.8 L1863.3,1314.1 L1865.3,1314.3 L1867.3,1314.5 L1869.3,1314.8 L1871.2,1315.0 L1873.2,1315.2 L1875.2,1315.4 L1877.2,1315.6 L1879.2,1315.7 L1881.2,1315.9 L1883.2,1316.1 L1885.2,1316.2 L1887.2,1316.4 L1889.2,1316.5 L1891.2,1316.7 L1893.2,1316.8 L1895.1,1317.0 L1897.1,1317.1 L1899.1,1317.2 L1901.0,1317.3 L1902.9,1317.4 L1904.7,1317.5 L1906.5,1317.6 L1908.1,1317.7 L1909.6,1317.8 L1910.8,1317.8 L1911.9,1317.9"/>
<path stroke="#66668a" stroke-width="4" stroke-dasharray="4.5 14.5" d="M312.2,374.0 L313.3,374.0 L314.6,374.0 L316.0,374.1 L317.7,374.1 L319.4,374.1 L321.2,374.1 L323.1,374.1 L325.1,374.1 L327.0,374.1 L329.0,374.2 L331.0,374.2 L333.0,374.2 L335.0,374.2 L337.0,374.2 L339.0,374.3 L341.0,374.3 L343.0,374.3 L345.0,374.3 L347.0,374.3 L349.0,374.3 L351.0,374.4 L353.0,374.4 L355.0,374.4 L357.0,374.4 L359.0,374.4 L361.0,374.5 L363.0,374.5 L365.0,374.5 L367.0,374.5 L369.0,374.5 L371.0,374.6 L373.0,374.6 L375.0,374.6 L377.0,374.6 L379.0,374.7 L381.0,374.7 L383.0,374.7 L385.0,374.7 L387.0,374.7 L389.0,374.8 L391.0,374.8 L393.0,374.8 L395.0,374.8 L397.0,374.9 L399.0,374.9 L401.0,374.9 L403.0,374.9 L405.0,374.9 L407.0,375.0 L409.0,375.0 L411.0,375.0 L413.0,375.0 L415.0,375.1 L417.0,375.1 L419.0,375.1 L421.0,375.1 L423.0,375.2 L425.0,375.2 L427.0,375.2 L429.0,375.2 L431.0,375.3 L433.0,375.3 L435.0,375.3 L437.0,375.3 L439.0,375.4 L441.0,375.4 L443.0,375.4 L445.0,375.4 L447.0,375.5 L449.0,375.5 L451.0,375.5 L453.0,375.5 L455.0,375.6 L457.0,375.6 L459.0,375.6 L461.0,375.6 L463.0,375.7 L465.0,375.7 L467.0,375.7 L469.0,375.7 L471.0,375.8 L473.0,375.8 L475.0,375.8 L477.0,375.9 L479.0,375.9 L481.0,375.9 L483.0,375.9 L485.0,376.0 L487.0,376.0 L489.0,376.0 L491.0,376.0 L493.0,376.1 L495.0,376.1 L497.0,376.1 L499.0,376.2 L501.0,376.2 L503.0,376.2 L505.0,376.2 L507.0,376.3 L509.0,376.3 L511.0,376.3 L513.0,376.4 L515.0,376.4 L517.0,376.4 L519.0,376.4 L521.0,376.5 L523.0,376.5 L525.0,376.5 L527.0,376.6 L529.0,376.6 L531.0,376.6 L533.0,376.7 L535.0,376.7 L537.0,376.7 L539.0,376.8 L541.0,376.8 L543.0,376.8 L545.0,376.9 L547.0,376.9 L549.0,376.9 L551.0,377.0 L553.0,377.0 L555.0,377.0 L557.0,377.1 L559.0,377.1 L561.0,377.2 L563.0,377.2 L565.0,377.2 L567.0,377.3 L569.0,377.3 L571.0,377.4 L573.0,377.4 L575.0,377.4 L577.0,377.5 L579.0,377.5 L581.0,377.6 L583.0,377.6 L585.0,377.7 L587.0,377.7 L589.0,377.7 L591.0,377.8 L593.0,377.8 L595.0,377.9 L597.0,377.9 L599.0,378.0 L601.0,378.0 L603.0,378.1 L605.0,378.1 L607.0,378.2 L609.0,378.2 L611.0,378.3 L613.0,378.4 L615.0,378.4 L617.0,378.5 L619.0,378.5 L621.0,378.6 L623.0,378.7 L625.0,378.7 L627.0,378.8 L629.0,378.9 L631.0,378.9 L633.0,379.0 L635.0,379.1 L637.0,379.2 L639.0,379.2 L640.9,379.3 L642.9,379.4 L644.9,379.5 L646.9,379.5 L648.9,379.6 L650.9,379.7 L652.9,379.8 L654.9,379.9 L656.9,380.0 L658.9,380.1 L660.9,380.1 L662.9,380.2 L664.9,380.3 L666.9,380.4 L668.9,380.5 L670.9,380.6 L672.9,380.7 L674.9,380.8 L676.9,380.9 L678.9,381.0 L680.9,381.1 L682.9,381.2 L684.9,381.3 L686.9,381.4 L688.9,381.5 L690.9,381.6 L692.9,381.7 L694.9,381.8 L696.9,381.9 L698.9,382.0 L700.9,382.1 L702.9,382.2 L704.9,382.3 L706.9,382.4 L708.9,382.6 L710.9,382.7 L712.9,382.8 L714.9,382.9 L716.9,383.0 L718.9,383.1 L720.9,383.2 L722.8,383.4 L724.8,383.5 L726.8,383.6 L728.8,383.7 L730.8,383.8 L732.8,383.9 L734.8,384.1 L736.8,384.2 L738.8,384.3 L740.8,384.4 L742.8,384.6 L744.8,384.7 L746.8,384.8 L748.8,384.9 L750.8,385.1 L752.8,385.2 L754.8,385.3 L756.8,385.5 L758.8,385.6 L760.8,385.7 L762.8,385.9 L764.8,386.0 L766.8,386.2 L768.7,386.3 L770.7,386.5 L772.7,386.6 L774.7,386.8 L776.7,387.0 L778.7,387.1 L780.7,387.3 L782.7,387.5 L784.7,387.6 L786.7,387.8 L788.7,388.0 L790.7,388.2 L792.7,388.3 L794.7,388.5 L796.6,388.7 L798.6,388.9 L800.6,389.1 L802.6,389.3 L804.6,389.5 L806.6,389.6 L808.6,389.8 L810.6,390.0 L812.6,390.2 L814.6,390.4 L816.6,390.6 L818.5,390.8 L820.5,391.0 L822.5,391.2 L824.5,391.4 L826.5,391.6 L828.5,391.8 L830.5,392.0 L832.5,392.2 L834.5,392.4 L836.5,392.6 L838.4,392.8 L840.4,393.0 L842.4,393.2 L844.4,393.4 L846.4,393.6 L848.4,393.8 L850.4,394.0 L852.4,394.3 L854.4,394.5 L856.4,394.7 L858.3,394.9 L860.3,395.1 L862.3,395.3 L864.3,395.5 L866.3,395.7 L868.3,396.0 L870.3,396.2 L872.3,396.4 L874.2,396.6 L876.2,396.9 L878.2,397.1 L880.2,397.3 L882.2,397.6 L884.2,397.8 L886.2,398.0 L888.2,398.2 L890.1,398.5 L892.1,398.7 L894.1,399.0 L896.1,399.2 L898.1,399.4 L900.1,399.7 L902.1,399.9 L904.0,400.2 L906.0,400.4 L908.0,400.6 L910.0,400.9 L912.0,401.1 L914.0,401.4 L915.9,401.6 L917.9,401.9 L919.9,402.1 L921.9,402.4 L923.9,402.6 L925.9,402.9 L927.9,403.1 L929.8,403.3 L931.8,403.6 L933.8,403.8 L935.8,404.1 L937.8,404.3 L939.8,404.6 L941.7,404.8 L943.7,405.1 L945.7,405.3 L947.7,405.6 L949.7,405.8 L951.7,406.0 L953.7,406.3 L955.6,406.6 L957.6,406.8 L959.6,407.1 L961.6,407.3 L963.6,407.6 L965.6,407.9 L967.5,408.2 L969.5,408.4 L971.5,408.7 L973.5,409.0 L975.4,409.3 L977.4,409.6 L979.4,409.9 L981.4,410.2 L983.3,410.6 L985.3,410.9 L987.3,411.2 L989.3,411.6 L991.2,412.0 L993.2,412.3 L995.2,412.7 L997.1,413.1 L999.1,413.5 L1001.0,413.9 L1003.0,414.3 L1004.9,414.7 L1006.9,415.2 L1008.9,415.6 L1010.8,416.0 L1012.8,416.5 L1014.7,416.9 L1016.7,417.4 L1018.6,417.8 L1020.6,418.2 L1022.5,418.7 L1024.5,419.1 L1026.4,419.6 L1028.4,420.0 L1030.3,420.5 L1032.3,420.9 L1034.2,421.4 L1036.2,421.8 L1038.1,422.2 L1040.1,422.6 L1042.0,423.1 L1044.0,423.5 L1045.9,423.9 L1047.9,424.3 L1049.8,424.7 L1051.8,425.1 L1053.8,425.5 L1055.7,425.9 L1057.7,426.3 L1059.6,426.7 L1061.6,427.2 L1063.6,427.6 L1065.5,428.0 L1067.5,428.4 L1069.4,428.8 L1071.4,429.2 L1073.3,429.6 L1075.3,430.0 L1077.3,430.4 L1079.2,430.9 L1081.2,431.3 L1083.1,431.8 L1085.1,432.2 L1087.0,432.7 L1088.9,433.1 L1090.9,433.6 L1092.8,434.1 L1094.8,434.6 L1096.7,435.1 L1098.6,435.6 L1100.6,436.1 L1102.5,436.7 L1104.4,437.2 L1106.3,437.8 L1108.2,438.3 L1110.2,438.9 L1112.1,439.5 L1114.0,440.1 L1115.9,440.7 L1117.8,441.3 L1119.7,441.9 L1121.6,442.5 L1123.5,443.1 L1125.4,443.7 L1127.3,444.3 L1129.2,445.0 L1131.1,445.6 L1133.0,446.2 L1135.0,446.8 L1136.9,447.4 L1138.8,448.0 L1140.7,448.6 L1142.6,449.1 L1144.5,449.7 L1146.4,450.3 L1148.3,450.9 L1150.2,451.5 L1152.1,452.1 L1154.0,452.7 L1155.9,453.3 L1157.9,453.9 L1159.8,454.6 L1161.7,455.2 L1163.5,455.8 L1165.4,456.5 L1167.3,457.1 L1169.2,457.8 L1171.1,458.5 L1173.0,459.1 L1174.9,459.8 L1176.7,460.5 L1178.6,461.2 L1180.5,462.0 L1182.3,462.7 L1184.2,463.4 L1186.0,464.2 L1187.9,464.9 L1189.7,465.7 L1191.6,466.5 L1193.4,467.3 L1195.2,468.1 L1197.1,468.9 L1198.9,469.7 L1200.7,470.6 L1202.5,471.5 L1204.3,472.4 L1206.0,473.3 L1207.8,474.3 L1209.5,475.2 L1211.2,476.2 L1213.0,477.3 L1214.7,478.3 L1216.3,479.4 L1218.0,480.5 L1219.7,481.6 L1221.3,482.7 L1223.0,483.8 L1224.6,484.9 L1226.3,486.1 L1228.0,487.2 L1229.6,488.3 L1231.3,489.4 L1232.9,490.5 L1234.6,491.6 L1236.3,492.8 L1237.9,493.9 L1239.6,495.0 L1241.2,496.1 L1242.9,497.2 L1244.5,498.4 L1246.2,499.5 L1247.8,500.7 L1249.4,501.9 L1251.0,503.1 L1252.6,504.3 L1254.2,505.5 L1255.8,506.7 L1257.3,507.9 L1258.9,509.2 L1260.4,510.5 L1262.0,511.8 L1263.5,513.1 L1265.0,514.4 L1266.4,515.8 L1267.9,517.1 L1269.3,518.5 L1270.7,519.9 L1272.1,521.3 L1273.5,522.8 L1274.9,524.2 L1276.2,525.7 L1277.5,527.2 L1278.9,528.7 L1280.1,530.3 L1281.4,531.8 L1282.7,533.3 L1283.9,534.9 L1285.1,536.5 L1286.3,538.1 L1287.5,539.7 L1288.7,541.3 L1289.8,543.0 L1291.0,544.6 L1292.1,546.3 L1293.2,547.9 L1294.3,549.6 L1295.4,551.3 L1296.5,552.9 L1297.6,554.6 L1298.7,556.3 L1299.8,558.0 L1300.8,559.6 L1301.9,561.3 L1303.0,563.0 L1304.1,564.7 L1305.2,566.3 L1306.3,568.0 L1307.4,569.7 L1308.5,571.3 L1309.6,573.0 L1310.7,574.7 L1311.9,576.3 L1313.0,578.0 L1314.1,579.7 L1315.2,581.3 L1316.3,583.0 L1317.5,584.6 L1318.6,586.3 L1319.7,587.9 L1320.9,589.6 L1322.0,591.2 L1323.2,592.8 L1324.4,594.4 L1325.5,596.0 L1326.7,597.7 L1327.9,599.3 L1329.1,600.9 L1330.3,602.5 L1331.5,604.0 L1332.8,605.6 L1334.0,607.2 L1335.2,608.8 L1336.4,610.4 L1337.6,612.0 L1338.8,613.6 L1340.0,615.2 L1341.2,616.8 L1342.3,618.5 L1343.5,620.1 L1344.7,621.7 L1345.8,623.3 L1347.0,625.0 L1348.1,626.6 L1349.2,628.3 L1350.3,629.9 L1351.4,631.6 L1352.6,633.3 L1353.7,634.9 L1354.8,636.6 L1355.9,638.3 L1356.9,639.9 L1358.0,641.6 L1359.1,643.3 L1360.2,645.0 L1361.3,646.7 L1362.4,648.3 L1363.5,650.0 L1364.5,651.7 L1365.6,653.4 L1366.7,655.1 L1367.8,656.8 L1368.9,658.4 L1369.9,660.1 L1371.0,661.8 L1372.1,663.5 L1373.2,665.2 L1374.2,666.9 L1375.3,668.6 L1376.4,670.2 L1377.5,671.9 L1378.6,673.6 L1379.6,675.3 L1380.7,677.0 L1381.8,678.6 L1382.9,680.3 L1384.0,682.0 L1385.1,683.7 L1386.2,685.4 L1387.3,687.0 L1388.3,688.7 L1389.4,690.4 L1390.5,692.1 L1391.6,693.7 L1392.7,695.4 L1393.8,697.1 L1394.9,698.8 L1396.0,700.4 L1397.1,702.1 L1398.2,703.8 L1399.3,705.4 L1400.4,707.1 L1401.5,708.8 L1402.7,710.4 L1403.8,712.1 L1404.9,713.7 L1406.0,715.4 L1407.1,717.1 L1408.3,718.7 L1409.4,720.4 L1410.5,722.0 L1411.6,723.7 L1412.8,725.3 L1413.9,727.0 L1415.0,728.6 L1416.2,730.3 L1417.3,731.9 L1418.4,733.6 L1419.5,735.2 L1420.7,736.9 L1421.8,738.5 L1422.9,740.2 L1424.1,741.8 L1425.2,743.5 L1426.3,745.1 L1427.4,746.8 L1428.5,748.5 L1429.7,750.1 L1430.8,751.8 L1431.9,753.4 L1433.0,755.1 L1434.1,756.8 L1435.2,758.4 L1436.3,760.1 L1437.5,761.7 L1438.6,763.4 L1439.7,765.0 L1440.8,766.7 L1442.0,768.3 L1443.1,770.0 L1444.3,771.6 L1445.4,773.3 L1446.6,774.9 L1447.7,776.5 L1448.9,778.1 L1450.0,779.8 L1451.2,781.4 L1452.4,783.0 L1453.6,784.6 L1454.8,786.2 L1456.0,787.8 L1457.1,789.4 L1458.3,791.0 L1459.6,792.6 L1460.8,794.2 L1462.0,795.8 L1463.2,797.4 L1464.4,799.0 L1465.7,800.5 L1466.9,802.1 L1468.2,803.7 L1469.4,805.2 L1470.7,806.8 L1472.0,808.3 L1473.2,809.9 L1474.5,811.4 L1475.8,812.9 L1477.1,814.4 L1478.4,815.9 L1479.7,817.5 L1481.1,819.0 L1482.4,820.4 L1483.7,821.9 L1485.1,823.4 L1486.4,824.9 L1487.8,826.3 L1489.2,827.8 L1490.6,829.2 L1492.0,830.6 L1493.4,832.1 L1494.8,833.5 L1496.3,834.8 L1497.7,836.2 L1499.2,837.6 L1500.6,839.0 L1502.1,840.3 L1503.6,841.6 L1505.1,842.9 L1506.6,844.3 L1508.1,845.5 L1509.7,846.8 L1511.2,848.1 L1512.8,849.3 L1514.4,850.5 L1516.0,851.7 L1517.6,852.9 L1519.2,854.0 L1520.9,855.2 L1522.5,856.3 L1524.2,857.3 L1525.9,858.4 L1527.6,859.5 L1529.3,860.5 L1531.1,861.5 L1532.8,862.5 L1534.5,863.5 L1536.3,864.4 L1538.1,865.4 L1539.8,866.3 L1541.6,867.2 L1543.4,868.1 L1545.2,869.0 L1547.0,869.9 L1548.8,870.7 L1550.6,871.6 L1552.4,872.4 L1554.2,873.3 L1556.0,874.1 L1557.9,874.9 L1559.7,875.7 L1561.5,876.5 L1563.4,877.3 L1565.2,878.1 L1567.0,878.9 L1568.9,879.6 L1570.7,880.4 L1572.6,881.1 L1574.5,881.8 L1576.3,882.5 L1578.2,883.2 L1580.1,883.9 L1582.0,884.6 L1583.9,885.2 L1585.8,885.8 L1587.7,886.5 L1589.6,887.1 L1591.5,887.6 L1593.4,888.2 L1595.3,888.8 L1597.2,889.3 L1599.2,889.9 L1601.1,890.4 L1603.0,890.9 L1605.0,891.4 L1606.9,891.9 L1608.8,892.4 L1610.8,892.9 L1612.7,893.4 L1614.7,893.9 L1616.6,894.3 L1618.6,894.8 L1620.5,895.2 L1622.5,895.7 L1624.4,896.1 L1626.4,896.5 L1628.3,896.9 L1630.3,897.4 L1632.2,897.8 L1634.2,898.2 L1636.1,898.6 L1638.1,899.0 L1640.1,899.4 L1642.0,899.8 L1644.0,900.2 L1645.9,900.6 L1647.9,901.0 L1649.9,901.3 L1651.8,901.7 L1653.8,902.1 L1655.8,902.5 L1657.7,902.8 L1659.7,903.2 L1661.7,903.5 L1663.6,903.8 L1665.6,904.2 L1667.6,904.5 L1669.6,904.8 L1671.6,905.1 L1673.5,905.3 L1675.5,905.6 L1677.5,905.9 L1679.5,906.1 L1681.5,906.3 L1683.5,906.6 L1685.4,906.8 L1687.4,907.0 L1689.4,907.2 L1691.4,907.4 L1693.4,907.6 L1695.4,907.8 L1697.4,908.0 L1699.4,908.2 L1701.4,908.4 L1703.3,908.6 L1705.3,908.8 L1707.3,908.9 L1709.3,909.1 L1711.3,909.3 L1713.3,909.5 L1715.3,909.6 L1717.3,909.8 L1719.3,910.0 L1721.3,910.1 L1723.3,910.3 L1725.3,910.4 L1727.3,910.6 L1729.3,910.7 L1731.3,910.9 L1733.2,911.0 L1735.2,911.2 L1737.2,911.3 L1739.2,911.4 L1741.2,911.6 L1743.2,911.7 L1745.2,911.9 L1747.2,912.0 L1749.2,912.1 L1751.2,912.3 L1753.2,912.4 L1755.2,912.5 L1757.2,912.7 L1759.2,912.8 L1761.2,912.9 L1763.2,913.1 L1765.2,913.2 L1767.2,913.3 L1769.2,913.5 L1771.2,913.6 L1773.2,913.7 L1775.2,913.9 L1777.1,914.0 L1779.1,914.1 L1781.1,914.3 L1783.1,914.4 L1785.1,914.5 L1787.1,914.7 L1789.1,914.8 L1791.1,914.9 L1793.1,915.0 L1795.1,915.2 L1797.1,915.3 L1799.1,915.4 L1801.1,915.5 L1803.1,915.7 L1805.1,915.8 L1807.1,915.9 L1809.1,916.0 L1811.1,916.1 L1813.1,916.2 L1815.1,916.4 L1817.1,916.5 L1819.1,916.6 L1821.1,916.7 L1823.1,916.8 L1825.1,916.9 L1827.1,917.0 L1829.1,917.1 L1831.0,917.2 L1833.0,917.3 L1835.0,917.4 L1837.0,917.5 L1839.0,917.6 L1841.0,917.7 L1843.0,917.8 L1845.0,917.9 L1847.0,918.0 L1849.0,918.1 L1851.0,918.2 L1853.0,918.3 L1855.0,918.4 L1857.0,918.5 L1859.0,918.6 L1861.0,918.7 L1863.0,918.8 L1865.0,918.9 L1867.0,919.0 L1869.0,919.1 L1871.0,919.2 L1873.0,919.3 L1875.0,919.4 L1877.0,919.4 L1879.0,919.5 L1881.0,919.6 L1883.0,919.7 L1885.0,919.8 L1887.0,919.9 L1889.0,920.0 L1891.0,920.0 L1893.0,920.1 L1895.0,920.2 L1897.0,920.3 L1898.9,920.4 L1900.9,920.4 L1902.8,920.5 L1904.7,920.6 L1906.5,920.6 L1908.1,920.7 L1909.7,920.8 L1911.1,920.8 L1912.3,920.9"/>
<path stroke="#66668a" stroke-width="4" stroke-dasharray="4.5 14.5" d="M312.2,1340.9 L313.3,1340.8 L314.6,1340.8 L316.0,1340.7 L317.7,1340.7 L319.4,1340.6 L321.2,1340.5 L323.1,1340.5 L325.1,1340.4 L327.0,1340.3 L329.0,1340.3 L331.0,1340.2 L333.0,1340.1 L335.0,1340.0 L337.0,1340.0 L339.0,1339.9 L341.0,1339.8 L343.0,1339.7 L345.0,1339.7 L347.0,1339.6 L349.0,1339.5 L351.0,1339.4 L353.0,1339.3 L355.0,1339.3 L357.0,1339.2 L359.0,1339.1 L361.0,1339.0 L363.0,1339.0 L365.0,1338.9 L367.0,1338.8 L369.0,1338.7 L371.0,1338.7 L373.0,1338.6 L375.0,1338.5 L377.0,1338.4 L378.9,1338.3 L380.9,1338.3 L382.9,1338.2 L384.9,1338.1 L386.9,1338.0 L388.9,1338.0 L390.9,1337.9 L392.9,1337.8 L394.9,1337.7 L396.9,1337.6 L398.9,1337.6 L400.9,1337.5 L402.9,1337.4 L404.9,1337.3 L406.9,1337.2 L408.9,1337.2 L410.9,1337.1 L412.9,1337.0 L414.9,1336.9 L416.9,1336.8 L418.9,1336.8 L420.9,1336.7 L422.9,1336.6 L424.9,1336.5 L426.9,1336.4 L428.9,1336.4 L430.9,1336.3 L432.9,1336.2 L434.9,1336.1 L436.9,1336.0 L438.9,1336.0 L440.9,1335.9 L442.9,1335.8 L444.9,1335.7 L446.9,1335.6 L448.9,1335.5 L450.9,1335.5 L452.9,1335.4 L454.9,1335.3 L456.9,1335.2 L458.9,1335.1 L460.9,1335.1 L462.9,1335.0 L464.9,1334.9 L466.9,1334.8 L468.9,1334.7 L470.9,1334.6 L472.9,1334.6 L474.9,1334.5 L476.9,1334.4 L478.9,1334.3 L480.9,1334.2 L482.9,1334.1 L484.9,1334.1 L486.9,1334.0 L488.9,1333.9 L490.9,1333.8 L492.9,1333.7 L494.9,1333.6 L496.9,1333.6 L498.9,1333.5 L500.8,1333.4 L502.8,1333.3 L504.8,1333.2 L506.8,1333.1 L508.8,1333.0 L510.8,1333.0 L512.8,1332.9 L514.8,1332.8 L516.8,1332.7 L518.8,1332.6 L520.8,1332.5 L522.8,1332.4 L524.8,1332.4 L526.8,1332.3 L528.8,1332.2 L530.8,1332.1 L532.8,1332.0 L534.8,1331.9 L536.8,1331.8 L538.8,1331.8 L540.8,1331.7 L542.8,1331.6 L544.8,1331.5 L546.8,1331.4 L548.8,1331.3 L550.8,1331.2 L552.8,1331.1 L554.8,1331.1 L556.8,1331.0 L558.8,1330.9 L560.8,1330.8 L562.8,1330.7 L564.8,1330.6 L566.8,1330.5 L568.8,1330.4 L570.8,1330.3 L572.8,1330.2 L574.8,1330.2 L576.8,1330.1 L578.8,1330.0 L580.8,1329.9 L582.8,1329.8 L584.8,1329.7 L586.8,1329.6 L588.8,1329.5 L590.8,1329.4 L592.8,1329.3 L594.8,1329.2 L596.8,1329.2 L598.8,1329.1 L600.8,1329.0 L602.7,1328.9 L604.7,1328.8 L606.7,1328.7 L608.7,1328.6 L610.7,1328.5 L612.7,1328.4 L614.7,1328.3 L616.7,1328.2 L618.7,1328.1 L620.7,1328.0 L622.7,1328.0 L624.7,1327.9 L626.7,1327.8 L628.7,1327.7 L630.7,1327.6 L632.7,1327.5 L634.7,1327.4 L636.7,1327.3 L638.7,1327.2 L640.7,1327.1 L642.7,1327.0 L644.7,1326.9 L646.7,1326.8 L648.7,1326.7 L650.7,1326.7 L652.7,1326.6 L654.7,1326.5 L656.7,1326.4 L658.7,1326.3 L660.7,1326.2 L662.7,1326.1 L664.7,1326.0 L666.7,1325.9 L668.7,1325.8 L670.7,1325.7 L672.7,1325.5 L674.7,1325.4 L676.7,1325.3 L678.7,1325.2 L680.7,1325.1 L682.7,1325.0 L684.7,1324.9 L686.6,1324.8 L688.6,1324.7 L690.6,1324.5 L692.6,1324.4 L694.6,1324.3 L696.6,1324.2 L698.6,1324.1 L700.6,1323.9 L702.6,1323.8 L704.6,1323.7 L706.6,1323.5 L708.6,1323.4 L710.6,1323.2 L712.6,1323.1 L714.6,1322.9 L716.6,1322.8 L718.6,1322.6 L720.6,1322.5 L722.6,1322.3 L724.6,1322.2 L726.6,1322.0 L728.5,1321.9 L730.5,1321.7 L732.5,1321.6 L734.5,1321.4 L736.5,1321.3 L738.5,1321.1 L740.5,1321.0 L742.5,1320.9 L744.5,1320.7 L746.5,1320.6 L748.5,1320.5 L750.5,1320.4 L752.5,1320.2 L754.5,1320.1 L756.5,1320.0 L758.5,1319.9 L760.5,1319.8 L762.5,1319.6 L764.5,1319.5 L766.5,1319.4 L768.5,1319.3 L770.5,1319.1 L772.4,1319.0 L774.4,1318.8 L776.4,1318.7 L778.4,1318.5 L780.4,1318.3 L782.4,1318.1 L784.4,1317.9 L786.4,1317.7 L788.4,1317.5 L790.4,1317.3 L792.4,1317.1 L794.3,1316.8 L796.3,1316.6 L798.3,1316.3 L800.3,1316.0 L802.3,1315.8 L804.2,1315.5 L806.2,1315.2 L808.2,1314.9 L810.2,1314.6 L812.2,1314.3 L814.1,1314.0 L816.1,1313.6 L818.1,1313.3 L820.0,1312.9 L822.0,1312.6 L824.0,1312.2 L825.9,1311.8 L827.9,1311.4 L829.8,1311.0 L831.8,1310.6 L833.8,1310.2 L835.7,1309.7 L837.7,1309.3 L839.6,1308.8 L841.6,1308.4 L843.5,1307.9 L845.4,1307.5 L847.4,1307.0 L849.3,1306.5 L851.3,1306.0 L853.2,1305.6 L855.2,1305.1 L857.1,1304.6 L859.0,1304.1 L861.0,1303.6 L862.9,1303.1 L864.9,1302.6 L866.8,1302.1 L868.7,1301.6 L870.6,1301.1 L872.6,1300.6 L874.5,1300.0 L876.4,1299.5 L878.4,1298.9 L880.3,1298.4 L882.2,1297.8 L884.1,1297.2 L886.0,1296.7 L887.9,1296.1 L889.9,1295.5 L891.8,1294.9 L893.7,1294.3 L895.6,1293.7 L897.5,1293.1 L899.4,1292.5 L901.3,1291.8 L903.2,1291.2 L905.1,1290.5 L906.9,1289.9 L908.8,1289.2 L910.7,1288.5 L912.6,1287.8 L914.4,1287.0 L916.3,1286.3 L918.1,1285.6 L920.0,1284.8 L921.8,1284.0 L923.7,1283.3 L925.5,1282.5 L927.4,1281.7 L929.2,1280.9 L931.0,1280.1 L932.9,1279.3 L934.7,1278.5 L936.5,1277.7 L938.3,1276.8 L940.1,1276.0 L942.0,1275.2 L943.8,1274.3 L945.6,1273.4 L947.4,1272.6 L949.2,1271.7 L951.0,1270.8 L952.8,1269.9 L954.5,1269.0 L956.3,1268.1 L958.1,1267.2 L959.9,1266.3 L961.7,1265.4 L963.4,1264.4 L965.2,1263.5 L967.0,1262.6 L968.7,1261.7 L970.5,1260.7 L972.3,1259.8 L974.1,1258.9 L975.8,1257.9 L977.6,1257.0 L979.3,1256.0 L981.1,1255.0 L982.8,1254.1 L984.6,1253.1 L986.3,1252.1 L988.0,1251.1 L989.8,1250.1 L991.5,1249.1 L993.2,1248.1 L994.9,1247.0 L996.6,1246.0 L998.3,1245.0 L1000.0,1243.9 L1001.7,1242.9 L1003.4,1241.8 L1005.1,1240.7 L1006.8,1239.7 L1008.5,1238.6 L1010.2,1237.5 L1011.8,1236.4 L1013.5,1235.3 L1015.2,1234.2 L1016.8,1233.0 L1018.5,1231.9 L1020.1,1230.8 L1021.8,1229.6 L1023.4,1228.5 L1025.0,1227.3 L1026.6,1226.1 L1028.3,1225.0 L1029.9,1223.8 L1031.5,1222.6 L1033.1,1221.4 L1034.6,1220.1 L1036.2,1218.9 L1037.8,1217.7 L1039.4,1216.4 L1040.9,1215.2 L1042.5,1214.0 L1044.1,1212.7 L1045.6,1211.4 L1047.2,1210.2 L1048.7,1208.9 L1050.2,1207.6 L1051.8,1206.4 L1053.3,1205.1 L1054.9,1203.8 L1056.4,1202.5 L1057.9,1201.2 L1059.5,1199.9 L1061.0,1198.7 L1062.5,1197.4 L1064.0,1196.1 L1065.6,1194.8 L1067.1,1193.5 L1068.6,1192.2 L1070.1,1190.8 L1071.6,1189.5 L1073.1,1188.2 L1074.6,1186.9 L1076.1,1185.6 L1077.6,1184.2 L1079.1,1182.9 L1080.6,1181.5 L1082.0,1180.2 L1083.5,1178.8 L1085.0,1177.5 L1086.4,1176.1 L1087.9,1174.8 L1089.3,1173.4 L1090.8,1172.0 L1092.2,1170.6 L1093.7,1169.2 L1095.1,1167.8 L1096.5,1166.4 L1097.9,1165.0 L1099.3,1163.5 L1100.7,1162.1 L1102.1,1160.7 L1103.4,1159.2 L1104.8,1157.7 L1106.2,1156.3 L1107.5,1154.8 L1108.8,1153.3 L1110.2,1151.8 L1111.5,1150.3 L1112.8,1148.8 L1114.0,1147.2 L1115.3,1145.7 L1116.6,1144.1 L1117.8,1142.6 L1119.0,1141.0 L1120.3,1139.4 L1121.5,1137.8 L1122.7,1136.2 L1123.9,1134.6 L1125.0,1133.0 L1126.2,1131.4 L1127.4,1129.7 L1128.5,1128.1 L1129.7,1126.5 L1130.9,1124.9 L1132.0,1123.2 L1133.2,1121.6 L1134.3,1120.0 L1135.5,1118.3 L1136.6,1116.7 L1137.8,1115.0 L1138.9,1113.4 L1140.1,1111.8 L1141.2,1110.1 L1142.4,1108.5 L1143.5,1106.9 L1144.7,1105.2 L1145.8,1103.6 L1147.0,1101.9 L1148.1,1100.3 L1149.2,1098.7 L1150.4,1097.0 L1151.5,1095.4 L1152.7,1093.7 L1153.8,1092.1 L1154.9,1090.4 L1156.1,1088.8 L1157.2,1087.1 L1158.3,1085.5 L1159.5,1083.8 L1160.6,1082.2 L1161.7,1080.5 L1162.9,1078.9 L1164.0,1077.3 L1165.1,1075.6 L1166.3,1074.0 L1167.4,1072.3 L1168.5,1070.7 L1169.6,1069.0 L1170.8,1067.4 L1171.9,1065.7 L1173.0,1064.0 L1174.1,1062.3 L1175.1,1060.7 L1176.2,1059.0 L1177.2,1057.3 L1178.3,1055.5 L1179.3,1053.8 L1180.2,1052.1 L1181.2,1050.3 L1182.2,1048.6 L1183.1,1046.8 L1184.0,1045.0 L1184.9,1043.2 L1185.8,1041.4 L1186.6,1039.6 L1187.5,1037.8 L1188.3,1036.0 L1189.1,1034.2 L1189.9,1032.3 L1190.7,1030.5 L1191.5,1028.7 L1192.3,1026.8 L1193.1,1025.0 L1193.8,1023.1 L1194.6,1021.3 L1195.3,1019.4 L1196.1,1017.6 L1196.9,1015.7 L1197.6,1013.9 L1198.4,1012.0 L1199.1,1010.2 L1199.8,1008.3 L1200.6,1006.5 L1201.3,1004.6 L1202.1,1002.7 L1202.8,1000.9 L1203.5,999.0 L1204.2,997.1 L1205.0,995.3 L1205.7,993.4 L1206.4,991.5 L1207.1,989.7 L1207.8,987.8 L1208.5,985.9 L1209.2,984.0 L1209.9,982.2 L1210.5,980.3 L1211.2,978.4 L1211.9,976.5 L1212.6,974.6 L1213.3,972.8 L1213.9,970.9 L1214.6,969.0 L1215.2,967.1 L1215.9,965.2 L1216.6,963.3 L1217.2,961.4 L1217.9,959.5 L1218.5,957.7 L1219.2,955.8 L1219.8,953.9 L1220.5,952.0 L1221.1,950.1 L1221.7,948.2 L1222.4,946.3 L1223.0,944.4 L1223.6,942.5 L1224.2,940.6 L1224.8,938.7 L1225.4,936.8 L1226.0,934.9 L1226.6,932.9 L1227.2,931.0 L1227.7,929.1 L1228.3,927.2 L1228.8,925.3 L1229.4,923.3 L1229.9,921.4 L1230.4,919.5 L1231.0,917.5 L1231.5,915.6 L1232.0,913.7 L1232.5,911.7 L1232.9,909.8 L1233.4,907.9 L1233.9,905.9 L1234.4,904.0 L1234.9,902.0 L1235.3,900.1 L1235.8,898.1 L1236.3,896.2 L1236.7,894.3 L1237.2,892.3 L1237.7,890.4 L1238.2,888.4 L1238.7,886.5 L1239.1,884.6 L1239.6,882.6 L1240.1,880.7 L1240.6,878.7 L1241.1,876.8 L1241.6,874.9 L1242.1,872.9 L1242.6,871.0 L1243.0,869.0 L1243.5,867.1 L1244.0,865.2 L1244.5,863.2 L1245.0,861.3 L1245.5,859.3 L1245.9,857.4 L1246.4,855.4 L1246.9,853.5 L1247.3,851.6 L1247.8,849.6 L1248.3,847.7 L1248.7,845.7 L1249.1,843.8 L1249.6,841.8 L1250.0,839.9 L1250.5,837.9 L1250.9,836.0 L1251.3,834.0 L1251.8,832.1 L1252.2,830.1 L1252.6,828.2 L1253.1,826.2 L1253.6,824.3 L1254.0,822.3 L1254.5,820.4 L1254.9,818.4 L1255.4,816.5 L1255.9,814.5 L1256.3,812.6 L1256.8,810.6 L1257.2,808.7 L1257.7,806.7 L1258.1,804.8 L1258.5,802.8 L1258.9,800.9 L1259.4,798.9 L1259.8,797.0 L1260.2,795.0 L1260.6,793.0 L1261.0,791.1 L1261.4,789.1 L1261.7,787.2 L1262.1,785.2 L1262.5,783.2 L1262.9,781.3 L1263.3,779.3 L1263.7,777.3 L1264.0,775.4 L1264.4,773.4 L1264.8,771.4 L1265.1,769.5 L1265.5,767.5 L1265.8,765.5 L1266.2,763.6 L1266.5,761.6 L1266.9,759.6 L1267.2,757.7 L1267.6,755.7 L1267.9,753.7 L1268.2,751.7 L1268.6,749.8 L1268.9,747.8 L1269.2,745.8 L1269.6,743.9 L1269.9,741.9 L1270.3,739.9 L1270.6,737.9 L1270.9,736.0 L1271.2,734.0 L1271.6,732.0 L1271.9,730.1 L1272.2,728.1 L1272.6,726.1 L1272.9,724.1 L1273.2,722.2 L1273.6,720.2 L1274.0,718.2 L1274.3,716.3 L1274.7,714.3 L1275.1,712.4 L1275.5,710.4 L1275.9,708.4 L1276.4,706.5 L1276.8,704.5 L1277.3,702.6 L1277.7,700.6 L1278.1,698.7 L1278.5,696.7 L1278.9,694.8 L1279.3,692.8 L1279.7,690.8 L1280.0,688.9 L1280.4,686.9 L1280.7,684.9 L1281.1,683.0 L1281.4,681.0 L1281.8,679.0 L1282.1,677.1 L1282.5,675.1 L1282.9,673.1 L1283.2,671.2 L1283.6,669.2 L1284.0,667.2 L1284.4,665.3 L1284.8,663.3 L1285.2,661.4 L1285.6,659.4 L1286.0,657.4 L1286.4,655.5 L1286.8,653.5 L1287.1,651.6 L1287.5,649.6 L1287.9,647.6 L1288.3,645.7 L1288.6,643.7 L1289.0,641.7 L1289.3,639.8 L1289.7,637.8 L1290.0,635.8 L1290.3,633.8 L1290.6,631.9 L1290.9,629.9 L1291.2,627.9 L1291.5,625.9 L1291.8,624.0 L1292.1,622.0 L1292.4,620.0 L1292.7,618.0 L1292.9,616.0 L1293.2,614.1 L1293.5,612.1 L1293.8,610.1 L1294.1,608.1 L1294.4,606.1 L1294.7,604.2 L1295.1,602.2 L1295.4,600.2 L1295.7,598.2 L1296.0,596.3 L1296.3,594.3 L1296.6,592.3 L1296.9,590.3 L1297.2,588.4 L1297.5,586.4 L1297.8,584.4 L1298.1,582.4 L1298.4,580.5 L1298.7,578.5 L1299.0,576.5 L1299.3,574.5 L1299.6,572.5 L1299.9,570.6 L1300.2,568.6 L1300.5,566.6 L1300.8,564.6 L1301.1,562.6 L1301.3,560.7 L1301.6,558.7 L1301.9,556.7 L1302.3,554.7 L1302.6,552.8 L1302.9,550.8 L1303.2,548.8 L1303.5,546.8 L1303.8,544.9 L1304.1,542.9 L1304.5,540.9 L1304.8,538.9 L1305.1,537.0 L1305.4,535.0 L1305.8,533.0 L1306.1,531.0 L1306.4,529.1 L1306.7,527.1 L1307.1,525.1 L1307.4,523.2 L1307.7,521.2 L1308.1,519.2 L1308.4,517.2 L1308.8,515.3 L1309.1,513.3 L1309.4,511.3 L1309.8,509.4 L1310.1,507.4 L1310.5,505.4 L1310.8,503.4 L1311.1,501.5 L1311.5,499.5 L1311.8,497.5 L1312.2,495.6 L1312.5,493.6 L1312.9,491.6 L1313.2,489.7 L1313.6,487.7 L1313.9,485.7 L1314.3,483.7 L1314.6,481.8 L1315.0,479.8 L1315.3,477.8 L1315.7,475.9 L1316.0,473.9 L1316.4,471.9 L1316.7,470.0 L1317.1,468.0 L1317.5,466.0 L1317.8,464.1 L1318.2,462.1 L1318.5,460.1 L1318.9,458.2 L1319.2,456.2 L1319.6,454.2 L1319.9,452.3 L1320.3,450.3 L1320.6,448.3 L1321.0,446.3 L1321.3,444.4 L1321.7,442.4 L1322.1,440.4 L1322.4,438.5 L1322.8,436.5 L1323.1,434.5 L1323.5,432.6 L1323.9,430.6 L1324.2,428.6 L1324.6,426.7 L1324.9,424.7 L1325.3,422.7 L1325.7,420.8 L1326.0,418.8 L1326.4,416.8 L1326.8,414.9 L1327.2,412.9 L1327.5,410.9 L1327.9,409.0 L1328.3,407.0 L1328.7,405.1 L1329.0,403.1 L1329.4,401.1 L1329.8,399.2 L1330.2,397.2 L1330.6,395.2 L1330.9,393.3 L1331.3,391.3 L1331.7,389.4 L1332.1,387.4 L1332.5,385.4 L1332.9,383.5 L1333.3,381.5 L1333.7,379.6 L1334.1,377.6 L1334.6,375.6 L1335.0,373.7 L1335.4,371.7 L1335.8,369.8 L1336.2,367.8 L1336.7,365.9 L1337.1,363.9 L1337.5,362.0 L1338.0,360.0 L1338.4,358.1 L1338.8,356.1 L1339.3,354.2 L1339.7,352.2 L1340.2,350.3 L1340.7,348.3 L1341.1,346.4 L1341.6,344.4 L1342.1,342.5 L1342.6,340.5 L1343.1,338.6 L1343.5,336.7 L1344.0,334.7 L1344.5,332.8 L1345.1,330.9 L1345.6,328.9 L1346.1,327.0 L1346.6,325.1 L1347.1,323.1 L1347.6,321.2 L1348.1,319.3 L1348.6,317.3 L1349.2,315.4 L1349.7,313.5 L1350.2,311.5 L1350.7,309.6 L1351.3,307.7 L1351.8,305.7 L1352.3,303.8 L1352.8,301.9 L1353.4,300.0 L1353.9,298.0 L1354.5,296.1 L1355.0,294.2 L1355.6,292.3 L1356.1,290.4 L1356.7,288.4 L1357.3,286.5 L1357.9,284.6 L1358.5,282.7 L1359.1,280.8 L1359.8,278.9 L1360.4,277.0 L1361.1,275.1 L1361.7,273.3 L1362.4,271.4 L1363.1,269.5 L1363.9,267.7 L1364.6,265.8 L1365.4,264.0 L1366.2,262.2 L1367.1,260.4 L1368.0,258.6 L1368.9,256.8 L1369.9,255.1 L1371.0,253.5 L1372.1,251.9 L1373.2,250.3 L1374.5,248.9 L1375.8,247.5 L1377.2,246.3 L1378.7,245.3 L1380.2,244.5 L1381.8,243.8 L1383.4,243.5 L1385.1,243.3 L1386.8,243.4 L1388.4,243.8 L1390.0,244.4 L1391.6,245.2 L1393.1,246.2 L1394.5,247.4 L1395.8,248.7 L1397.1,250.1 L1398.3,251.6 L1399.4,253.2 L1400.5,254.9 L1401.5,256.6 L1402.4,258.3 L1403.3,260.1 L1404.2,261.9 L1405.0,263.7 L1405.8,265.5 L1406.6,267.4 L1407.4,269.2 L1408.1,271.1 L1408.9,272.9 L1409.6,274.8 L1410.3,276.7 L1410.9,278.6 L1411.6,280.4 L1412.3,282.3 L1412.9,284.2 L1413.5,286.1 L1414.2,288.0 L1414.8,289.9 L1415.4,291.8 L1416.0,293.7 L1416.7,295.6 L1417.3,297.5 L1417.9,299.4 L1418.5,301.3 L1419.1,303.2 L1419.7,305.1 L1420.3,307.1 L1420.9,309.0 L1421.5,310.9 L1422.0,312.8 L1422.6,314.7 L1423.2,316.6 L1423.8,318.5 L1424.4,320.5 L1424.9,322.4 L1425.5,324.3 L1426.1,326.2 L1426.7,328.1 L1427.2,330.0 L1427.8,331.9 L1428.4,333.9 L1429.0,335.8 L1429.5,337.7 L1430.1,339.6 L1430.7,341.5 L1431.2,343.5 L1431.7,345.4 L1432.3,347.3 L1432.8,349.2 L1433.3,351.2 L1433.8,353.1 L1434.3,355.0 L1434.8,357.0 L1435.3,358.9 L1435.7,360.9 L1436.2,362.8 L1436.6,364.8 L1437.0,366.7 L1437.5,368.7 L1437.9,370.6 L1438.2,372.6 L1438.6,374.6 L1439.0,376.5 L1439.4,378.5 L1439.7,380.5 L1440.1,382.4 L1440.4,384.4 L1440.8,386.4 L1441.1,388.3 L1441.4,390.3 L1441.8,392.3 L1442.1,394.3 L1442.4,396.2 L1442.7,398.2 L1443.0,400.2 L1443.3,402.2 L1443.7,404.1 L1444.0,406.1 L1444.3,408.1 L1444.6,410.1 L1444.9,412.0 L1445.2,414.0 L1445.5,416.0 L1445.8,418.0 L1446.1,419.9 L1446.4,421.9 L1446.8,423.9 L1447.1,425.9 L1447.4,427.8 L1447.7,429.8 L1448.0,431.8 L1448.3,433.8 L1448.7,435.7 L1449.0,437.7 L1449.3,439.7 L1449.7,441.6 L1450.0,443.6 L1450.4,445.6 L1450.8,447.6 L1451.1,449.5 L1451.5,451.5 L1451.9,453.4 L1452.2,455.4 L1452.6,457.4 L1453.0,459.3 L1453.4,461.3 L1453.7,463.3 L1454.1,465.2 L1454.5,467.2 L1454.8,469.2 L1455.2,471.1 L1455.6,473.1 L1455.9,475.1 L1456.3,477.0 L1456.7,479.0 L1457.0,481.0 L1457.4,482.9 L1457.7,484.9 L1458.1,486.9 L1458.4,488.9 L1458.7,490.8 L1459.1,492.8 L1459.4,494.8 L1459.7,496.7 L1460.1,498.7 L1460.4,500.7 L1460.7,502.7 L1461.0,504.6 L1461.3,506.6 L1461.7,508.6 L1462.0,510.6 L1462.3,512.5 L1462.6,514.5 L1463.0,516.5 L1463.3,518.4 L1463.6,520.4 L1463.9,522.4 L1464.2,524.4 L1464.6,526.3 L1464.9,528.3 L1465.2,530.3 L1465.6,532.3 L1465.9,534.2 L1466.2,536.2 L1466.5,538.2 L1466.9,540.2 L1467.2,542.1 L1467.5,544.1 L1467.9,546.1 L1468.2,548.0 L1468.5,550.0 L1468.8,552.0 L1469.2,554.0 L1469.5,555.9 L1469.8,557.9 L1470.2,559.9 L1470.5,561.9 L1470.8,563.8 L1471.2,565.8 L1471.5,567.8 L1471.8,569.7 L1472.2,571.7 L1472.5,573.7 L1472.9,575.7 L1473.2,577.6 L1473.5,579.6 L1473.9,581.6 L1474.2,583.5 L1474.6,585.5 L1474.9,587.5 L1475.3,589.4 L1475.7,591.4 L1476.0,593.4 L1476.4,595.3 L1476.8,597.3 L1477.2,599.3 L1477.5,601.2 L1477.9,603.2 L1478.3,605.2 L1478.7,607.1 L1479.1,609.1 L1479.5,611.0 L1479.9,613.0 L1480.2,615.0 L1480.6,616.9 L1481.0,618.9 L1481.4,620.8 L1481.8,622.8 L1482.2,624.8 L1482.6,626.7 L1482.9,628.7 L1483.3,630.7 L1483.7,632.6 L1484.0,634.6 L1484.4,636.6 L1484.8,638.5 L1485.1,640.5 L1485.5,642.5 L1485.8,644.4 L1486.2,646.4 L1486.5,648.4 L1486.9,650.3 L1487.2,652.3 L1487.6,654.3 L1487.9,656.3 L1488.3,658.2 L1488.6,660.2 L1488.9,662.2 L1489.3,664.1 L1489.6,666.1 L1490.0,668.1 L1490.3,670.0 L1490.7,672.0 L1491.0,674.0 L1491.3,676.0 L1491.7,677.9 L1492.0,679.9 L1492.4,681.9 L1492.7,683.8 L1493.0,685.8 L1493.4,687.8 L1493.7,689.8 L1494.1,691.7 L1494.4,693.7 L1494.8,695.7 L1495.1,697.6 L1495.5,699.6 L1495.8,701.6 L1496.2,703.5 L1496.5,705.5 L1496.8,707.5 L1497.2,709.5 L1497.5,711.4 L1497.9,713.4 L1498.2,715.4 L1498.6,717.3 L1498.9,719.3 L1499.3,721.3 L1499.6,723.2 L1500.0,725.2 L1500.3,727.2 L1500.7,729.1 L1501.0,731.1 L1501.4,733.1 L1501.7,735.1 L1502.1,737.0 L1502.4,739.0 L1502.8,741.0 L1503.1,742.9 L1503.5,744.9 L1503.8,746.9 L1504.2,748.8 L1504.5,750.8 L1504.9,752.8 L1505.2,754.7 L1505.6,756.7 L1505.9,758.7 L1506.3,760.6 L1506.7,762.6 L1507.0,764.6 L1507.4,766.5 L1507.7,768.5 L1508.1,770.5 L1508.5,772.4 L1508.8,774.4 L1509.2,776.4 L1509.6,778.4 L1509.9,780.3 L1510.3,782.3 L1510.7,784.2 L1511.0,786.2 L1511.4,788.2 L1511.8,790.1 L1512.1,792.1 L1512.5,794.1 L1512.9,796.0 L1513.3,798.0 L1513.6,800.0 L1514.0,801.9 L1514.4,803.9 L1514.8,805.9 L1515.2,807.8 L1515.6,809.8 L1516.0,811.7 L1516.4,813.7 L1516.8,815.7 L1517.2,817.6 L1517.6,819.6 L1518.0,821.5 L1518.4,823.5 L1518.8,825.5 L1519.2,827.4 L1519.6,829.4 L1520.0,831.3 L1520.4,833.3 L1520.9,835.2 L1521.3,837.2 L1521.7,839.1 L1522.2,841.1 L1522.6,843.0 L1523.1,845.0 L1523.5,846.9 L1523.9,848.9 L1524.4,850.8 L1524.8,852.8 L1525.3,854.7 L1525.7,856.7 L1526.1,858.7 L1526.5,860.6 L1526.9,862.6 L1527.3,864.5 L1527.7,866.5 L1528.1,868.4 L1528.5,870.4 L1528.9,872.4 L1529.3,874.3 L1529.6,876.3 L1530.0,878.3 L1530.3,880.2 L1530.7,882.2 L1531.0,884.2 L1531.4,886.1 L1531.8,888.1 L1532.1,890.1 L1532.5,892.0 L1532.9,894.0 L1533.2,896.0 L1533.6,897.9 L1534.0,899.9 L1534.4,901.9 L1534.8,903.8 L1535.2,905.8 L1535.7,907.7 L1536.2,909.7 L1536.7,911.6 L1537.2,913.5 L1537.7,915.4 L1538.3,917.4 L1538.8,919.3 L1539.4,921.2 L1540.0,923.1 L1540.7,925.0 L1541.3,926.9 L1541.9,928.8 L1542.6,930.7 L1543.2,932.6 L1543.8,934.5 L1544.4,936.4 L1545.0,938.3 L1545.6,940.2 L1546.2,942.1 L1546.8,944.0 L1547.4,945.9 L1547.9,947.9 L1548.5,949.8 L1549.0,951.7 L1549.6,953.6 L1550.1,955.5 L1550.6,957.5 L1551.2,959.4 L1551.7,961.3 L1552.2,963.3 L1552.8,965.2 L1553.3,967.1 L1553.8,969.0 L1554.3,971.0 L1554.9,972.9 L1555.4,974.8 L1555.9,976.8 L1556.4,978.7 L1557.0,980.6 L1557.5,982.6 L1558.0,984.5 L1558.5,986.4 L1559.0,988.4 L1559.5,990.3 L1560.0,992.2 L1560.6,994.2 L1561.1,996.1 L1561.6,998.0 L1562.1,1000.0 L1562.6,1001.9 L1563.1,1003.8 L1563.6,1005.8 L1564.1,1007.7 L1564.5,1009.7 L1565.0,1011.6 L1565.5,1013.5 L1566.0,1015.5 L1566.5,1017.4 L1567.0,1019.3 L1567.5,1021.3 L1568.0,1023.2 L1568.5,1025.2 L1569.0,1027.1 L1569.5,1029.0 L1570.0,1031.0 L1570.6,1032.9 L1571.1,1034.8 L1571.6,1036.7 L1572.1,1038.7 L1572.7,1040.6 L1573.2,1042.5 L1573.8,1044.4 L1574.3,1046.4 L1574.9,1048.3 L1575.4,1050.2 L1576.0,1052.1 L1576.6,1054.0 L1577.2,1056.0 L1577.7,1057.9 L1578.3,1059.8 L1578.9,1061.7 L1579.5,1063.6 L1580.1,1065.5 L1580.7,1067.4 L1581.3,1069.3 L1581.9,1071.3 L1582.5,1073.2 L1583.1,1075.1 L1583.7,1077.0 L1584.3,1078.9 L1584.9,1080.8 L1585.5,1082.7 L1586.1,1084.6 L1586.8,1086.5 L1587.4,1088.4 L1588.0,1090.3 L1588.7,1092.2 L1589.3,1094.1 L1590.0,1096.0 L1590.6,1097.8 L1591.3,1099.7 L1592.0,1101.6 L1592.6,1103.5 L1593.3,1105.4 L1594.0,1107.3 L1594.7,1109.1 L1595.4,1111.0 L1596.1,1112.9 L1596.8,1114.7 L1597.5,1116.6 L1598.2,1118.5 L1599.0,1120.3 L1599.7,1122.2 L1600.5,1124.1 L1601.2,1125.9 L1602.0,1127.8 L1602.7,1129.6 L1603.5,1131.5 L1604.3,1133.3 L1605.1,1135.1 L1605.8,1137.0 L1606.6,1138.8 L1607.4,1140.6 L1608.2,1142.5 L1609.1,1144.3 L1609.9,1146.1 L1610.7,1147.9 L1611.5,1149.8 L1612.4,1151.6 L1613.2,1153.4 L1614.1,1155.2 L1614.9,1157.0 L1615.8,1158.8 L1616.7,1160.6 L1617.6,1162.4 L1618.5,1164.2 L1619.4,1166.0 L1620.3,1167.7 L1621.2,1169.5 L1622.1,1171.3 L1623.1,1173.1 L1624.0,1174.8 L1624.9,1176.6 L1625.9,1178.4 L1626.9,1180.1 L1627.8,1181.9 L1628.8,1183.6 L1629.8,1185.3 L1630.8,1187.1 L1631.8,1188.8 L1632.8,1190.5 L1633.8,1192.2 L1634.8,1194.0 L1635.9,1195.7 L1636.9,1197.4 L1638.0,1199.1 L1639.1,1200.7 L1640.2,1202.4 L1641.3,1204.1 L1642.4,1205.8 L1643.5,1207.4 L1644.6,1209.1 L1645.8,1210.7 L1646.9,1212.3 L1648.1,1213.9 L1649.3,1215.5 L1650.5,1217.1 L1651.7,1218.7 L1652.9,1220.3 L1654.2,1221.9 L1655.4,1223.4 L1656.7,1225.0 L1658.0,1226.5 L1659.2,1228.1 L1660.5,1229.6 L1661.8,1231.1 L1663.1,1232.6 L1664.5,1234.1 L1665.8,1235.6 L1667.1,1237.1 L1668.5,1238.6 L1669.9,1240.0 L1671.3,1241.5 L1672.7,1242.9 L1674.1,1244.3 L1675.5,1245.7 L1676.9,1247.1 L1678.3,1248.5 L1679.8,1249.9 L1681.2,1251.3 L1682.7,1252.6 L1684.2,1254.0 L1685.7,1255.3 L1687.2,1256.6 L1688.7,1258.0 L1690.2,1259.3 L1691.7,1260.6 L1693.2,1261.8 L1694.8,1263.1 L1696.3,1264.4 L1697.9,1265.6 L1699.5,1266.9 L1701.0,1268.1 L1702.6,1269.3 L1704.2,1270.5 L1705.9,1271.6 L1707.5,1272.8 L1709.2,1273.9 L1710.8,1275.0 L1712.5,1276.1 L1714.2,1277.2 L1715.9,1278.2 L1717.6,1279.3 L1719.3,1280.3 L1721.0,1281.3 L1722.8,1282.3 L1724.5,1283.2 L1726.3,1284.2 L1728.0,1285.1 L1729.8,1286.1 L1731.6,1287.0 L1733.4,1287.9 L1735.2,1288.8 L1737.0,1289.6 L1738.8,1290.5 L1740.6,1291.3 L1742.4,1292.1 L1744.3,1292.9 L1746.1,1293.6 L1748.0,1294.4 L1749.8,1295.1 L1751.7,1295.8 L1753.6,1296.5 L1755.4,1297.2 L1757.3,1297.9 L1759.2,1298.5 L1761.1,1299.2 L1763.0,1299.8 L1764.9,1300.4 L1766.8,1301.0 L1768.7,1301.6 L1770.7,1302.2 L1772.6,1302.7 L1774.5,1303.3 L1776.4,1303.8 L1778.4,1304.3 L1780.3,1304.8 L1782.2,1305.3 L1784.2,1305.8 L1786.1,1306.3 L1788.1,1306.7 L1790.0,1307.2 L1792.0,1307.6 L1793.9,1308.0 L1795.9,1308.5 L1797.8,1308.9 L1799.8,1309.3 L1801.7,1309.6 L1803.7,1310.0 L1805.7,1310.4 L1807.6,1310.7 L1809.6,1311.1 L1811.6,1311.4 L1813.6,1311.8 L1815.5,1312.1 L1817.5,1312.4 L1819.5,1312.8 L1821.4,1313.1 L1823.4,1313.4 L1825.4,1313.7 L1827.4,1314.0 L1829.4,1314.3 L1831.3,1314.6 L1833.3,1314.9 L1835.3,1315.1 L1837.3,1315.4 L1839.3,1315.7 L1841.2,1316.0 L1843.2,1316.2 L1845.2,1316.5 L1847.2,1316.8 L1849.2,1317.0 L1851.1,1317.3 L1853.1,1317.5 L1855.1,1317.8 L1857.1,1318.0 L1859.1,1318.2 L1861.1,1318.5 L1863.1,1318.7 L1865.0,1318.9 L1867.0,1319.2 L1869.0,1319.4 L1871.0,1319.6 L1873.0,1319.8 L1875.0,1320.1 L1877.0,1320.3 L1879.0,1320.5 L1881.0,1320.7 L1882.9,1320.9 L1884.9,1321.1 L1886.9,1321.3 L1888.9,1321.5 L1890.9,1321.7 L1892.9,1321.9 L1894.9,1322.1 L1896.8,1322.3 L1898.8,1322.5 L1900.8,1322.7 L1902.7,1322.8 L1904.5,1323.0 L1906.3,1323.2 L1908.0,1323.3 L1909.5,1323.4 L1910.9,1323.6 L1912.1,1323.7"/>
</g>
<rect x="305" y="82" width="4" height="1310" fill="#4a4a4a"/>
<rect x="309" y="86" width="4" height="1302" fill="#808080"/>
<rect x="281" y="82" width="1661" height="4" fill="#4a4a4a"/>
<rect x="1942" y="82" width="4" height="8" fill="#c4c4c4"/>
<rect x="281" y="86" width="1661" height="4" fill="#7e7e7e"/>
<rect x="1910" y="90" width="4" height="1330" fill="#d0d0d0"/>
<rect x="1918" y="90" width="4" height="1330" fill="#c4c4c4"/>
<rect x="1914" y="84" width="4" height="1332" fill="#333"/>
<rect x="281" y="1380" width="1629" height="4" fill="#e6e6e6"/>
<rect x="1942" y="1384" width="4" height="8" fill="#c8c8c8"/>
<rect x="281" y="1384" width="1661" height="4" fill="#383838"/>
<rect x="281" y="1388" width="1661" height="4" fill="#a0a0a0"/>
<rect x="293" y="1189.2" width="12" height="4" fill="#3a3a3a"/><rect x="293" y="1074.6" width="12" height="4" fill="#3a3a3a"/><rect x="293" y="993.4" width="12" height="4" fill="#3a3a3a"/><rect x="293" y="930.3" width="12" height="4" fill="#3a3a3a"/><rect x="293" y="878.8" width="12" height="4" fill="#3a3a3a"/><rect x="293" y="835.3" width="12" height="4" fill="#3a3a3a"/><rect x="293" y="797.5" width="12" height="4" fill="#3a3a3a"/><rect x="293" y="764.3" width="12" height="4" fill="#3a3a3a"/><rect x="293" y="538.7" width="12" height="4" fill="#3a3a3a"/><rect x="293" y="424.1" width="12" height="4" fill="#3a3a3a"/><rect x="293" y="342.9" width="12" height="4" fill="#3a3a3a"/><rect x="293" y="279.8" width="12" height="4" fill="#3a3a3a"/><rect x="293" y="228.3" width="12" height="4" fill="#3a3a3a"/><rect x="293" y="184.8" width="12" height="4" fill="#3a3a3a"/><rect x="293" y="147.0" width="12" height="4" fill="#3a3a3a"/><rect x="293" y="113.8" width="12" height="4" fill="#3a3a3a"/><rect x="281" y="734.5" width="24" height="4" fill="#3a3a3a"/><rect x="1918" y="1254.9" width="12" height="4" fill="#2e2e2e"/><rect x="1918" y="1124.8" width="24" height="4" fill="#2e2e2e"/><rect x="1918" y="994.7" width="12" height="4" fill="#2e2e2e"/><rect x="1918" y="864.6" width="24" height="4" fill="#2e2e2e"/><rect x="1918" y="734.5" width="12" height="4" fill="#2e2e2e"/><rect x="1918" y="604.4" width="24" height="4" fill="#2e2e2e"/><rect x="1918" y="474.3" width="12" height="4" fill="#2e2e2e"/><rect x="1918" y="344.2" width="24" height="4" fill="#2e2e2e"/><rect x="1918" y="214.1" width="12" height="4" fill="#2e2e2e"/><rect x="574.8" y="1392" width="4" height="12" fill="#2a2a2a"/><rect x="842.7" y="1392" width="4" height="24" fill="#2a2a2a"/><rect x="1110.5" y="1392" width="4" height="12" fill="#2a2a2a"/><rect x="1378.3" y="1392" width="4" height="24" fill="#2a2a2a"/><rect x="1646.2" y="1392" width="4" height="12" fill="#2a2a2a"/><rect x="305" y="1392" width="4" height="24" fill="#3a3a3a"/><rect x="309" y="1392" width="4" height="24" fill="#777"/><rect x="1914" y="1392" width="4" height="24" fill="#333"/>
<g font-family="Liberation Sans, Arial, sans-serif" fill="#1c1c1c" stroke="#1c1c1c" stroke-linejoin="round" font-size="64" stroke-width="0.7">
<text transform="translate(309.0,1481) scale(0.98,1)" text-anchor="middle">100</text>
<text transform="translate(844.7,1481) scale(0.98,1)" text-anchor="middle">150</text>
<text transform="translate(1380.3,1481) scale(0.98,1)" text-anchor="middle">200</text>
<text transform="translate(1916.0,1481) scale(0.98,1)" text-anchor="middle">250</text>
<text transform="translate(1960.5,1404.0) scale(0.98,1)">0.00</text>
<text transform="translate(1960.5,1143.8) scale(0.98,1)">0.05</text>
<text transform="translate(1960.5,883.6) scale(0.98,1)">0.10</text>
<text transform="translate(1960.5,623.4) scale(0.98,1)">0.15</text>
<text transform="translate(1960.5,363.2) scale(0.98,1)">0.20</text>
<text transform="translate(1960.5,103.0) scale(0.98,1)">0.25</text>
<text transform="translate(175.5,1411.0) scale(0.98,1)">10<tspan font-size="40" dy="-35">3</tspan></text>
<text transform="translate(175.5,760.5) scale(0.98,1)">10<tspan font-size="40" dy="-35">4</tspan></text>
<text transform="translate(175.5,110.0) scale(0.98,1)">10<tspan font-size="40" dy="-35">5</tspan></text>
</g>
<text font-family="Liberation Sans, Arial, sans-serif" fill="#1c1c1c" stroke="#1c1c1c" stroke-linejoin="round" stroke-width="0.7" font-size="68.8" transform="translate(137.5,1065.5) rotate(-90)">Storage modulus (MPa)</text>
<text font-family="Liberation Sans, Arial, sans-serif" fill="#1c1c1c" stroke="#1c1c1c" stroke-linejoin="round" stroke-width="0.7" font-size="68" transform="translate(2127.2,654) rotate(90)">tan δ</text>
<text font-family="Liberation Sans, Arial, sans-serif" fill="#1c1c1c" stroke="#1c1c1c" stroke-linejoin="round" stroke-width="0.7" font-size="70" x="847" y="1593">Temperature (ºC)</text>
<rect x="331" y="839" width="539" height="349" fill="#fff" stroke="#3c3c3c" stroke-width="4"/>
<line x1="357" y1="897.5" x2="498" y2="897.5" stroke="#555" stroke-width="5"/>
<line x1="357" y1="974.5" x2="498" y2="974.5" stroke="#b8b8b8" stroke-width="5"/>
<line x1="357" y1="1051" x2="500" y2="1051" stroke="#9a6470" stroke-width="5" stroke-dasharray="19.5 11"/>
<line x1="357" y1="1127.5" x2="500" y2="1127.5" stroke="#7a7a8e" stroke-width="5" stroke-dasharray="7 12.3"/>
<g font-family="Liberation Sans, Arial, sans-serif" fill="#1c1c1c" stroke="#1c1c1c" stroke-linejoin="round" font-size="68" stroke-width="1.1">
<text transform="translate(516.5,920.5) scale(0.92,1)">CFRP</text>
<text transform="translate(516.5,997.5) scale(0.92,1)">CFRP-GNP</text>
<text transform="translate(516.5,1074.5) scale(0.92,1)">CFRP-GO</text>
<text transform="translate(516.5,1151.5) scale(0.92,1)">CFRP-rGO</text>
</g>
</g>
</svg>
</body></html>
